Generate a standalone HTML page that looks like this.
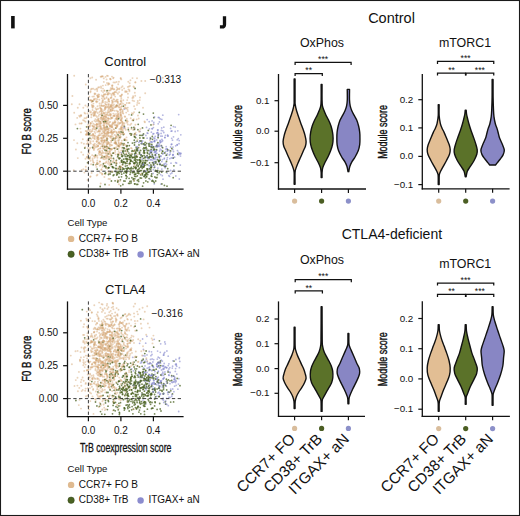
<!DOCTYPE html><html><head><meta charset="utf-8"><style>html,body{margin:0;padding:0;background:#fff;}svg{display:block;}text{font-family:"Liberation Sans",sans-serif;fill:#111;} .t{fill:#d6a776;fill-opacity:.5;r:.95px} .g{fill:#4a6220;fill-opacity:.75;r:.9px} .p{fill:#7a7ec8;fill-opacity:.55;r:.9px}</style></head><body>
<svg width="520" height="516" viewBox="0 0 520 516">
<rect x="0" y="0" width="520" height="516" fill="#fff"/>
<rect x="11.1" y="16" width="3.6" height="12.4" fill="#111"/>
<g>
<circle class="t" cx="95.2" cy="133.1"/>
<circle class="p" cx="172.8" cy="149.5"/>
<circle class="t" cx="89.0" cy="140.6"/>
<circle class="t" cx="112.2" cy="86.1"/>
<circle class="t" cx="102.5" cy="129.6"/>
<circle class="g" cx="162.6" cy="151.1"/>
<circle class="g" cx="173.9" cy="165.8"/>
<circle class="t" cx="135.2" cy="95.7"/>
<circle class="t" cx="112.4" cy="110.1"/>
<circle class="t" cx="74.2" cy="75.7"/>
<circle class="t" cx="122.6" cy="111.7"/>
<circle class="g" cx="156.8" cy="145.4"/>
<circle class="t" cx="110.5" cy="98.1"/>
<circle class="g" cx="134.1" cy="163.5"/>
<circle class="p" cx="177.8" cy="130.8"/>
<circle class="t" cx="128.2" cy="159.5"/>
<circle class="g" cx="135.9" cy="167.0"/>
<circle class="t" cx="88.2" cy="134.6"/>
<circle class="t" cx="103.0" cy="102.3"/>
<circle class="t" cx="106.2" cy="120.7"/>
<circle class="t" cx="107.2" cy="114.6"/>
<circle class="t" cx="108.5" cy="109.1"/>
<circle class="g" cx="134.9" cy="155.9"/>
<circle class="p" cx="152.7" cy="181.1"/>
<circle class="p" cx="162.7" cy="154.1"/>
<circle class="t" cx="99.5" cy="143.5"/>
<circle class="g" cx="149.6" cy="162.9"/>
<circle class="t" cx="128.3" cy="128.0"/>
<circle class="t" cx="97.2" cy="91.0"/>
<circle class="g" cx="140.7" cy="167.2"/>
<circle class="t" cx="96.1" cy="79.7"/>
<circle class="t" cx="104.6" cy="140.7"/>
<circle class="p" cx="173.5" cy="151.5"/>
<circle class="t" cx="114.2" cy="99.4"/>
<circle class="g" cx="134.5" cy="174.7"/>
<circle class="t" cx="90.7" cy="141.3"/>
<circle class="t" cx="131.4" cy="129.1"/>
<circle class="t" cx="95.4" cy="129.5"/>
<circle class="t" cx="92.4" cy="129.2"/>
<circle class="p" cx="148.2" cy="157.0"/>
<circle class="p" cx="173.2" cy="154.7"/>
<circle class="g" cx="128.0" cy="142.6"/>
<circle class="g" cx="84.8" cy="148.0"/>
<circle class="t" cx="90.9" cy="135.6"/>
<circle class="t" cx="124.1" cy="88.4"/>
<circle class="t" cx="116.5" cy="125.2"/>
<circle class="g" cx="140.6" cy="150.5"/>
<circle class="p" cx="153.8" cy="122.3"/>
<circle class="t" cx="104.6" cy="90.8"/>
<circle class="t" cx="99.2" cy="94.6"/>
<circle class="t" cx="118.9" cy="153.1"/>
<circle class="g" cx="141.4" cy="143.7"/>
<circle class="g" cx="122.9" cy="151.4"/>
<circle class="t" cx="117.9" cy="93.7"/>
<circle class="t" cx="99.6" cy="103.4"/>
<circle class="t" cx="98.4" cy="120.3"/>
<circle class="t" cx="101.8" cy="138.3"/>
<circle class="p" cx="164.4" cy="158.1"/>
<circle class="t" cx="120.8" cy="136.9"/>
<circle class="t" cx="108.3" cy="147.4"/>
<circle class="t" cx="74.0" cy="140.1"/>
<circle class="t" cx="92.4" cy="107.4"/>
<circle class="p" cx="167.1" cy="148.9"/>
<circle class="g" cx="115.8" cy="128.1"/>
<circle class="p" cx="159.8" cy="164.3"/>
<circle class="g" cx="139.0" cy="144.9"/>
<circle class="p" cx="158.6" cy="145.5"/>
<circle class="t" cx="79.9" cy="116.7"/>
<circle class="t" cx="105.0" cy="127.4"/>
<circle class="t" cx="89.1" cy="144.5"/>
<circle class="t" cx="121.8" cy="147.7"/>
<circle class="t" cx="102.9" cy="85.6"/>
<circle class="t" cx="107.2" cy="155.5"/>
<circle class="t" cx="89.3" cy="96.7"/>
<circle class="t" cx="89.7" cy="110.9"/>
<circle class="t" cx="109.8" cy="111.5"/>
<circle class="g" cx="146.6" cy="173.4"/>
<circle class="g" cx="135.6" cy="174.3"/>
<circle class="t" cx="99.6" cy="161.6"/>
<circle class="t" cx="112.5" cy="101.6"/>
<circle class="t" cx="121.0" cy="96.5"/>
<circle class="g" cx="161.4" cy="145.7"/>
<circle class="g" cx="142.3" cy="155.9"/>
<circle class="g" cx="107.1" cy="90.7"/>
<circle class="t" cx="109.7" cy="151.9"/>
<circle class="t" cx="103.9" cy="157.3"/>
<circle class="g" cx="126.6" cy="172.6"/>
<circle class="t" cx="84.4" cy="172.6"/>
<circle class="g" cx="126.9" cy="163.2"/>
<circle class="t" cx="100.5" cy="123.1"/>
<circle class="t" cx="104.6" cy="133.2"/>
<circle class="g" cx="133.2" cy="172.4"/>
<circle class="g" cx="125.4" cy="166.1"/>
<circle class="p" cx="160.2" cy="140.5"/>
<circle class="g" cx="142.4" cy="174.9"/>
<circle class="g" cx="129.9" cy="162.9"/>
<circle class="t" cx="110.7" cy="114.4"/>
<circle class="t" cx="105.5" cy="94.3"/>
<circle class="t" cx="108.1" cy="84.7"/>
<circle class="t" cx="95.0" cy="145.9"/>
<circle class="t" cx="115.2" cy="96.6"/>
<circle class="t" cx="81.7" cy="169.9"/>
<circle class="p" cx="165.4" cy="135.3"/>
<circle class="p" cx="136.1" cy="146.6"/>
<circle class="g" cx="161.7" cy="172.2"/>
<circle class="t" cx="119.4" cy="146.9"/>
<circle class="g" cx="141.5" cy="178.1"/>
<circle class="t" cx="101.9" cy="109.5"/>
<circle class="p" cx="161.8" cy="161.6"/>
<circle class="t" cx="93.6" cy="115.8"/>
<circle class="g" cx="134.4" cy="163.6"/>
<circle class="g" cx="124.1" cy="148.6"/>
<circle class="g" cx="123.4" cy="106.2"/>
<circle class="g" cx="124.4" cy="126.5"/>
<circle class="t" cx="105.2" cy="103.6"/>
<circle class="g" cx="157.0" cy="146.5"/>
<circle class="g" cx="102.6" cy="146.3"/>
<circle class="p" cx="180.3" cy="165.1"/>
<circle class="t" cx="105.4" cy="136.5"/>
<circle class="p" cx="163.4" cy="153.2"/>
<circle class="t" cx="112.8" cy="93.2"/>
<circle class="g" cx="140.2" cy="178.0"/>
<circle class="t" cx="110.2" cy="126.7"/>
<circle class="t" cx="106.2" cy="142.5"/>
<circle class="t" cx="127.8" cy="121.4"/>
<circle class="g" cx="135.9" cy="168.4"/>
<circle class="t" cx="119.3" cy="89.3"/>
<circle class="t" cx="77.2" cy="117.9"/>
<circle class="t" cx="108.7" cy="157.3"/>
<circle class="t" cx="111.7" cy="118.0"/>
<circle class="p" cx="154.3" cy="183.9"/>
<circle class="t" cx="79.2" cy="115.7"/>
<circle class="p" cx="172.8" cy="155.4"/>
<circle class="g" cx="137.1" cy="173.2"/>
<circle class="t" cx="127.8" cy="107.6"/>
<circle class="t" cx="111.6" cy="132.2"/>
<circle class="t" cx="108.6" cy="99.4"/>
<circle class="g" cx="134.7" cy="176.3"/>
<circle class="g" cx="125.3" cy="156.5"/>
<circle class="t" cx="90.0" cy="100.2"/>
<circle class="p" cx="167.1" cy="173.1"/>
<circle class="t" cx="112.5" cy="85.4"/>
<circle class="t" cx="106.2" cy="162.6"/>
<circle class="g" cx="127.8" cy="155.4"/>
<circle class="t" cx="111.9" cy="100.5"/>
<circle class="g" cx="158.7" cy="160.9"/>
<circle class="t" cx="129.2" cy="164.7"/>
<circle class="p" cx="167.0" cy="159.5"/>
<circle class="t" cx="96.5" cy="144.6"/>
<circle class="p" cx="150.2" cy="137.6"/>
<circle class="t" cx="102.9" cy="119.3"/>
<circle class="t" cx="95.6" cy="156.5"/>
<circle class="p" cx="135.8" cy="142.0"/>
<circle class="t" cx="103.8" cy="113.0"/>
<circle class="p" cx="160.0" cy="141.1"/>
<circle class="g" cx="127.1" cy="156.3"/>
<circle class="t" cx="98.2" cy="126.8"/>
<circle class="t" cx="100.4" cy="148.4"/>
<circle class="p" cx="158.0" cy="130.0"/>
<circle class="t" cx="103.2" cy="121.9"/>
<circle class="t" cx="99.2" cy="87.3"/>
<circle class="g" cx="115.5" cy="138.3"/>
<circle class="p" cx="146.5" cy="127.4"/>
<circle class="t" cx="117.7" cy="99.7"/>
<circle class="t" cx="125.7" cy="148.9"/>
<circle class="g" cx="112.2" cy="166.6"/>
<circle class="t" cx="112.6" cy="101.1"/>
<circle class="t" cx="108.3" cy="142.1"/>
<circle class="t" cx="131.3" cy="123.7"/>
<circle class="t" cx="102.9" cy="76.4"/>
<circle class="p" cx="153.4" cy="127.6"/>
<circle class="t" cx="88.6" cy="158.8"/>
<circle class="t" cx="105.7" cy="156.5"/>
<circle class="t" cx="118.5" cy="148.5"/>
<circle class="p" cx="177.2" cy="145.0"/>
<circle class="g" cx="132.2" cy="157.7"/>
<circle class="t" cx="124.6" cy="139.2"/>
<circle class="t" cx="94.7" cy="113.7"/>
<circle class="t" cx="110.3" cy="165.8"/>
<circle class="t" cx="98.8" cy="138.3"/>
<circle class="g" cx="134.5" cy="145.0"/>
<circle class="t" cx="93.0" cy="106.0"/>
<circle class="t" cx="111.6" cy="124.7"/>
<circle class="t" cx="113.0" cy="108.4"/>
<circle class="t" cx="83.9" cy="143.7"/>
<circle class="t" cx="94.7" cy="124.8"/>
<circle class="g" cx="129.1" cy="178.3"/>
<circle class="t" cx="102.4" cy="144.2"/>
<circle class="g" cx="144.1" cy="155.3"/>
<circle class="g" cx="150.0" cy="156.4"/>
<circle class="g" cx="143.8" cy="167.0"/>
<circle class="g" cx="139.4" cy="159.9"/>
<circle class="p" cx="165.3" cy="166.9"/>
<circle class="g" cx="131.6" cy="114.9"/>
<circle class="g" cx="123.9" cy="173.1"/>
<circle class="g" cx="112.7" cy="166.9"/>
<circle class="g" cx="129.4" cy="156.8"/>
<circle class="t" cx="95.3" cy="127.8"/>
<circle class="g" cx="149.1" cy="178.6"/>
<circle class="t" cx="126.3" cy="153.4"/>
<circle class="t" cx="115.7" cy="154.4"/>
<circle class="p" cx="157.6" cy="130.1"/>
<circle class="g" cx="153.8" cy="149.0"/>
<circle class="g" cx="140.1" cy="141.0"/>
<circle class="t" cx="103.2" cy="158.7"/>
<circle class="t" cx="112.4" cy="88.7"/>
<circle class="p" cx="160.8" cy="156.4"/>
<circle class="t" cx="80.9" cy="115.5"/>
<circle class="p" cx="157.3" cy="157.5"/>
<circle class="t" cx="77.3" cy="143.2"/>
<circle class="p" cx="147.9" cy="133.3"/>
<circle class="t" cx="107.4" cy="134.1"/>
<circle class="g" cx="135.9" cy="167.6"/>
<circle class="t" cx="92.4" cy="96.6"/>
<circle class="t" cx="118.3" cy="138.0"/>
<circle class="p" cx="151.2" cy="152.3"/>
<circle class="g" cx="173.2" cy="177.7"/>
<circle class="t" cx="110.3" cy="150.8"/>
<circle class="p" cx="152.4" cy="146.1"/>
<circle class="g" cx="131.5" cy="134.0"/>
<circle class="g" cx="153.4" cy="157.7"/>
<circle class="g" cx="173.3" cy="158.0"/>
<circle class="g" cx="133.7" cy="151.2"/>
<circle class="t" cx="125.4" cy="105.0"/>
<circle class="t" cx="105.1" cy="109.5"/>
<circle class="t" cx="109.0" cy="112.2"/>
<circle class="p" cx="152.0" cy="155.8"/>
<circle class="p" cx="150.8" cy="141.8"/>
<circle class="t" cx="108.3" cy="106.5"/>
<circle class="t" cx="122.0" cy="128.1"/>
<circle class="p" cx="140.0" cy="131.4"/>
<circle class="g" cx="136.2" cy="147.8"/>
<circle class="g" cx="151.2" cy="166.2"/>
<circle class="t" cx="107.5" cy="156.2"/>
<circle class="t" cx="120.8" cy="115.0"/>
<circle class="t" cx="121.0" cy="109.0"/>
<circle class="g" cx="123.9" cy="181.0"/>
<circle class="t" cx="105.5" cy="151.0"/>
<circle class="p" cx="151.5" cy="157.4"/>
<circle class="p" cx="121.3" cy="152.6"/>
<circle class="g" cx="147.8" cy="181.9"/>
<circle class="t" cx="116.5" cy="147.1"/>
<circle class="t" cx="93.2" cy="126.8"/>
<circle class="t" cx="101.4" cy="137.8"/>
<circle class="t" cx="94.4" cy="115.4"/>
<circle class="t" cx="138.7" cy="118.5"/>
<circle class="p" cx="168.1" cy="135.9"/>
<circle class="t" cx="111.1" cy="106.3"/>
<circle class="t" cx="117.4" cy="125.7"/>
<circle class="g" cx="129.3" cy="163.6"/>
<circle class="t" cx="121.1" cy="166.9"/>
<circle class="t" cx="107.8" cy="142.0"/>
<circle class="t" cx="111.8" cy="108.1"/>
<circle class="g" cx="138.5" cy="179.7"/>
<circle class="g" cx="134.6" cy="163.2"/>
<circle class="g" cx="145.9" cy="181.0"/>
<circle class="t" cx="118.2" cy="114.3"/>
<circle class="t" cx="109.9" cy="126.0"/>
<circle class="t" cx="116.3" cy="136.6"/>
<circle class="t" cx="101.7" cy="95.5"/>
<circle class="g" cx="143.1" cy="143.9"/>
<circle class="t" cx="103.8" cy="78.4"/>
<circle class="t" cx="103.5" cy="117.7"/>
<circle class="t" cx="121.9" cy="127.4"/>
<circle class="p" cx="159.8" cy="158.9"/>
<circle class="p" cx="161.7" cy="127.9"/>
<circle class="t" cx="91.7" cy="102.2"/>
<circle class="p" cx="180.4" cy="154.2"/>
<circle class="t" cx="108.1" cy="104.1"/>
<circle class="p" cx="137.3" cy="146.7"/>
<circle class="t" cx="97.1" cy="162.5"/>
<circle class="g" cx="111.1" cy="164.2"/>
<circle class="t" cx="98.5" cy="119.2"/>
<circle class="t" cx="97.6" cy="113.0"/>
<circle class="t" cx="130.7" cy="118.2"/>
<circle class="p" cx="175.8" cy="176.0"/>
<circle class="g" cx="137.7" cy="184.3"/>
<circle class="p" cx="173.4" cy="126.6"/>
<circle class="g" cx="147.3" cy="150.7"/>
<circle class="t" cx="97.0" cy="141.3"/>
<circle class="g" cx="105.6" cy="173.0"/>
<circle class="g" cx="133.3" cy="179.4"/>
<circle class="t" cx="91.9" cy="88.8"/>
<circle class="t" cx="114.0" cy="131.8"/>
<circle class="t" cx="93.0" cy="113.1"/>
<circle class="g" cx="128.0" cy="168.0"/>
<circle class="p" cx="165.5" cy="151.6"/>
<circle class="g" cx="117.7" cy="172.7"/>
<circle class="g" cx="144.2" cy="150.7"/>
<circle class="g" cx="124.1" cy="147.8"/>
<circle class="g" cx="115.7" cy="143.0"/>
<circle class="t" cx="105.0" cy="94.4"/>
<circle class="g" cx="135.4" cy="153.1"/>
<circle class="p" cx="175.2" cy="127.1"/>
<circle class="t" cx="98.4" cy="131.3"/>
<circle class="t" cx="111.8" cy="104.8"/>
<circle class="t" cx="94.2" cy="99.2"/>
<circle class="t" cx="94.1" cy="144.8"/>
<circle class="p" cx="167.7" cy="136.1"/>
<circle class="g" cx="129.9" cy="181.5"/>
<circle class="t" cx="108.1" cy="115.4"/>
<circle class="t" cx="103.1" cy="119.1"/>
<circle class="g" cx="97.0" cy="164.1"/>
<circle class="p" cx="171.9" cy="173.0"/>
<circle class="t" cx="107.0" cy="146.6"/>
<circle class="t" cx="122.8" cy="109.9"/>
<circle class="t" cx="117.2" cy="115.6"/>
<circle class="t" cx="126.5" cy="108.3"/>
<circle class="t" cx="81.2" cy="115.8"/>
<circle class="p" cx="167.3" cy="153.9"/>
<circle class="g" cx="108.2" cy="167.9"/>
<circle class="t" cx="109.5" cy="142.9"/>
<circle class="t" cx="114.4" cy="107.6"/>
<circle class="t" cx="111.9" cy="133.5"/>
<circle class="p" cx="151.4" cy="152.6"/>
<circle class="t" cx="95.0" cy="135.5"/>
<circle class="p" cx="159.4" cy="162.7"/>
<circle class="g" cx="156.4" cy="170.9"/>
<circle class="t" cx="137.4" cy="156.6"/>
<circle class="t" cx="83.3" cy="107.7"/>
<circle class="t" cx="89.2" cy="121.6"/>
<circle class="t" cx="107.4" cy="120.6"/>
<circle class="t" cx="121.6" cy="154.5"/>
<circle class="t" cx="97.5" cy="106.3"/>
<circle class="g" cx="108.2" cy="153.8"/>
<circle class="t" cx="87.1" cy="133.4"/>
<circle class="g" cx="119.8" cy="137.3"/>
<circle class="t" cx="108.7" cy="83.3"/>
<circle class="t" cx="117.8" cy="181.6"/>
<circle class="t" cx="108.1" cy="110.8"/>
<circle class="t" cx="93.7" cy="112.6"/>
<circle class="t" cx="93.0" cy="147.9"/>
<circle class="t" cx="90.8" cy="123.5"/>
<circle class="g" cx="147.4" cy="170.6"/>
<circle class="t" cx="108.4" cy="132.8"/>
<circle class="t" cx="120.7" cy="117.0"/>
<circle class="t" cx="108.7" cy="118.6"/>
<circle class="t" cx="106.1" cy="157.6"/>
<circle class="t" cx="107.9" cy="112.3"/>
<circle class="g" cx="153.4" cy="165.0"/>
<circle class="t" cx="89.5" cy="131.3"/>
<circle class="t" cx="110.5" cy="106.7"/>
<circle class="t" cx="100.0" cy="161.5"/>
<circle class="g" cx="137.1" cy="141.1"/>
<circle class="p" cx="170.2" cy="154.1"/>
<circle class="t" cx="101.6" cy="113.3"/>
<circle class="t" cx="116.7" cy="132.3"/>
<circle class="p" cx="163.0" cy="179.2"/>
<circle class="t" cx="110.7" cy="154.7"/>
<circle class="t" cx="121.0" cy="126.9"/>
<circle class="g" cx="117.4" cy="149.2"/>
<circle class="t" cx="111.3" cy="136.4"/>
<circle class="g" cx="140.4" cy="161.3"/>
<circle class="g" cx="160.1" cy="160.2"/>
<circle class="t" cx="103.5" cy="132.6"/>
<circle class="g" cx="134.0" cy="180.8"/>
<circle class="p" cx="158.2" cy="123.8"/>
<circle class="t" cx="105.1" cy="140.4"/>
<circle class="t" cx="118.8" cy="135.7"/>
<circle class="g" cx="92.6" cy="101.2"/>
<circle class="t" cx="92.5" cy="110.0"/>
<circle class="t" cx="111.5" cy="145.2"/>
<circle class="p" cx="164.1" cy="164.0"/>
<circle class="t" cx="93.7" cy="148.9"/>
<circle class="t" cx="113.6" cy="77.6"/>
<circle class="g" cx="149.8" cy="146.2"/>
<circle class="t" cx="106.8" cy="125.7"/>
<circle class="p" cx="157.1" cy="144.1"/>
<circle class="g" cx="155.7" cy="181.0"/>
<circle class="t" cx="110.4" cy="132.6"/>
<circle class="g" cx="146.7" cy="149.0"/>
<circle class="t" cx="96.7" cy="126.7"/>
<circle class="p" cx="146.4" cy="157.2"/>
<circle class="t" cx="116.7" cy="99.7"/>
<circle class="t" cx="103.6" cy="96.7"/>
<circle class="t" cx="104.2" cy="118.8"/>
<circle class="t" cx="101.3" cy="105.1"/>
<circle class="p" cx="142.0" cy="142.5"/>
<circle class="t" cx="102.7" cy="152.2"/>
<circle class="p" cx="153.8" cy="159.4"/>
<circle class="g" cx="118.1" cy="171.3"/>
<circle class="t" cx="118.2" cy="84.2"/>
<circle class="t" cx="99.3" cy="99.7"/>
<circle class="t" cx="87.7" cy="157.7"/>
<circle class="g" cx="148.3" cy="130.4"/>
<circle class="t" cx="111.7" cy="94.3"/>
<circle class="g" cx="141.2" cy="141.0"/>
<circle class="p" cx="155.4" cy="151.3"/>
<circle class="p" cx="159.2" cy="117.7"/>
<circle class="t" cx="96.2" cy="125.0"/>
<circle class="g" cx="133.4" cy="157.3"/>
<circle class="g" cx="118.0" cy="180.7"/>
<circle class="g" cx="135.3" cy="174.2"/>
<circle class="g" cx="122.8" cy="155.8"/>
<circle class="p" cx="155.4" cy="158.7"/>
<circle class="t" cx="117.6" cy="119.4"/>
<circle class="t" cx="98.8" cy="142.2"/>
<circle class="t" cx="73.8" cy="170.2"/>
<circle class="t" cx="107.7" cy="147.4"/>
<circle class="t" cx="111.7" cy="126.4"/>
<circle class="t" cx="103.7" cy="137.8"/>
<circle class="t" cx="133.5" cy="134.8"/>
<circle class="t" cx="114.9" cy="122.1"/>
<circle class="g" cx="106.9" cy="140.1"/>
<circle class="t" cx="110.4" cy="79.3"/>
<circle class="g" cx="146.5" cy="173.3"/>
<circle class="g" cx="122.4" cy="169.6"/>
<circle class="t" cx="81.5" cy="142.8"/>
<circle class="g" cx="118.9" cy="177.2"/>
<circle class="p" cx="154.8" cy="140.5"/>
<circle class="t" cx="145.2" cy="93.3"/>
<circle class="t" cx="96.6" cy="124.2"/>
<circle class="g" cx="154.9" cy="177.0"/>
<circle class="t" cx="93.8" cy="114.8"/>
<circle class="g" cx="93.2" cy="164.7"/>
<circle class="t" cx="119.3" cy="129.1"/>
<circle class="g" cx="123.0" cy="152.0"/>
<circle class="t" cx="116.7" cy="117.5"/>
<circle class="t" cx="115.1" cy="152.1"/>
<circle class="p" cx="179.0" cy="143.7"/>
<circle class="p" cx="137.5" cy="148.4"/>
<circle class="g" cx="115.7" cy="168.5"/>
<circle class="t" cx="100.1" cy="148.4"/>
<circle class="t" cx="95.4" cy="112.3"/>
<circle class="t" cx="114.8" cy="120.4"/>
<circle class="g" cx="145.2" cy="160.4"/>
<circle class="g" cx="120.4" cy="179.8"/>
<circle class="t" cx="104.8" cy="114.0"/>
<circle class="t" cx="94.1" cy="111.3"/>
<circle class="t" cx="118.1" cy="122.2"/>
<circle class="p" cx="157.7" cy="171.1"/>
<circle class="t" cx="125.7" cy="129.8"/>
<circle class="g" cx="147.2" cy="160.7"/>
<circle class="g" cx="116.4" cy="160.3"/>
<circle class="t" cx="112.8" cy="102.5"/>
<circle class="t" cx="115.8" cy="101.4"/>
<circle class="t" cx="116.1" cy="161.0"/>
<circle class="t" cx="85.9" cy="134.8"/>
<circle class="t" cx="99.0" cy="135.3"/>
<circle class="g" cx="116.1" cy="165.4"/>
<circle class="t" cx="102.9" cy="165.2"/>
<circle class="t" cx="106.6" cy="143.9"/>
<circle class="t" cx="115.7" cy="141.0"/>
<circle class="t" cx="111.9" cy="145.3"/>
<circle class="t" cx="117.5" cy="125.8"/>
<circle class="t" cx="106.5" cy="133.2"/>
<circle class="t" cx="124.1" cy="134.3"/>
<circle class="t" cx="121.0" cy="95.7"/>
<circle class="t" cx="115.5" cy="121.6"/>
<circle class="p" cx="149.3" cy="168.4"/>
<circle class="t" cx="112.7" cy="110.4"/>
<circle class="t" cx="91.0" cy="89.3"/>
<circle class="t" cx="120.6" cy="120.1"/>
<circle class="t" cx="117.0" cy="126.3"/>
<circle class="p" cx="158.1" cy="136.0"/>
<circle class="t" cx="134.1" cy="101.1"/>
<circle class="t" cx="105.4" cy="118.8"/>
<circle class="t" cx="99.4" cy="130.9"/>
<circle class="t" cx="92.4" cy="131.0"/>
<circle class="t" cx="123.3" cy="113.6"/>
<circle class="g" cx="115.5" cy="171.4"/>
<circle class="g" cx="134.8" cy="133.9"/>
<circle class="g" cx="134.6" cy="154.0"/>
<circle class="g" cx="131.6" cy="127.7"/>
<circle class="t" cx="109.5" cy="136.5"/>
<circle class="g" cx="137.6" cy="169.7"/>
<circle class="p" cx="177.2" cy="144.7"/>
<circle class="p" cx="159.1" cy="146.6"/>
<circle class="t" cx="149.9" cy="140.6"/>
<circle class="t" cx="102.3" cy="135.8"/>
<circle class="g" cx="152.5" cy="139.3"/>
<circle class="g" cx="154.3" cy="167.4"/>
<circle class="t" cx="114.1" cy="115.5"/>
<circle class="g" cx="146.5" cy="176.2"/>
<circle class="t" cx="114.4" cy="148.2"/>
<circle class="g" cx="162.6" cy="151.3"/>
<circle class="t" cx="91.0" cy="111.9"/>
<circle class="t" cx="119.3" cy="105.0"/>
<circle class="t" cx="106.3" cy="161.5"/>
<circle class="g" cx="157.8" cy="159.7"/>
<circle class="t" cx="111.3" cy="149.1"/>
<circle class="g" cx="140.5" cy="170.6"/>
<circle class="t" cx="98.1" cy="145.5"/>
<circle class="p" cx="177.2" cy="139.8"/>
<circle class="p" cx="170.6" cy="128.4"/>
<circle class="t" cx="101.6" cy="169.2"/>
<circle class="t" cx="100.9" cy="164.8"/>
<circle class="t" cx="115.4" cy="122.8"/>
<circle class="t" cx="101.9" cy="141.7"/>
<circle class="p" cx="169.6" cy="176.3"/>
<circle class="t" cx="126.9" cy="148.9"/>
<circle class="t" cx="111.3" cy="131.4"/>
<circle class="g" cx="118.6" cy="168.7"/>
<circle class="t" cx="87.3" cy="140.8"/>
<circle class="t" cx="113.7" cy="148.1"/>
<circle class="p" cx="161.1" cy="133.4"/>
<circle class="t" cx="98.6" cy="115.9"/>
<circle class="p" cx="165.2" cy="167.8"/>
<circle class="g" cx="135.6" cy="162.7"/>
<circle class="t" cx="107.3" cy="139.1"/>
<circle class="p" cx="156.3" cy="159.8"/>
<circle class="t" cx="90.3" cy="125.1"/>
<circle class="g" cx="117.7" cy="182.0"/>
<circle class="g" cx="147.8" cy="172.4"/>
<circle class="p" cx="142.0" cy="156.8"/>
<circle class="t" cx="99.3" cy="114.4"/>
<circle class="p" cx="167.0" cy="148.9"/>
<circle class="t" cx="112.5" cy="162.2"/>
<circle class="t" cx="100.1" cy="108.3"/>
<circle class="t" cx="80.9" cy="132.3"/>
<circle class="t" cx="93.1" cy="134.3"/>
<circle class="t" cx="87.2" cy="156.6"/>
<circle class="g" cx="144.1" cy="166.4"/>
<circle class="t" cx="135.1" cy="133.9"/>
<circle class="g" cx="127.7" cy="151.4"/>
<circle class="g" cx="131.0" cy="170.4"/>
<circle class="t" cx="101.0" cy="140.3"/>
<circle class="g" cx="126.7" cy="168.8"/>
<circle class="g" cx="125.1" cy="151.0"/>
<circle class="t" cx="108.5" cy="178.9"/>
<circle class="g" cx="86.6" cy="126.8"/>
<circle class="g" cx="126.4" cy="173.0"/>
<circle class="t" cx="104.5" cy="127.2"/>
<circle class="p" cx="169.4" cy="155.0"/>
<circle class="g" cx="136.5" cy="155.9"/>
<circle class="t" cx="90.3" cy="100.3"/>
<circle class="p" cx="165.7" cy="149.1"/>
<circle class="t" cx="111.2" cy="142.3"/>
<circle class="t" cx="95.1" cy="111.9"/>
<circle class="p" cx="154.1" cy="141.3"/>
<circle class="g" cx="127.0" cy="161.1"/>
<circle class="g" cx="138.9" cy="173.5"/>
<circle class="t" cx="87.2" cy="134.5"/>
<circle class="t" cx="88.8" cy="151.0"/>
<circle class="p" cx="150.3" cy="159.8"/>
<circle class="g" cx="126.1" cy="154.4"/>
<circle class="g" cx="127.5" cy="149.3"/>
<circle class="p" cx="169.4" cy="150.5"/>
<circle class="t" cx="85.7" cy="131.0"/>
<circle class="p" cx="158.0" cy="143.4"/>
<circle class="g" cx="121.6" cy="154.3"/>
<circle class="p" cx="163.8" cy="132.5"/>
<circle class="g" cx="126.7" cy="159.1"/>
<circle class="p" cx="155.8" cy="146.5"/>
<circle class="t" cx="109.3" cy="122.3"/>
<circle class="t" cx="112.0" cy="76.6"/>
<circle class="t" cx="106.8" cy="141.5"/>
<circle class="t" cx="100.1" cy="126.2"/>
<circle class="t" cx="87.8" cy="148.1"/>
<circle class="t" cx="104.5" cy="140.1"/>
<circle class="t" cx="109.2" cy="101.4"/>
<circle class="t" cx="112.5" cy="124.9"/>
<circle class="t" cx="97.2" cy="131.9"/>
<circle class="t" cx="107.5" cy="113.1"/>
<circle class="g" cx="123.4" cy="144.9"/>
<circle class="t" cx="144.9" cy="122.3"/>
<circle class="g" cx="118.6" cy="145.9"/>
<circle class="t" cx="113.2" cy="93.5"/>
<circle class="t" cx="102.7" cy="121.1"/>
<circle class="t" cx="106.0" cy="115.0"/>
<circle class="t" cx="104.3" cy="122.4"/>
<circle class="t" cx="125.8" cy="162.9"/>
<circle class="t" cx="117.8" cy="146.1"/>
<circle class="t" cx="86.8" cy="157.2"/>
<circle class="t" cx="103.8" cy="81.9"/>
<circle class="g" cx="145.8" cy="172.8"/>
<circle class="g" cx="134.4" cy="142.7"/>
<circle class="g" cx="100.2" cy="186.5"/>
<circle class="p" cx="149.4" cy="143.0"/>
<circle class="t" cx="96.6" cy="101.4"/>
<circle class="g" cx="145.4" cy="163.1"/>
<circle class="t" cx="120.8" cy="103.8"/>
<circle class="t" cx="107.6" cy="147.7"/>
<circle class="t" cx="93.9" cy="150.1"/>
<circle class="g" cx="118.1" cy="154.7"/>
<circle class="p" cx="147.1" cy="138.2"/>
<circle class="p" cx="174.6" cy="157.2"/>
<circle class="t" cx="117.6" cy="102.3"/>
<circle class="t" cx="115.5" cy="91.9"/>
<circle class="g" cx="149.0" cy="157.5"/>
<circle class="p" cx="148.5" cy="160.0"/>
<circle class="t" cx="103.9" cy="149.0"/>
<circle class="t" cx="128.9" cy="103.0"/>
<circle class="t" cx="133.9" cy="180.6"/>
<circle class="t" cx="117.4" cy="157.5"/>
<circle class="t" cx="139.0" cy="131.4"/>
<circle class="t" cx="95.4" cy="93.7"/>
<circle class="g" cx="120.5" cy="169.1"/>
<circle class="t" cx="97.1" cy="95.4"/>
<circle class="t" cx="100.7" cy="76.7"/>
<circle class="t" cx="89.3" cy="149.7"/>
<circle class="t" cx="120.9" cy="101.4"/>
<circle class="p" cx="166.6" cy="164.5"/>
<circle class="t" cx="108.7" cy="132.8"/>
<circle class="g" cx="143.2" cy="167.2"/>
<circle class="t" cx="120.6" cy="115.4"/>
<circle class="t" cx="101.0" cy="86.5"/>
<circle class="t" cx="135.4" cy="124.7"/>
<circle class="t" cx="100.3" cy="111.3"/>
<circle class="t" cx="134.6" cy="128.9"/>
<circle class="t" cx="93.2" cy="141.2"/>
<circle class="t" cx="94.2" cy="126.4"/>
<circle class="t" cx="113.8" cy="131.9"/>
<circle class="t" cx="107.2" cy="131.9"/>
<circle class="t" cx="125.2" cy="92.1"/>
<circle class="t" cx="98.7" cy="120.9"/>
<circle class="t" cx="99.9" cy="121.6"/>
<circle class="t" cx="110.1" cy="78.6"/>
<circle class="t" cx="112.1" cy="103.0"/>
<circle class="p" cx="165.7" cy="155.3"/>
<circle class="g" cx="147.1" cy="164.7"/>
<circle class="g" cx="126.3" cy="178.4"/>
<circle class="t" cx="118.2" cy="140.2"/>
<circle class="t" cx="126.7" cy="140.2"/>
<circle class="g" cx="131.1" cy="135.2"/>
<circle class="g" cx="139.3" cy="112.4"/>
<circle class="t" cx="120.2" cy="136.0"/>
<circle class="t" cx="103.1" cy="95.9"/>
<circle class="p" cx="178.3" cy="138.7"/>
<circle class="t" cx="104.0" cy="140.7"/>
<circle class="p" cx="160.4" cy="164.4"/>
<circle class="p" cx="139.7" cy="141.0"/>
<circle class="g" cx="171.8" cy="148.5"/>
<circle class="t" cx="125.0" cy="139.3"/>
<circle class="t" cx="98.9" cy="131.1"/>
<circle class="g" cx="130.5" cy="161.2"/>
<circle class="t" cx="101.1" cy="87.9"/>
<circle class="t" cx="87.9" cy="139.6"/>
<circle class="t" cx="103.4" cy="137.2"/>
<circle class="t" cx="92.7" cy="135.7"/>
<circle class="t" cx="108.1" cy="129.6"/>
<circle class="t" cx="94.8" cy="114.2"/>
<circle class="g" cx="138.2" cy="124.3"/>
<circle class="p" cx="175.7" cy="145.8"/>
<circle class="t" cx="126.5" cy="137.4"/>
<circle class="t" cx="122.6" cy="165.0"/>
<circle class="p" cx="160.9" cy="184.1"/>
<circle class="t" cx="93.6" cy="106.3"/>
<circle class="t" cx="104.8" cy="166.5"/>
<circle class="g" cx="139.9" cy="137.9"/>
<circle class="t" cx="124.7" cy="116.5"/>
<circle class="t" cx="105.8" cy="121.9"/>
<circle class="t" cx="94.4" cy="156.3"/>
<circle class="p" cx="142.2" cy="159.2"/>
<circle class="p" cx="156.8" cy="133.1"/>
<circle class="p" cx="158.1" cy="136.9"/>
<circle class="t" cx="96.4" cy="166.9"/>
<circle class="t" cx="86.6" cy="143.9"/>
<circle class="t" cx="109.3" cy="125.0"/>
<circle class="t" cx="144.5" cy="121.5"/>
<circle class="t" cx="110.7" cy="115.6"/>
<circle class="g" cx="140.1" cy="157.7"/>
<circle class="t" cx="122.2" cy="90.0"/>
<circle class="t" cx="101.7" cy="117.9"/>
<circle class="t" cx="108.4" cy="100.5"/>
<circle class="g" cx="143.5" cy="134.0"/>
<circle class="g" cx="137.2" cy="148.9"/>
<circle class="t" cx="95.9" cy="155.8"/>
<circle class="t" cx="120.9" cy="113.1"/>
<circle class="t" cx="120.2" cy="144.1"/>
<circle class="t" cx="111.6" cy="158.4"/>
<circle class="g" cx="144.7" cy="148.4"/>
<circle class="g" cx="132.9" cy="157.5"/>
<circle class="g" cx="143.9" cy="151.2"/>
<circle class="g" cx="144.2" cy="170.7"/>
<circle class="g" cx="155.1" cy="161.7"/>
<circle class="p" cx="154.4" cy="152.4"/>
<circle class="g" cx="154.3" cy="182.6"/>
<circle class="t" cx="127.4" cy="146.3"/>
<circle class="t" cx="111.9" cy="127.3"/>
<circle class="p" cx="162.1" cy="147.2"/>
<circle class="t" cx="105.2" cy="127.5"/>
<circle class="t" cx="115.2" cy="114.1"/>
<circle class="t" cx="130.1" cy="124.9"/>
<circle class="g" cx="139.6" cy="164.3"/>
<circle class="t" cx="83.2" cy="154.7"/>
<circle class="t" cx="101.1" cy="110.0"/>
<circle class="g" cx="145.1" cy="174.8"/>
<circle class="g" cx="132.0" cy="154.1"/>
<circle class="t" cx="139.1" cy="103.3"/>
<circle class="p" cx="171.9" cy="131.0"/>
<circle class="g" cx="151.2" cy="175.9"/>
<circle class="t" cx="102.8" cy="131.2"/>
<circle class="g" cx="134.5" cy="172.5"/>
<circle class="t" cx="91.7" cy="100.4"/>
<circle class="t" cx="119.3" cy="146.1"/>
<circle class="t" cx="123.0" cy="103.8"/>
<circle class="t" cx="101.9" cy="76.6"/>
<circle class="t" cx="87.0" cy="117.2"/>
<circle class="t" cx="106.2" cy="117.0"/>
<circle class="g" cx="111.5" cy="164.3"/>
<circle class="t" cx="121.3" cy="127.4"/>
<circle class="g" cx="141.4" cy="165.6"/>
<circle class="p" cx="136.5" cy="134.8"/>
<circle class="t" cx="99.5" cy="135.4"/>
<circle class="t" cx="104.3" cy="105.6"/>
<circle class="t" cx="93.7" cy="162.6"/>
<circle class="g" cx="115.1" cy="180.8"/>
<circle class="g" cx="145.5" cy="162.5"/>
<circle class="p" cx="175.2" cy="131.5"/>
<circle class="t" cx="96.2" cy="109.8"/>
<circle class="t" cx="132.9" cy="120.3"/>
<circle class="g" cx="166.5" cy="155.2"/>
<circle class="t" cx="101.4" cy="133.5"/>
<circle class="t" cx="120.1" cy="123.2"/>
<circle class="t" cx="124.9" cy="104.7"/>
<circle class="t" cx="120.7" cy="78.0"/>
<circle class="t" cx="102.2" cy="150.8"/>
<circle class="g" cx="142.6" cy="173.8"/>
<circle class="t" cx="101.0" cy="128.9"/>
<circle class="t" cx="88.0" cy="144.1"/>
<circle class="t" cx="112.9" cy="108.2"/>
<circle class="t" cx="119.5" cy="144.9"/>
<circle class="p" cx="153.8" cy="161.6"/>
<circle class="p" cx="152.2" cy="160.1"/>
<circle class="g" cx="140.3" cy="161.0"/>
<circle class="g" cx="147.6" cy="157.5"/>
<circle class="t" cx="108.7" cy="90.6"/>
<circle class="g" cx="116.4" cy="168.7"/>
<circle class="t" cx="122.5" cy="86.2"/>
<circle class="t" cx="100.8" cy="121.9"/>
<circle class="t" cx="83.4" cy="169.3"/>
<circle class="g" cx="120.2" cy="169.6"/>
<circle class="g" cx="143.8" cy="138.0"/>
<circle class="g" cx="140.7" cy="174.8"/>
<circle class="g" cx="92.6" cy="147.5"/>
<circle class="g" cx="139.7" cy="162.9"/>
<circle class="g" cx="133.3" cy="120.3"/>
<circle class="t" cx="99.5" cy="133.1"/>
<circle class="t" cx="98.3" cy="94.4"/>
<circle class="t" cx="109.9" cy="90.5"/>
<circle class="t" cx="84.5" cy="118.2"/>
<circle class="t" cx="105.5" cy="107.1"/>
<circle class="t" cx="91.3" cy="117.3"/>
<circle class="p" cx="171.1" cy="131.2"/>
<circle class="t" cx="127.5" cy="109.6"/>
<circle class="p" cx="167.6" cy="135.0"/>
<circle class="p" cx="172.5" cy="140.2"/>
<circle class="t" cx="87.5" cy="106.8"/>
<circle class="g" cx="120.0" cy="158.2"/>
<circle class="t" cx="104.0" cy="112.7"/>
<circle class="t" cx="90.0" cy="129.7"/>
<circle class="g" cx="143.8" cy="172.2"/>
<circle class="t" cx="101.8" cy="115.6"/>
<circle class="t" cx="116.5" cy="90.3"/>
<circle class="t" cx="119.0" cy="132.8"/>
<circle class="t" cx="116.9" cy="127.2"/>
<circle class="t" cx="131.9" cy="113.3"/>
<circle class="t" cx="132.6" cy="100.5"/>
<circle class="g" cx="130.6" cy="159.4"/>
<circle class="p" cx="154.5" cy="141.0"/>
<circle class="g" cx="142.5" cy="127.9"/>
<circle class="t" cx="122.4" cy="123.8"/>
<circle class="t" cx="94.6" cy="112.9"/>
<circle class="t" cx="96.9" cy="109.3"/>
<circle class="t" cx="100.0" cy="161.6"/>
<circle class="p" cx="155.8" cy="157.2"/>
<circle class="t" cx="104.1" cy="125.7"/>
<circle class="t" cx="116.0" cy="162.4"/>
<circle class="t" cx="109.1" cy="156.6"/>
<circle class="t" cx="124.2" cy="139.5"/>
<circle class="g" cx="105.9" cy="167.7"/>
<circle class="t" cx="86.0" cy="118.2"/>
<circle class="g" cx="161.9" cy="183.9"/>
<circle class="t" cx="125.4" cy="140.3"/>
<circle class="g" cx="107.1" cy="138.6"/>
<circle class="g" cx="146.0" cy="160.6"/>
<circle class="t" cx="91.2" cy="114.7"/>
<circle class="t" cx="93.3" cy="162.5"/>
<circle class="t" cx="107.5" cy="151.3"/>
<circle class="g" cx="167.7" cy="168.7"/>
<circle class="t" cx="105.7" cy="121.5"/>
<circle class="g" cx="157.9" cy="142.6"/>
<circle class="t" cx="117.9" cy="153.7"/>
<circle class="t" cx="108.8" cy="130.6"/>
<circle class="p" cx="180.5" cy="156.1"/>
<circle class="g" cx="146.0" cy="174.3"/>
<circle class="g" cx="149.9" cy="156.4"/>
<circle class="t" cx="106.5" cy="114.5"/>
<circle class="g" cx="147.6" cy="153.4"/>
<circle class="t" cx="99.6" cy="126.0"/>
<circle class="g" cx="125.7" cy="120.4"/>
<circle class="g" cx="152.3" cy="136.5"/>
<circle class="t" cx="96.3" cy="129.7"/>
<circle class="t" cx="101.1" cy="123.4"/>
<circle class="p" cx="162.2" cy="136.2"/>
<circle class="t" cx="101.3" cy="128.0"/>
<circle class="t" cx="95.7" cy="98.8"/>
<circle class="t" cx="93.2" cy="128.7"/>
<circle class="g" cx="141.4" cy="165.3"/>
<circle class="g" cx="136.5" cy="165.1"/>
<circle class="g" cx="126.0" cy="168.3"/>
<circle class="t" cx="109.9" cy="144.5"/>
<circle class="g" cx="138.8" cy="169.3"/>
<circle class="t" cx="111.3" cy="129.9"/>
<circle class="t" cx="109.1" cy="115.3"/>
<circle class="g" cx="110.9" cy="171.9"/>
<circle class="t" cx="120.5" cy="128.5"/>
<circle class="t" cx="111.2" cy="140.8"/>
<circle class="g" cx="107.0" cy="126.9"/>
<circle class="p" cx="160.6" cy="142.3"/>
<circle class="t" cx="71.8" cy="104.2"/>
<circle class="p" cx="150.2" cy="139.2"/>
<circle class="g" cx="140.5" cy="157.4"/>
<circle class="g" cx="129.9" cy="154.8"/>
<circle class="t" cx="111.0" cy="117.5"/>
<circle class="g" cx="130.2" cy="163.7"/>
<circle class="g" cx="171.1" cy="125.3"/>
<circle class="t" cx="117.0" cy="136.9"/>
<circle class="t" cx="94.7" cy="129.1"/>
<circle class="t" cx="121.5" cy="87.4"/>
<circle class="t" cx="91.8" cy="114.5"/>
<circle class="g" cx="129.2" cy="159.3"/>
<circle class="g" cx="150.6" cy="138.4"/>
<circle class="t" cx="125.2" cy="116.8"/>
<circle class="t" cx="105.9" cy="153.1"/>
<circle class="t" cx="85.2" cy="147.1"/>
<circle class="t" cx="95.7" cy="164.9"/>
<circle class="g" cx="87.6" cy="162.7"/>
<circle class="t" cx="117.6" cy="169.0"/>
<circle class="t" cx="98.1" cy="96.0"/>
<circle class="g" cx="167.0" cy="186.2"/>
<circle class="t" cx="116.6" cy="82.0"/>
<circle class="t" cx="104.2" cy="116.5"/>
<circle class="p" cx="162.9" cy="130.8"/>
<circle class="t" cx="103.8" cy="125.7"/>
<circle class="t" cx="120.2" cy="166.6"/>
<circle class="g" cx="152.3" cy="154.5"/>
<circle class="p" cx="157.8" cy="132.3"/>
<circle class="g" cx="123.8" cy="162.6"/>
<circle class="g" cx="153.9" cy="163.9"/>
<circle class="t" cx="110.3" cy="115.6"/>
<circle class="t" cx="103.0" cy="106.1"/>
<circle class="t" cx="114.1" cy="129.5"/>
<circle class="t" cx="99.9" cy="152.4"/>
<circle class="g" cx="148.5" cy="172.0"/>
<circle class="t" cx="97.4" cy="162.9"/>
<circle class="p" cx="154.5" cy="165.6"/>
<circle class="t" cx="85.8" cy="170.3"/>
<circle class="t" cx="126.4" cy="121.4"/>
<circle class="g" cx="158.7" cy="161.6"/>
<circle class="t" cx="112.1" cy="85.5"/>
<circle class="g" cx="143.2" cy="164.5"/>
<circle class="t" cx="116.2" cy="164.0"/>
<circle class="t" cx="97.3" cy="160.4"/>
<circle class="t" cx="103.9" cy="94.2"/>
<circle class="t" cx="133.9" cy="150.7"/>
<circle class="g" cx="130.2" cy="168.3"/>
<circle class="t" cx="128.5" cy="89.4"/>
<circle class="p" cx="160.8" cy="156.0"/>
<circle class="t" cx="97.0" cy="123.7"/>
<circle class="t" cx="107.6" cy="118.2"/>
<circle class="t" cx="92.0" cy="106.1"/>
<circle class="p" cx="163.7" cy="166.0"/>
<circle class="g" cx="113.2" cy="175.5"/>
<circle class="t" cx="99.8" cy="165.7"/>
<circle class="g" cx="128.9" cy="153.1"/>
<circle class="p" cx="155.4" cy="155.5"/>
<circle class="t" cx="92.8" cy="107.6"/>
<circle class="t" cx="110.8" cy="136.0"/>
<circle class="p" cx="170.6" cy="170.5"/>
<circle class="t" cx="115.5" cy="106.4"/>
<circle class="t" cx="104.3" cy="159.3"/>
<circle class="t" cx="89.9" cy="126.6"/>
<circle class="t" cx="98.2" cy="143.3"/>
<circle class="g" cx="142.3" cy="156.4"/>
<circle class="t" cx="105.2" cy="116.6"/>
<circle class="t" cx="138.0" cy="115.5"/>
<circle class="t" cx="118.6" cy="106.7"/>
<circle class="t" cx="97.9" cy="137.4"/>
<circle class="t" cx="103.6" cy="113.7"/>
<circle class="t" cx="116.6" cy="149.1"/>
<circle class="t" cx="111.0" cy="106.5"/>
<circle class="t" cx="114.2" cy="89.2"/>
<circle class="t" cx="105.9" cy="130.3"/>
<circle class="g" cx="136.8" cy="156.8"/>
<circle class="t" cx="119.3" cy="117.6"/>
<circle class="t" cx="106.3" cy="104.8"/>
<circle class="t" cx="103.5" cy="123.0"/>
<circle class="t" cx="92.6" cy="159.9"/>
<circle class="t" cx="137.8" cy="101.0"/>
<circle class="g" cx="166.5" cy="161.5"/>
<circle class="t" cx="126.4" cy="91.5"/>
<circle class="g" cx="121.9" cy="160.5"/>
<circle class="g" cx="123.0" cy="147.7"/>
<circle class="g" cx="125.4" cy="158.8"/>
<circle class="p" cx="167.5" cy="150.7"/>
<circle class="g" cx="177.7" cy="154.0"/>
<circle class="t" cx="118.5" cy="141.2"/>
<circle class="t" cx="135.3" cy="82.4"/>
<circle class="t" cx="101.8" cy="111.5"/>
<circle class="t" cx="77.8" cy="158.1"/>
<circle class="t" cx="102.1" cy="76.1"/>
<circle class="t" cx="131.0" cy="148.0"/>
<circle class="g" cx="144.5" cy="144.8"/>
<circle class="p" cx="155.5" cy="155.0"/>
<circle class="t" cx="96.9" cy="146.9"/>
<circle class="t" cx="127.0" cy="120.5"/>
<circle class="t" cx="86.2" cy="134.3"/>
<circle class="t" cx="93.7" cy="145.9"/>
<circle class="t" cx="102.4" cy="120.1"/>
<circle class="t" cx="103.7" cy="135.3"/>
<circle class="t" cx="139.7" cy="131.5"/>
<circle class="t" cx="100.7" cy="128.2"/>
<circle class="t" cx="101.9" cy="115.3"/>
<circle class="g" cx="151.4" cy="167.2"/>
<circle class="t" cx="117.6" cy="180.1"/>
<circle class="p" cx="157.9" cy="168.1"/>
<circle class="g" cx="138.3" cy="147.7"/>
<circle class="t" cx="97.2" cy="99.3"/>
<circle class="g" cx="126.7" cy="158.5"/>
<circle class="g" cx="127.2" cy="161.1"/>
<circle class="t" cx="98.4" cy="118.4"/>
<circle class="g" cx="136.7" cy="184.4"/>
<circle class="t" cx="119.4" cy="88.4"/>
<circle class="g" cx="128.8" cy="149.0"/>
<circle class="t" cx="121.7" cy="127.8"/>
<circle class="t" cx="100.4" cy="122.0"/>
<circle class="t" cx="121.8" cy="106.2"/>
<circle class="t" cx="110.8" cy="158.5"/>
<circle class="t" cx="116.6" cy="132.4"/>
<circle class="t" cx="110.5" cy="110.6"/>
<circle class="t" cx="111.7" cy="125.9"/>
<circle class="g" cx="151.9" cy="176.3"/>
<circle class="g" cx="121.1" cy="172.1"/>
<circle class="g" cx="130.9" cy="161.0"/>
<circle class="g" cx="156.0" cy="161.8"/>
<circle class="g" cx="145.4" cy="147.8"/>
<circle class="t" cx="98.8" cy="153.5"/>
<circle class="t" cx="108.5" cy="129.2"/>
<circle class="t" cx="99.5" cy="143.9"/>
<circle class="t" cx="97.4" cy="157.7"/>
<circle class="t" cx="109.0" cy="101.6"/>
<circle class="g" cx="113.2" cy="153.2"/>
<circle class="t" cx="118.5" cy="116.4"/>
<circle class="g" cx="123.6" cy="168.9"/>
<circle class="t" cx="103.0" cy="100.0"/>
<circle class="t" cx="104.7" cy="115.9"/>
<circle class="t" cx="107.1" cy="144.4"/>
<circle class="t" cx="105.5" cy="76.9"/>
<circle class="t" cx="105.3" cy="107.5"/>
<circle class="t" cx="105.4" cy="174.3"/>
<circle class="g" cx="141.0" cy="154.8"/>
<circle class="t" cx="105.9" cy="104.6"/>
<circle class="t" cx="101.1" cy="129.5"/>
<circle class="t" cx="102.1" cy="155.5"/>
<circle class="t" cx="104.4" cy="142.2"/>
<circle class="p" cx="160.6" cy="174.6"/>
<circle class="p" cx="171.3" cy="157.8"/>
<circle class="g" cx="146.2" cy="147.2"/>
<circle class="t" cx="91.6" cy="135.1"/>
<circle class="g" cx="157.4" cy="164.3"/>
<circle class="g" cx="143.8" cy="147.6"/>
<circle class="t" cx="121.7" cy="143.8"/>
<circle class="t" cx="132.4" cy="98.0"/>
<circle class="p" cx="148.6" cy="165.1"/>
<circle class="t" cx="122.5" cy="132.5"/>
<circle class="t" cx="123.2" cy="126.2"/>
<circle class="p" cx="146.1" cy="170.9"/>
<circle class="g" cx="138.1" cy="166.4"/>
<circle class="g" cx="144.7" cy="165.2"/>
<circle class="t" cx="120.7" cy="78.6"/>
<circle class="t" cx="102.0" cy="118.5"/>
<circle class="t" cx="135.6" cy="132.8"/>
<circle class="g" cx="159.0" cy="161.0"/>
<circle class="t" cx="122.6" cy="124.8"/>
<circle class="p" cx="179.9" cy="152.9"/>
<circle class="g" cx="144.1" cy="144.0"/>
<circle class="t" cx="108.4" cy="161.9"/>
<circle class="t" cx="115.4" cy="138.5"/>
<circle class="g" cx="140.1" cy="162.3"/>
<circle class="g" cx="109.1" cy="159.2"/>
<circle class="t" cx="81.3" cy="152.2"/>
<circle class="p" cx="154.6" cy="141.7"/>
<circle class="t" cx="109.9" cy="163.3"/>
<circle class="t" cx="105.9" cy="153.2"/>
<circle class="g" cx="141.5" cy="166.2"/>
<circle class="t" cx="104.9" cy="120.5"/>
<circle class="g" cx="153.3" cy="162.8"/>
<circle class="g" cx="130.6" cy="172.6"/>
<circle class="t" cx="124.5" cy="123.3"/>
<circle class="g" cx="139.5" cy="159.8"/>
<circle class="p" cx="153.8" cy="137.9"/>
<circle class="g" cx="106.5" cy="146.4"/>
<circle class="t" cx="120.2" cy="109.9"/>
<circle class="g" cx="89.5" cy="158.1"/>
<circle class="t" cx="106.7" cy="92.1"/>
<circle class="t" cx="121.4" cy="106.7"/>
<circle class="t" cx="109.3" cy="108.3"/>
<circle class="g" cx="121.4" cy="160.4"/>
<circle class="t" cx="93.3" cy="123.8"/>
<circle class="t" cx="98.0" cy="146.0"/>
<circle class="t" cx="100.7" cy="183.5"/>
<circle class="p" cx="181.1" cy="153.3"/>
<circle class="t" cx="103.4" cy="142.5"/>
<circle class="t" cx="95.5" cy="147.2"/>
<circle class="t" cx="135.4" cy="82.3"/>
<circle class="g" cx="122.2" cy="156.5"/>
<circle class="t" cx="110.7" cy="136.9"/>
<circle class="t" cx="131.0" cy="153.8"/>
<circle class="p" cx="152.0" cy="128.6"/>
<circle class="t" cx="134.6" cy="151.1"/>
<circle class="t" cx="96.6" cy="141.2"/>
<circle class="g" cx="108.9" cy="148.3"/>
<circle class="t" cx="109.0" cy="173.6"/>
<circle class="p" cx="153.8" cy="133.6"/>
<circle class="t" cx="93.3" cy="88.8"/>
<circle class="t" cx="123.9" cy="128.6"/>
<circle class="g" cx="145.1" cy="156.8"/>
<circle class="t" cx="102.3" cy="156.0"/>
<circle class="t" cx="95.0" cy="89.6"/>
<circle class="t" cx="111.6" cy="155.2"/>
<circle class="t" cx="105.6" cy="116.5"/>
<circle class="t" cx="116.5" cy="119.1"/>
<circle class="p" cx="150.1" cy="152.0"/>
<circle class="t" cx="89.5" cy="135.2"/>
<circle class="p" cx="146.2" cy="156.1"/>
<circle class="p" cx="134.6" cy="128.2"/>
<circle class="t" cx="108.3" cy="128.4"/>
<circle class="p" cx="171.3" cy="144.5"/>
<circle class="g" cx="140.5" cy="160.2"/>
<circle class="p" cx="159.6" cy="151.0"/>
<circle class="t" cx="130.4" cy="133.9"/>
<circle class="g" cx="122.9" cy="184.5"/>
<circle class="t" cx="95.7" cy="164.6"/>
<circle class="t" cx="109.2" cy="152.6"/>
<circle class="t" cx="114.7" cy="122.2"/>
<circle class="g" cx="133.9" cy="127.4"/>
<circle class="g" cx="147.8" cy="169.4"/>
<circle class="t" cx="88.1" cy="130.0"/>
<circle class="t" cx="108.4" cy="143.2"/>
<circle class="g" cx="114.0" cy="174.8"/>
<circle class="g" cx="141.0" cy="155.1"/>
<circle class="t" cx="119.4" cy="158.6"/>
<circle class="t" cx="100.8" cy="114.4"/>
<circle class="t" cx="121.3" cy="79.4"/>
<circle class="g" cx="119.3" cy="173.4"/>
<circle class="t" cx="119.9" cy="95.9"/>
<circle class="t" cx="118.4" cy="167.2"/>
<circle class="t" cx="121.6" cy="120.0"/>
<circle class="g" cx="159.3" cy="156.3"/>
<circle class="t" cx="97.8" cy="137.4"/>
<circle class="p" cx="145.9" cy="135.4"/>
<circle class="t" cx="125.2" cy="91.1"/>
<circle class="t" cx="100.5" cy="152.6"/>
<circle class="t" cx="108.5" cy="83.8"/>
<circle class="g" cx="131.7" cy="168.7"/>
<circle class="t" cx="127.2" cy="100.1"/>
<circle class="g" cx="119.2" cy="158.8"/>
<circle class="t" cx="110.4" cy="109.7"/>
<circle class="t" cx="103.5" cy="135.7"/>
<circle class="t" cx="111.9" cy="138.8"/>
<circle class="t" cx="100.7" cy="138.1"/>
<circle class="t" cx="79.6" cy="123.5"/>
<circle class="t" cx="107.9" cy="93.3"/>
<circle class="g" cx="123.6" cy="159.2"/>
<circle class="t" cx="104.7" cy="146.9"/>
<circle class="g" cx="138.0" cy="171.5"/>
<circle class="g" cx="139.7" cy="135.3"/>
<circle class="g" cx="158.4" cy="134.8"/>
<circle class="p" cx="142.6" cy="141.0"/>
<circle class="p" cx="153.1" cy="173.4"/>
<circle class="t" cx="108.5" cy="160.5"/>
<circle class="g" cx="144.2" cy="162.5"/>
<circle class="t" cx="103.0" cy="88.6"/>
<circle class="t" cx="112.8" cy="123.5"/>
<circle class="g" cx="97.2" cy="169.2"/>
<circle class="t" cx="100.9" cy="117.6"/>
<circle class="g" cx="111.4" cy="181.0"/>
<circle class="t" cx="94.2" cy="136.0"/>
<circle class="g" cx="128.6" cy="183.3"/>
<circle class="t" cx="122.6" cy="129.7"/>
<circle class="t" cx="113.4" cy="105.9"/>
<circle class="g" cx="142.6" cy="163.0"/>
<circle class="t" cx="127.9" cy="93.8"/>
<circle class="t" cx="109.5" cy="158.4"/>
<circle class="t" cx="91.6" cy="172.9"/>
<circle class="t" cx="109.6" cy="154.0"/>
<circle class="t" cx="137.4" cy="102.9"/>
<circle class="t" cx="105.2" cy="120.6"/>
<circle class="g" cx="135.7" cy="168.5"/>
<circle class="g" cx="125.1" cy="181.1"/>
<circle class="t" cx="137.0" cy="78.3"/>
<circle class="p" cx="147.6" cy="158.0"/>
<circle class="t" cx="86.8" cy="134.8"/>
<circle class="t" cx="90.2" cy="157.0"/>
<circle class="g" cx="95.5" cy="155.1"/>
<circle class="t" cx="102.0" cy="138.6"/>
<circle class="g" cx="155.6" cy="170.5"/>
<circle class="t" cx="113.2" cy="78.2"/>
<circle class="g" cx="109.9" cy="148.7"/>
<circle class="p" cx="151.7" cy="151.7"/>
<circle class="g" cx="158.7" cy="160.8"/>
<circle class="p" cx="180.8" cy="134.8"/>
<circle class="g" cx="144.0" cy="176.4"/>
<circle class="t" cx="127.8" cy="86.9"/>
<circle class="t" cx="127.9" cy="111.1"/>
<circle class="t" cx="106.9" cy="123.2"/>
<circle class="t" cx="94.1" cy="138.4"/>
<circle class="p" cx="151.9" cy="166.5"/>
<circle class="t" cx="101.2" cy="76.6"/>
<circle class="g" cx="134.3" cy="140.2"/>
<circle class="g" cx="129.3" cy="145.6"/>
<circle class="t" cx="101.7" cy="153.6"/>
<circle class="t" cx="120.8" cy="128.9"/>
<circle class="p" cx="143.1" cy="134.9"/>
<circle class="t" cx="118.8" cy="142.9"/>
<circle class="g" cx="124.5" cy="140.2"/>
<circle class="t" cx="79.5" cy="104.3"/>
<circle class="t" cx="88.2" cy="124.6"/>
<circle class="p" cx="160.8" cy="136.1"/>
<circle class="p" cx="156.1" cy="153.4"/>
<circle class="t" cx="105.2" cy="136.1"/>
<circle class="t" cx="98.8" cy="131.4"/>
<circle class="p" cx="152.3" cy="128.8"/>
<circle class="t" cx="103.2" cy="148.3"/>
<circle class="p" cx="164.9" cy="137.3"/>
<circle class="t" cx="117.2" cy="133.6"/>
<circle class="t" cx="75.9" cy="149.5"/>
<circle class="g" cx="157.4" cy="174.7"/>
<circle class="g" cx="137.1" cy="170.9"/>
<circle class="t" cx="100.6" cy="125.7"/>
<circle class="t" cx="116.3" cy="143.5"/>
<circle class="t" cx="98.2" cy="108.7"/>
<circle class="t" cx="122.3" cy="132.5"/>
<circle class="t" cx="115.4" cy="106.9"/>
<circle class="t" cx="91.8" cy="100.9"/>
<circle class="g" cx="132.0" cy="151.3"/>
<circle class="g" cx="96.7" cy="128.2"/>
<circle class="g" cx="116.6" cy="105.6"/>
<circle class="t" cx="115.9" cy="107.0"/>
<circle class="t" cx="97.4" cy="163.6"/>
<circle class="t" cx="95.9" cy="115.8"/>
<circle class="t" cx="104.1" cy="128.3"/>
<circle class="t" cx="121.8" cy="140.6"/>
<circle class="t" cx="91.1" cy="100.4"/>
<circle class="t" cx="102.2" cy="174.5"/>
<circle class="t" cx="118.7" cy="136.1"/>
<circle class="t" cx="92.7" cy="137.7"/>
<circle class="g" cx="166.4" cy="171.9"/>
<circle class="t" cx="120.0" cy="152.4"/>
<circle class="t" cx="119.2" cy="132.8"/>
<circle class="t" cx="125.9" cy="145.2"/>
<circle class="g" cx="147.3" cy="152.6"/>
<circle class="t" cx="114.4" cy="92.5"/>
<circle class="g" cx="134.0" cy="171.4"/>
<circle class="g" cx="135.3" cy="160.6"/>
<circle class="g" cx="152.5" cy="180.5"/>
<circle class="t" cx="113.0" cy="132.4"/>
<circle class="t" cx="128.9" cy="131.2"/>
<circle class="t" cx="101.2" cy="110.9"/>
<circle class="t" cx="100.1" cy="121.8"/>
<circle class="t" cx="117.4" cy="120.1"/>
<circle class="p" cx="160.2" cy="149.1"/>
<circle class="t" cx="106.7" cy="97.1"/>
<circle class="g" cx="122.9" cy="132.4"/>
<circle class="t" cx="98.6" cy="163.8"/>
<circle class="g" cx="124.0" cy="143.6"/>
<circle class="t" cx="106.2" cy="155.2"/>
<circle class="t" cx="102.6" cy="100.8"/>
<circle class="g" cx="145.6" cy="144.9"/>
<circle class="t" cx="120.8" cy="166.4"/>
<circle class="p" cx="159.5" cy="144.1"/>
<circle class="g" cx="113.4" cy="138.5"/>
<circle class="g" cx="157.7" cy="170.5"/>
<circle class="t" cx="105.8" cy="106.6"/>
<circle class="t" cx="113.8" cy="159.7"/>
<circle class="t" cx="107.7" cy="153.8"/>
<circle class="t" cx="115.9" cy="125.1"/>
<circle class="t" cx="85.5" cy="121.8"/>
<circle class="t" cx="108.1" cy="143.1"/>
<circle class="g" cx="104.3" cy="156.7"/>
<circle class="t" cx="114.5" cy="134.9"/>
<circle class="t" cx="129.7" cy="83.3"/>
<circle class="t" cx="81.1" cy="123.6"/>
<circle class="p" cx="157.7" cy="146.6"/>
<circle class="t" cx="122.4" cy="111.1"/>
<circle class="t" cx="116.5" cy="118.9"/>
<circle class="t" cx="115.7" cy="127.6"/>
<circle class="t" cx="75.5" cy="124.4"/>
<circle class="t" cx="108.3" cy="98.8"/>
<circle class="g" cx="143.1" cy="160.8"/>
<circle class="t" cx="116.7" cy="110.7"/>
<circle class="t" cx="103.9" cy="153.0"/>
<circle class="t" cx="86.5" cy="131.1"/>
<circle class="p" cx="157.5" cy="146.2"/>
<circle class="t" cx="90.2" cy="176.7"/>
<circle class="t" cx="98.8" cy="123.0"/>
<circle class="t" cx="116.5" cy="118.3"/>
<circle class="t" cx="133.4" cy="97.5"/>
<circle class="g" cx="167.8" cy="149.8"/>
<circle class="g" cx="135.3" cy="158.7"/>
<circle class="t" cx="112.4" cy="127.1"/>
<circle class="t" cx="113.9" cy="123.5"/>
<circle class="t" cx="115.6" cy="118.6"/>
<circle class="p" cx="150.0" cy="179.4"/>
<circle class="t" cx="101.9" cy="98.4"/>
<circle class="t" cx="121.7" cy="102.1"/>
<circle class="g" cx="161.6" cy="165.3"/>
<circle class="t" cx="103.7" cy="117.1"/>
<circle class="t" cx="116.2" cy="127.5"/>
<circle class="t" cx="92.2" cy="77.5"/>
<circle class="t" cx="107.2" cy="149.0"/>
<circle class="t" cx="107.2" cy="129.3"/>
<circle class="p" cx="153.4" cy="169.7"/>
<circle class="t" cx="132.5" cy="78.1"/>
<circle class="p" cx="160.0" cy="163.9"/>
<circle class="t" cx="92.2" cy="155.3"/>
<circle class="g" cx="122.7" cy="167.9"/>
<circle class="g" cx="139.3" cy="152.1"/>
<circle class="g" cx="165.9" cy="166.1"/>
<circle class="t" cx="85.8" cy="84.5"/>
<circle class="t" cx="117.7" cy="124.0"/>
<circle class="t" cx="111.9" cy="88.7"/>
<circle class="g" cx="77.4" cy="128.6"/>
<circle class="t" cx="77.8" cy="107.7"/>
<circle class="g" cx="131.9" cy="177.7"/>
<circle class="t" cx="117.1" cy="145.0"/>
<circle class="t" cx="104.2" cy="98.2"/>
<circle class="g" cx="108.6" cy="167.6"/>
<circle class="t" cx="93.9" cy="127.0"/>
<circle class="g" cx="112.4" cy="171.8"/>
<circle class="t" cx="119.7" cy="154.7"/>
<circle class="t" cx="137.0" cy="154.4"/>
<circle class="p" cx="138.9" cy="142.5"/>
<circle class="t" cx="90.8" cy="143.5"/>
<circle class="g" cx="134.8" cy="178.8"/>
<circle class="t" cx="111.4" cy="97.4"/>
<circle class="t" cx="123.8" cy="144.9"/>
<circle class="p" cx="152.2" cy="150.3"/>
<circle class="g" cx="89.0" cy="134.3"/>
<circle class="t" cx="116.6" cy="125.8"/>
<circle class="t" cx="120.0" cy="107.4"/>
<circle class="p" cx="179.2" cy="140.6"/>
<circle class="t" cx="106.2" cy="98.1"/>
<circle class="g" cx="131.4" cy="156.4"/>
<circle class="g" cx="160.0" cy="164.4"/>
<circle class="g" cx="145.1" cy="142.4"/>
<circle class="t" cx="104.1" cy="145.1"/>
<circle class="g" cx="164.4" cy="185.4"/>
<circle class="t" cx="99.4" cy="151.7"/>
<circle class="t" cx="113.2" cy="161.3"/>
<circle class="g" cx="142.4" cy="162.7"/>
<circle class="t" cx="104.3" cy="124.2"/>
<circle class="t" cx="116.6" cy="92.4"/>
<circle class="t" cx="110.3" cy="106.4"/>
<circle class="g" cx="147.1" cy="155.6"/>
<circle class="g" cx="129.7" cy="183.4"/>
<circle class="g" cx="159.3" cy="157.3"/>
<circle class="t" cx="109.8" cy="128.4"/>
<circle class="p" cx="161.8" cy="169.1"/>
<circle class="p" cx="179.6" cy="153.6"/>
<circle class="t" cx="134.1" cy="87.3"/>
<circle class="t" cx="124.4" cy="144.2"/>
<circle class="t" cx="81.0" cy="115.2"/>
<circle class="t" cx="140.4" cy="129.0"/>
<circle class="t" cx="101.1" cy="119.7"/>
<circle class="g" cx="146.6" cy="143.3"/>
<circle class="t" cx="125.3" cy="128.1"/>
<circle class="g" cx="121.5" cy="162.2"/>
<circle class="g" cx="133.5" cy="178.6"/>
<circle class="t" cx="107.6" cy="121.9"/>
<circle class="t" cx="94.9" cy="139.0"/>
<circle class="t" cx="97.0" cy="117.0"/>
<circle class="t" cx="104.4" cy="177.0"/>
<circle class="g" cx="153.5" cy="158.2"/>
<circle class="t" cx="97.7" cy="97.1"/>
<circle class="t" cx="98.7" cy="148.9"/>
<circle class="g" cx="89.9" cy="138.2"/>
<circle class="t" cx="115.2" cy="150.6"/>
<circle class="t" cx="91.1" cy="164.3"/>
<circle class="t" cx="120.6" cy="111.7"/>
<circle class="t" cx="162.8" cy="77.7"/>
<circle class="t" cx="97.5" cy="101.6"/>
<circle class="p" cx="155.2" cy="136.4"/>
<circle class="g" cx="133.1" cy="168.6"/>
<circle class="g" cx="151.7" cy="174.0"/>
<circle class="t" cx="101.3" cy="170.0"/>
<circle class="t" cx="120.9" cy="120.0"/>
<circle class="p" cx="161.8" cy="141.6"/>
<circle class="t" cx="94.0" cy="115.6"/>
<circle class="t" cx="93.3" cy="144.7"/>
<circle class="g" cx="142.5" cy="135.4"/>
<circle class="t" cx="145.2" cy="81.0"/>
<circle class="t" cx="115.4" cy="141.7"/>
<circle class="t" cx="133.1" cy="96.3"/>
<circle class="t" cx="107.0" cy="135.9"/>
<circle class="t" cx="121.0" cy="118.6"/>
<circle class="t" cx="129.4" cy="91.3"/>
<circle class="t" cx="94.6" cy="137.3"/>
<circle class="p" cx="153.8" cy="124.2"/>
<circle class="t" cx="109.0" cy="118.7"/>
<circle class="t" cx="113.7" cy="89.3"/>
<circle class="g" cx="134.6" cy="136.5"/>
<circle class="t" cx="120.4" cy="112.8"/>
<circle class="t" cx="93.5" cy="147.3"/>
<circle class="t" cx="133.2" cy="129.9"/>
<circle class="p" cx="155.6" cy="162.4"/>
<circle class="g" cx="161.8" cy="153.1"/>
<circle class="t" cx="119.2" cy="107.5"/>
<circle class="t" cx="90.5" cy="160.8"/>
<circle class="g" cx="134.6" cy="167.6"/>
<circle class="t" cx="126.8" cy="103.0"/>
<circle class="t" cx="104.7" cy="120.3"/>
<circle class="g" cx="170.6" cy="150.9"/>
<circle class="t" cx="95.8" cy="121.6"/>
<circle class="t" cx="106.3" cy="133.5"/>
<circle class="g" cx="135.0" cy="150.1"/>
<circle class="t" cx="111.4" cy="140.6"/>
<circle class="t" cx="107.0" cy="75.8"/>
<circle class="t" cx="97.5" cy="95.7"/>
<circle class="t" cx="110.7" cy="126.2"/>
<circle class="g" cx="149.0" cy="172.1"/>
<circle class="t" cx="94.8" cy="143.6"/>
<circle class="t" cx="107.9" cy="94.6"/>
<circle class="g" cx="121.5" cy="176.8"/>
<circle class="t" cx="93.9" cy="96.5"/>
<circle class="g" cx="126.0" cy="175.5"/>
<circle class="t" cx="96.8" cy="125.0"/>
<circle class="p" cx="178.4" cy="152.3"/>
<circle class="t" cx="110.9" cy="157.2"/>
<circle class="g" cx="105.0" cy="150.1"/>
<circle class="t" cx="116.1" cy="135.3"/>
<circle class="p" cx="147.2" cy="133.0"/>
<circle class="t" cx="111.1" cy="131.5"/>
<circle class="t" cx="104.1" cy="110.1"/>
<circle class="t" cx="87.7" cy="143.0"/>
<circle class="t" cx="105.7" cy="85.1"/>
<circle class="t" cx="85.2" cy="113.6"/>
<circle class="g" cx="151.0" cy="157.0"/>
<circle class="t" cx="92.7" cy="105.8"/>
<circle class="t" cx="111.7" cy="132.4"/>
<circle class="t" cx="107.9" cy="143.8"/>
<circle class="t" cx="102.6" cy="167.0"/>
<circle class="t" cx="109.2" cy="184.9"/>
<circle class="g" cx="105.6" cy="121.6"/>
<circle class="t" cx="115.7" cy="143.6"/>
<circle class="g" cx="138.2" cy="165.6"/>
<circle class="g" cx="128.3" cy="129.7"/>
<circle class="t" cx="106.3" cy="129.3"/>
<circle class="t" cx="107.0" cy="83.0"/>
<circle class="g" cx="104.7" cy="165.8"/>
<circle class="g" cx="127.3" cy="159.2"/>
<circle class="p" cx="151.1" cy="159.7"/>
<circle class="t" cx="129.5" cy="90.1"/>
<circle class="g" cx="118.2" cy="172.7"/>
<circle class="g" cx="135.1" cy="157.0"/>
<circle class="p" cx="142.9" cy="164.4"/>
<circle class="g" cx="125.5" cy="163.5"/>
<circle class="t" cx="90.1" cy="148.0"/>
<circle class="p" cx="154.8" cy="138.5"/>
<circle class="t" cx="110.4" cy="153.4"/>
<circle class="g" cx="135.9" cy="176.6"/>
<circle class="t" cx="107.9" cy="75.9"/>
<circle class="t" cx="119.1" cy="131.7"/>
<circle class="t" cx="94.2" cy="99.3"/>
<circle class="t" cx="106.5" cy="126.5"/>
<circle class="t" cx="120.4" cy="133.8"/>
<circle class="g" cx="126.1" cy="175.6"/>
<circle class="t" cx="136.7" cy="119.4"/>
<circle class="g" cx="122.0" cy="143.6"/>
<circle class="t" cx="107.8" cy="133.6"/>
<circle class="p" cx="179.3" cy="179.0"/>
<circle class="t" cx="112.0" cy="107.1"/>
<circle class="t" cx="104.7" cy="141.1"/>
<circle class="p" cx="152.8" cy="155.8"/>
<circle class="p" cx="173.9" cy="170.0"/>
<circle class="g" cx="155.8" cy="163.1"/>
<circle class="t" cx="105.9" cy="167.5"/>
<circle class="g" cx="141.0" cy="135.3"/>
<circle class="g" cx="119.7" cy="166.3"/>
<circle class="t" cx="104.6" cy="123.0"/>
<circle class="t" cx="109.3" cy="164.7"/>
<circle class="t" cx="120.4" cy="114.7"/>
<circle class="t" cx="103.8" cy="105.8"/>
<circle class="g" cx="148.9" cy="145.9"/>
<circle class="t" cx="87.2" cy="126.8"/>
<circle class="t" cx="88.0" cy="163.1"/>
<circle class="t" cx="106.5" cy="123.1"/>
<circle class="t" cx="111.7" cy="149.5"/>
<circle class="t" cx="105.4" cy="108.5"/>
<circle class="t" cx="99.2" cy="96.5"/>
<circle class="t" cx="123.3" cy="123.2"/>
<circle class="t" cx="120.5" cy="131.1"/>
<circle class="t" cx="91.2" cy="138.9"/>
<circle class="g" cx="145.0" cy="157.7"/>
<circle class="t" cx="109.9" cy="146.3"/>
<circle class="g" cx="138.6" cy="181.4"/>
<circle class="g" cx="132.3" cy="150.6"/>
<circle class="g" cx="144.9" cy="175.5"/>
<circle class="p" cx="172.6" cy="158.2"/>
<circle class="p" cx="156.7" cy="139.9"/>
<circle class="t" cx="100.3" cy="134.9"/>
<circle class="p" cx="166.2" cy="146.7"/>
<circle class="t" cx="100.5" cy="123.6"/>
<circle class="g" cx="149.5" cy="168.8"/>
<circle class="t" cx="104.9" cy="129.3"/>
<circle class="t" cx="104.0" cy="130.2"/>
<circle class="t" cx="102.0" cy="105.7"/>
<circle class="t" cx="109.9" cy="125.9"/>
<circle class="t" cx="99.2" cy="142.6"/>
<circle class="t" cx="108.3" cy="120.2"/>
<circle class="t" cx="109.8" cy="107.3"/>
<circle class="t" cx="97.1" cy="138.7"/>
<circle class="p" cx="171.0" cy="163.2"/>
<circle class="g" cx="105.0" cy="184.5"/>
<circle class="t" cx="117.2" cy="101.6"/>
<circle class="g" cx="113.7" cy="167.7"/>
<circle class="t" cx="102.7" cy="111.3"/>
<circle class="t" cx="96.7" cy="175.5"/>
<circle class="g" cx="130.0" cy="174.3"/>
<circle class="t" cx="119.8" cy="104.2"/>
<circle class="t" cx="97.9" cy="124.7"/>
<circle class="g" cx="101.8" cy="157.4"/>
<circle class="p" cx="153.5" cy="149.1"/>
<circle class="t" cx="85.4" cy="105.5"/>
<circle class="t" cx="121.8" cy="130.0"/>
<circle class="t" cx="123.0" cy="131.3"/>
<circle class="t" cx="117.7" cy="112.1"/>
<circle class="t" cx="110.6" cy="79.3"/>
<circle class="g" cx="116.5" cy="163.4"/>
<circle class="g" cx="162.9" cy="165.2"/>
<circle class="g" cx="151.1" cy="152.6"/>
<circle class="g" cx="132.6" cy="172.5"/>
<circle class="g" cx="151.1" cy="149.4"/>
<circle class="t" cx="84.5" cy="112.8"/>
<circle class="t" cx="108.5" cy="136.1"/>
<circle class="p" cx="150.7" cy="146.7"/>
<circle class="g" cx="151.3" cy="146.9"/>
<circle class="p" cx="147.2" cy="119.6"/>
<circle class="p" cx="158.2" cy="134.4"/>
<circle class="g" cx="108.9" cy="167.7"/>
<circle class="t" cx="116.9" cy="105.5"/>
<circle class="p" cx="151.4" cy="132.2"/>
<circle class="g" cx="149.3" cy="154.1"/>
<circle class="p" cx="178.7" cy="114.6"/>
<circle class="p" cx="176.6" cy="163.1"/>
<circle class="t" cx="104.9" cy="129.7"/>
<circle class="t" cx="87.4" cy="113.5"/>
<circle class="t" cx="106.1" cy="117.5"/>
<circle class="t" cx="117.4" cy="89.4"/>
<circle class="g" cx="144.4" cy="153.0"/>
<circle class="t" cx="114.1" cy="122.4"/>
<circle class="t" cx="93.6" cy="135.4"/>
<circle class="g" cx="132.6" cy="161.6"/>
<circle class="g" cx="137.4" cy="180.4"/>
<circle class="p" cx="161.9" cy="139.5"/>
<circle class="t" cx="114.5" cy="101.4"/>
<circle class="t" cx="126.7" cy="91.7"/>
<circle class="t" cx="109.3" cy="151.3"/>
<circle class="t" cx="87.9" cy="154.4"/>
<circle class="t" cx="110.7" cy="88.2"/>
<circle class="g" cx="159.7" cy="171.3"/>
<circle class="g" cx="137.0" cy="162.4"/>
<circle class="t" cx="104.7" cy="99.0"/>
<circle class="t" cx="107.9" cy="132.5"/>
<circle class="t" cx="98.6" cy="139.4"/>
<circle class="t" cx="120.0" cy="181.1"/>
<circle class="g" cx="104.9" cy="173.6"/>
<circle class="t" cx="102.4" cy="101.8"/>
<circle class="t" cx="117.4" cy="115.8"/>
<circle class="t" cx="114.8" cy="125.0"/>
<circle class="t" cx="101.5" cy="117.0"/>
<circle class="t" cx="114.4" cy="143.0"/>
<circle class="g" cx="135.8" cy="153.2"/>
<circle class="g" cx="158.1" cy="137.7"/>
<circle class="t" cx="103.5" cy="148.4"/>
<circle class="t" cx="103.6" cy="118.5"/>
<circle class="g" cx="147.7" cy="174.6"/>
<circle class="t" cx="113.3" cy="113.6"/>
<circle class="t" cx="88.4" cy="133.5"/>
<circle class="t" cx="103.7" cy="163.1"/>
<circle class="g" cx="151.2" cy="167.7"/>
<circle class="g" cx="127.1" cy="165.7"/>
<circle class="t" cx="100.3" cy="107.2"/>
<circle class="p" cx="156.8" cy="150.2"/>
<circle class="t" cx="118.8" cy="131.6"/>
<circle class="t" cx="115.7" cy="143.3"/>
<circle class="t" cx="110.0" cy="144.7"/>
<circle class="g" cx="112.7" cy="167.5"/>
<circle class="t" cx="99.1" cy="129.3"/>
<circle class="t" cx="96.8" cy="124.3"/>
<circle class="g" cx="121.6" cy="161.5"/>
<circle class="t" cx="104.9" cy="134.2"/>
<circle class="g" cx="125.4" cy="171.4"/>
<circle class="p" cx="160.2" cy="118.9"/>
<circle class="t" cx="114.4" cy="116.0"/>
<circle class="g" cx="133.9" cy="162.8"/>
<circle class="t" cx="114.3" cy="139.9"/>
<circle class="g" cx="137.7" cy="160.0"/>
<circle class="g" cx="142.2" cy="173.3"/>
<circle class="t" cx="117.3" cy="118.5"/>
<circle class="p" cx="158.3" cy="117.4"/>
<circle class="t" cx="118.0" cy="111.4"/>
<circle class="t" cx="118.0" cy="103.3"/>
<circle class="t" cx="97.6" cy="139.2"/>
<circle class="g" cx="130.8" cy="160.9"/>
<circle class="g" cx="150.9" cy="164.9"/>
<circle class="t" cx="98.2" cy="146.3"/>
<circle class="p" cx="141.3" cy="143.3"/>
<circle class="p" cx="156.9" cy="153.2"/>
<circle class="p" cx="161.4" cy="150.2"/>
<circle class="t" cx="97.0" cy="126.9"/>
<circle class="t" cx="87.4" cy="131.6"/>
<circle class="t" cx="101.2" cy="146.4"/>
<circle class="g" cx="127.0" cy="176.8"/>
<circle class="t" cx="111.8" cy="132.1"/>
<circle class="g" cx="128.4" cy="168.2"/>
<circle class="p" cx="162.8" cy="115.2"/>
<circle class="t" cx="133.0" cy="113.8"/>
<circle class="t" cx="115.0" cy="82.5"/>
<circle class="t" cx="101.3" cy="141.5"/>
<circle class="t" cx="111.7" cy="118.0"/>
<circle class="g" cx="148.7" cy="144.0"/>
<circle class="t" cx="97.2" cy="89.2"/>
<circle class="g" cx="111.6" cy="155.7"/>
<circle class="t" cx="107.4" cy="144.3"/>
<circle class="t" cx="118.9" cy="81.7"/>
<circle class="t" cx="80.4" cy="128.6"/>
<circle class="t" cx="82.8" cy="139.3"/>
<circle class="g" cx="164.9" cy="166.4"/>
<circle class="t" cx="83.1" cy="120.1"/>
<circle class="t" cx="101.4" cy="157.9"/>
<circle class="g" cx="118.0" cy="134.8"/>
<circle class="t" cx="143.0" cy="107.8"/>
<circle class="t" cx="100.8" cy="143.7"/>
<circle class="t" cx="112.6" cy="123.6"/>
<circle class="t" cx="116.1" cy="136.7"/>
<circle class="g" cx="144.9" cy="163.4"/>
<circle class="t" cx="109.9" cy="179.0"/>
<circle class="g" cx="123.6" cy="153.3"/>
<circle class="p" cx="151.8" cy="145.3"/>
<circle class="t" cx="116.4" cy="105.2"/>
<circle class="g" cx="130.6" cy="160.7"/>
<circle class="g" cx="130.1" cy="157.3"/>
<circle class="g" cx="118.2" cy="154.8"/>
<circle class="t" cx="81.7" cy="123.3"/>
<circle class="t" cx="116.2" cy="100.6"/>
<circle class="p" cx="155.2" cy="152.4"/>
<circle class="g" cx="135.1" cy="88.4"/>
<circle class="p" cx="143.5" cy="163.8"/>
<circle class="t" cx="116.8" cy="87.4"/>
<circle class="t" cx="105.2" cy="102.0"/>
<circle class="g" cx="123.3" cy="134.6"/>
<circle class="t" cx="94.1" cy="156.0"/>
<circle class="g" cx="129.7" cy="157.6"/>
<circle class="t" cx="118.4" cy="115.3"/>
<circle class="t" cx="99.4" cy="112.1"/>
<circle class="t" cx="119.0" cy="124.0"/>
<circle class="t" cx="109.3" cy="172.4"/>
<circle class="t" cx="100.3" cy="131.2"/>
<circle class="g" cx="136.1" cy="159.6"/>
<circle class="t" cx="137.0" cy="104.9"/>
<circle class="g" cx="129.9" cy="168.9"/>
<circle class="p" cx="153.3" cy="146.8"/>
<circle class="t" cx="89.1" cy="126.7"/>
<circle class="t" cx="111.3" cy="111.3"/>
<circle class="t" cx="113.9" cy="104.4"/>
<circle class="g" cx="152.6" cy="156.4"/>
<circle class="g" cx="136.9" cy="150.7"/>
<circle class="t" cx="89.5" cy="126.0"/>
<circle class="t" cx="93.4" cy="103.6"/>
<circle class="t" cx="125.3" cy="107.5"/>
<circle class="g" cx="139.4" cy="153.9"/>
<circle class="p" cx="173.5" cy="136.8"/>
<circle class="t" cx="88.8" cy="139.5"/>
<circle class="t" cx="107.0" cy="138.3"/>
<circle class="t" cx="115.4" cy="138.5"/>
<circle class="p" cx="162.4" cy="159.6"/>
<circle class="g" cx="152.5" cy="162.7"/>
<circle class="g" cx="153.5" cy="181.4"/>
<circle class="t" cx="100.9" cy="126.6"/>
<circle class="g" cx="153.3" cy="113.1"/>
<circle class="t" cx="107.5" cy="131.5"/>
<circle class="t" cx="90.4" cy="92.2"/>
<circle class="t" cx="120.8" cy="104.1"/>
<circle class="g" cx="147.1" cy="168.8"/>
<circle class="g" cx="112.6" cy="140.1"/>
<circle class="t" cx="134.5" cy="127.7"/>
<circle class="t" cx="132.4" cy="120.2"/>
<circle class="t" cx="107.5" cy="156.9"/>
<circle class="t" cx="107.2" cy="94.4"/>
<circle class="t" cx="105.7" cy="158.7"/>
<circle class="t" cx="129.0" cy="114.6"/>
<circle class="t" cx="118.7" cy="113.6"/>
<circle class="t" cx="114.5" cy="138.3"/>
<circle class="t" cx="96.1" cy="101.3"/>
<circle class="t" cx="101.5" cy="105.7"/>
<circle class="p" cx="169.9" cy="158.6"/>
<circle class="t" cx="121.4" cy="116.1"/>
<circle class="t" cx="134.1" cy="106.2"/>
<circle class="t" cx="117.6" cy="105.5"/>
<circle class="t" cx="108.6" cy="107.6"/>
<circle class="t" cx="110.8" cy="114.2"/>
<circle class="p" cx="156.2" cy="151.2"/>
<circle class="t" cx="99.9" cy="151.0"/>
<circle class="t" cx="107.0" cy="158.6"/>
<circle class="t" cx="140.0" cy="97.5"/>
<circle class="t" cx="118.6" cy="116.9"/>
<circle class="g" cx="157.0" cy="177.5"/>
<circle class="t" cx="133.5" cy="86.5"/>
<circle class="t" cx="106.6" cy="79.5"/>
<circle class="g" cx="117.8" cy="156.5"/>
<circle class="g" cx="113.4" cy="153.2"/>
<circle class="t" cx="102.7" cy="96.5"/>
<circle class="p" cx="177.5" cy="150.6"/>
<circle class="p" cx="144.6" cy="176.2"/>
<circle class="t" cx="114.4" cy="94.7"/>
<circle class="g" cx="89.7" cy="133.7"/>
<circle class="t" cx="97.0" cy="146.1"/>
<circle class="p" cx="162.6" cy="140.7"/>
<circle class="t" cx="113.2" cy="116.0"/>
<circle class="t" cx="96.3" cy="136.7"/>
<circle class="t" cx="111.3" cy="149.6"/>
<circle class="t" cx="96.4" cy="111.6"/>
<circle class="t" cx="90.6" cy="91.2"/>
<circle class="t" cx="113.5" cy="82.4"/>
<circle class="g" cx="114.3" cy="162.7"/>
<circle class="t" cx="87.0" cy="132.6"/>
<circle class="t" cx="112.9" cy="122.4"/>
<circle class="g" cx="122.9" cy="162.7"/>
<circle class="g" cx="128.2" cy="155.6"/>
<circle class="t" cx="121.1" cy="100.1"/>
<circle class="g" cx="135.6" cy="137.7"/>
<circle class="t" cx="141.0" cy="174.0"/>
<circle class="p" cx="173.0" cy="147.1"/>
<circle class="t" cx="115.0" cy="142.5"/>
<circle class="g" cx="132.4" cy="143.1"/>
<circle class="g" cx="103.4" cy="163.8"/>
<circle class="t" cx="128.9" cy="86.5"/>
<circle class="t" cx="100.2" cy="127.8"/>
<circle class="g" cx="153.8" cy="117.7"/>
<circle class="g" cx="142.6" cy="186.2"/>
<circle class="g" cx="134.7" cy="157.7"/>
<circle class="t" cx="103.5" cy="143.0"/>
<circle class="t" cx="103.5" cy="137.3"/>
<circle class="t" cx="139.6" cy="147.6"/>
<circle class="t" cx="121.1" cy="129.3"/>
<circle class="t" cx="91.8" cy="100.7"/>
<circle class="t" cx="90.6" cy="123.0"/>
<circle class="g" cx="135.9" cy="161.4"/>
<circle class="t" cx="102.0" cy="140.6"/>
<circle class="p" cx="152.3" cy="142.1"/>
<circle class="t" cx="104.8" cy="108.2"/>
<circle class="t" cx="106.2" cy="148.1"/>
<circle class="t" cx="94.6" cy="93.5"/>
<circle class="t" cx="120.5" cy="109.8"/>
<circle class="g" cx="164.8" cy="153.0"/>
<circle class="g" cx="141.2" cy="166.6"/>
<circle class="t" cx="92.6" cy="158.4"/>
<circle class="t" cx="120.7" cy="101.2"/>
<circle class="g" cx="144.3" cy="165.4"/>
<circle class="t" cx="109.8" cy="114.0"/>
<circle class="t" cx="103.3" cy="125.2"/>
<circle class="t" cx="120.8" cy="142.9"/>
<circle class="t" cx="107.5" cy="106.9"/>
<circle class="g" cx="127.3" cy="150.0"/>
<circle class="t" cx="105.1" cy="130.9"/>
<circle class="t" cx="92.6" cy="125.9"/>
<circle class="p" cx="152.1" cy="120.9"/>
<circle class="t" cx="101.6" cy="103.1"/>
<circle class="p" cx="135.3" cy="154.7"/>
<circle class="g" cx="105.9" cy="166.4"/>
<circle class="t" cx="108.2" cy="118.3"/>
<circle class="t" cx="128.3" cy="81.7"/>
<circle class="t" cx="122.8" cy="112.9"/>
<circle class="t" cx="105.8" cy="112.4"/>
<circle class="t" cx="110.3" cy="105.1"/>
<circle class="t" cx="105.6" cy="157.0"/>
<circle class="g" cx="155.3" cy="154.9"/>
<circle class="t" cx="121.5" cy="142.8"/>
<circle class="g" cx="151.9" cy="181.1"/>
<circle class="g" cx="153.7" cy="147.0"/>
<circle class="t" cx="102.2" cy="133.4"/>
<circle class="t" cx="101.8" cy="113.3"/>
<circle class="t" cx="112.1" cy="171.2"/>
<circle class="g" cx="156.5" cy="149.6"/>
<circle class="t" cx="100.0" cy="172.5"/>
<circle class="t" cx="89.2" cy="153.3"/>
<circle class="t" cx="141.4" cy="81.0"/>
<circle class="t" cx="104.3" cy="146.1"/>
<circle class="t" cx="121.9" cy="94.4"/>
<circle class="t" cx="134.0" cy="112.3"/>
<circle class="t" cx="97.9" cy="149.8"/>
<circle class="t" cx="133.7" cy="119.2"/>
<circle class="t" cx="100.2" cy="124.0"/>
<circle class="p" cx="138.8" cy="150.2"/>
<circle class="t" cx="101.6" cy="173.2"/>
<circle class="t" cx="87.6" cy="180.0"/>
<circle class="g" cx="131.3" cy="155.4"/>
<circle class="t" cx="96.5" cy="88.7"/>
<circle class="p" cx="154.9" cy="167.1"/>
<circle class="t" cx="112.1" cy="134.8"/>
<circle class="t" cx="95.5" cy="108.1"/>
<circle class="g" cx="120.2" cy="167.6"/>
<circle class="g" cx="153.9" cy="150.2"/>
<circle class="t" cx="122.8" cy="133.3"/>
<circle class="g" cx="140.8" cy="161.2"/>
<circle class="t" cx="102.0" cy="153.1"/>
<circle class="t" cx="121.9" cy="121.7"/>
<circle class="t" cx="127.1" cy="122.7"/>
<circle class="t" cx="122.2" cy="122.0"/>
<circle class="g" cx="143.0" cy="137.9"/>
<circle class="g" cx="104.5" cy="166.3"/>
<circle class="p" cx="164.9" cy="137.7"/>
<circle class="g" cx="141.4" cy="170.6"/>
<circle class="t" cx="112.0" cy="130.6"/>
<circle class="g" cx="114.5" cy="148.3"/>
<circle class="t" cx="108.7" cy="99.6"/>
<circle class="p" cx="162.3" cy="175.7"/>
<circle class="g" cx="134.5" cy="136.8"/>
<circle class="t" cx="93.2" cy="134.6"/>
<circle class="p" cx="159.4" cy="121.9"/>
<circle class="p" cx="154.5" cy="151.0"/>
<circle class="g" cx="103.8" cy="121.6"/>
<circle class="p" cx="145.7" cy="150.1"/>
<circle class="t" cx="96.6" cy="120.2"/>
<circle class="t" cx="102.9" cy="128.5"/>
<circle class="t" cx="110.6" cy="137.7"/>
<circle class="g" cx="138.2" cy="172.9"/>
<circle class="t" cx="108.0" cy="124.1"/>
<circle class="p" cx="165.5" cy="163.2"/>
<circle class="g" cx="110.7" cy="160.8"/>
<circle class="t" cx="102.0" cy="140.1"/>
<circle class="t" cx="93.7" cy="100.1"/>
<circle class="t" cx="107.0" cy="102.3"/>
<circle class="p" cx="172.9" cy="154.7"/>
<circle class="g" cx="143.5" cy="114.1"/>
<circle class="t" cx="101.1" cy="108.8"/>
<circle class="t" cx="106.5" cy="119.8"/>
<circle class="t" cx="99.6" cy="154.8"/>
<circle class="g" cx="142.1" cy="163.9"/>
<circle class="t" cx="110.3" cy="121.9"/>
<circle class="t" cx="115.2" cy="147.8"/>
<circle class="t" cx="110.9" cy="89.8"/>
<circle class="t" cx="90.2" cy="142.5"/>
<circle class="t" cx="94.6" cy="131.7"/>
<circle class="t" cx="134.8" cy="92.8"/>
<circle class="t" cx="113.1" cy="133.1"/>
<circle class="t" cx="105.9" cy="149.9"/>
<circle class="p" cx="175.7" cy="162.7"/>
<circle class="t" cx="107.5" cy="138.7"/>
<circle class="p" cx="170.2" cy="152.3"/>
<circle class="t" cx="114.7" cy="92.1"/>
<circle class="t" cx="118.6" cy="143.2"/>
<circle class="p" cx="161.8" cy="119.4"/>
<circle class="t" cx="91.8" cy="104.9"/>
<circle class="p" cx="141.6" cy="166.5"/>
<circle class="g" cx="136.7" cy="149.7"/>
<circle class="t" cx="117.3" cy="106.4"/>
<circle class="g" cx="113.5" cy="158.3"/>
<circle class="g" cx="137.3" cy="150.5"/>
<circle class="t" cx="96.7" cy="141.8"/>
<circle class="t" cx="93.0" cy="101.0"/>
<circle class="g" cx="135.6" cy="151.9"/>
<circle class="g" cx="158.8" cy="154.7"/>
<circle class="t" cx="116.4" cy="162.8"/>
<circle class="t" cx="116.2" cy="115.9"/>
<circle class="g" cx="139.3" cy="171.3"/>
<circle class="g" cx="120.7" cy="185.8"/>
<circle class="t" cx="121.8" cy="118.6"/>
<circle class="p" cx="159.0" cy="145.7"/>
<circle class="g" cx="137.3" cy="175.9"/>
<circle class="t" cx="99.5" cy="151.5"/>
<circle class="p" cx="163.8" cy="127.2"/>
<circle class="g" cx="127.2" cy="145.6"/>
<circle class="t" cx="120.8" cy="144.9"/>
<circle class="g" cx="116.7" cy="175.0"/>
<circle class="g" cx="125.1" cy="162.5"/>
<circle class="t" cx="97.7" cy="119.4"/>
<circle class="t" cx="117.0" cy="114.0"/>
<circle class="p" cx="153.0" cy="134.0"/>
<circle class="t" cx="110.0" cy="93.8"/>
<circle class="t" cx="130.0" cy="85.9"/>
<circle class="p" cx="171.7" cy="138.3"/>
<circle class="p" cx="151.4" cy="142.0"/>
<circle class="p" cx="158.7" cy="133.7"/>
<circle class="t" cx="105.1" cy="163.1"/>
<circle class="g" cx="150.7" cy="167.7"/>
<circle class="t" cx="91.4" cy="131.2"/>
<circle class="t" cx="104.1" cy="132.0"/>
<circle class="t" cx="108.7" cy="123.8"/>
<circle class="t" cx="104.7" cy="127.8"/>
<circle class="t" cx="90.6" cy="123.5"/>
<circle class="p" cx="164.2" cy="158.9"/>
<circle class="t" cx="119.2" cy="139.9"/>
<circle class="g" cx="150.7" cy="169.7"/>
<circle class="t" cx="97.5" cy="138.0"/>
<circle class="g" cx="130.1" cy="133.6"/>
<circle class="t" cx="106.5" cy="135.0"/>
<circle class="t" cx="106.5" cy="128.7"/>
<circle class="g" cx="106.4" cy="150.6"/>
<circle class="t" cx="103.7" cy="156.6"/>
<circle class="t" cx="121.1" cy="120.7"/>
<circle class="t" cx="118.9" cy="146.1"/>
<circle class="t" cx="94.6" cy="157.7"/>
<circle class="p" cx="167.4" cy="157.6"/>
<circle class="p" cx="178.5" cy="154.7"/>
<circle class="t" cx="104.5" cy="140.6"/>
<circle class="t" cx="124.1" cy="134.0"/>
<circle class="g" cx="143.5" cy="152.8"/>
<circle class="g" cx="117.3" cy="174.3"/>
<circle class="t" cx="97.4" cy="121.3"/>
<circle class="t" cx="120.8" cy="114.8"/>
<circle class="t" cx="107.3" cy="168.7"/>
<circle class="p" cx="140.8" cy="154.6"/>
<circle class="t" cx="100.7" cy="158.1"/>
<circle class="t" cx="110.8" cy="109.4"/>
<circle class="g" cx="124.5" cy="171.4"/>
<circle class="t" cx="98.2" cy="135.7"/>
<circle class="g" cx="139.5" cy="162.7"/>
<circle class="t" cx="90.4" cy="78.2"/>
<circle class="t" cx="99.6" cy="105.5"/>
<circle class="t" cx="110.5" cy="162.4"/>
<circle class="p" cx="124.4" cy="109.1"/>
<circle class="t" cx="113.4" cy="99.2"/>
<circle class="t" cx="110.9" cy="105.2"/>
<circle class="g" cx="131.1" cy="182.9"/>
<circle class="t" cx="111.6" cy="95.7"/>
<circle class="t" cx="84.3" cy="120.8"/>
<circle class="p" cx="143.2" cy="165.0"/>
<circle class="t" cx="94.7" cy="94.3"/>
<circle class="t" cx="113.5" cy="152.9"/>
<circle class="t" cx="108.0" cy="163.5"/>
<circle class="g" cx="148.8" cy="150.5"/>
<circle class="g" cx="124.0" cy="161.7"/>
<circle class="g" cx="154.6" cy="149.3"/>
<circle class="p" cx="124.1" cy="127.5"/>
<circle class="g" cx="130.0" cy="171.3"/>
<circle class="g" cx="142.1" cy="166.8"/>
<circle class="g" cx="159.1" cy="172.9"/>
<circle class="t" cx="106.2" cy="146.0"/>
<circle class="t" cx="135.1" cy="109.0"/>
<circle class="p" cx="154.2" cy="158.8"/>
<circle class="p" cx="156.1" cy="146.4"/>
<circle class="t" cx="125.8" cy="108.6"/>
<circle class="g" cx="102.2" cy="115.3"/>
<circle class="t" cx="153.2" cy="124.8"/>
<circle class="t" cx="72.4" cy="96.0"/>
<circle class="g" cx="134.4" cy="160.0"/>
<circle class="t" cx="120.1" cy="109.6"/>
<circle class="t" cx="103.2" cy="116.0"/>
<circle class="t" cx="122.0" cy="117.7"/>
<circle class="t" cx="121.3" cy="98.3"/>
<circle class="t" cx="100.5" cy="118.2"/>
<circle class="g" cx="131.1" cy="181.2"/>
<circle class="g" cx="136.9" cy="156.9"/>
<circle class="t" cx="109.0" cy="104.1"/>
<circle class="t" cx="126.2" cy="112.6"/>
<circle class="g" cx="125.9" cy="172.1"/>
<circle class="g" cx="134.4" cy="129.4"/>
<circle class="t" cx="118.5" cy="151.1"/>
<circle class="t" cx="102.9" cy="140.1"/>
<circle class="t" cx="106.4" cy="139.5"/>
<circle class="t" cx="103.8" cy="127.5"/>
<circle class="t" cx="103.1" cy="92.1"/>
<circle class="t" cx="117.8" cy="101.6"/>
<circle class="p" cx="150.5" cy="150.7"/>
<circle class="t" cx="104.0" cy="95.0"/>
<circle class="g" cx="118.6" cy="118.7"/>
<circle class="t" cx="110.8" cy="109.7"/>
<circle class="t" cx="97.7" cy="137.0"/>
<circle class="g" cx="134.6" cy="183.8"/>
<circle class="t" cx="121.3" cy="150.4"/>
<circle class="p" cx="170.5" cy="173.8"/>
<circle class="t" cx="90.9" cy="132.1"/>
<circle class="t" cx="85.8" cy="169.7"/>
<circle class="t" cx="121.2" cy="109.4"/>
<circle class="g" cx="149.9" cy="144.1"/>
<circle class="t" cx="100.9" cy="154.7"/>
<circle class="t" cx="139.8" cy="100.1"/>
<circle class="p" cx="149.2" cy="121.7"/>
<circle class="t" cx="110.7" cy="118.9"/>
<circle class="t" cx="129.6" cy="102.9"/>
<circle class="p" cx="171.8" cy="144.2"/>
<circle class="t" cx="120.7" cy="122.8"/>
<circle class="t" cx="111.1" cy="97.7"/>
<circle class="p" cx="161.4" cy="130.4"/>
<circle class="t" cx="98.1" cy="96.7"/>
<circle class="t" cx="94.3" cy="148.5"/>
<circle class="t" cx="102.5" cy="173.9"/>
<circle class="t" cx="92.2" cy="121.8"/>
<circle class="p" cx="170.6" cy="147.0"/>
<circle class="t" cx="97.4" cy="155.8"/>
<circle class="t" cx="121.1" cy="167.8"/>
<circle class="g" cx="144.0" cy="150.6"/>
<circle class="g" cx="126.6" cy="146.5"/>
<circle class="t" cx="92.5" cy="125.8"/>
<circle class="t" cx="107.4" cy="152.0"/>
<circle class="g" cx="145.5" cy="177.8"/>
<circle class="t" cx="90.6" cy="176.5"/>
<circle class="g" cx="152.2" cy="147.5"/>
<circle class="t" cx="114.4" cy="115.8"/>
<circle class="g" cx="123.1" cy="150.5"/>
<circle class="p" cx="144.4" cy="145.1"/>
<circle class="g" cx="133.8" cy="166.6"/>
<circle class="t" cx="85.5" cy="158.8"/>
<circle class="g" cx="143.6" cy="182.8"/>
<circle class="g" cx="143.6" cy="158.4"/>
<circle class="t" cx="121.8" cy="125.6"/>
<circle class="g" cx="135.0" cy="183.9"/>
<circle class="t" cx="101.0" cy="108.7"/>
<circle class="g" cx="162.6" cy="147.7"/>
<circle class="p" cx="149.4" cy="165.9"/>
<circle class="t" cx="126.4" cy="151.4"/>
<circle class="t" cx="102.8" cy="145.1"/>
<circle class="t" cx="107.6" cy="127.6"/>
<circle class="t" cx="124.1" cy="108.1"/>
<circle class="t" cx="108.4" cy="105.2"/>
<circle class="p" cx="168.8" cy="175.7"/>
<circle class="g" cx="144.3" cy="176.3"/>
<circle class="t" cx="131.7" cy="148.4"/>
<circle class="t" cx="108.4" cy="132.3"/>
<circle class="p" cx="161.3" cy="145.9"/>
<circle class="t" cx="85.8" cy="166.8"/>
<circle class="g" cx="116.6" cy="172.9"/>
<circle class="g" cx="104.8" cy="146.9"/>
<circle class="t" cx="104.2" cy="90.4"/>
<circle class="t" cx="96.5" cy="102.3"/>
<circle class="t" cx="101.6" cy="90.7"/>
<circle class="g" cx="156.0" cy="177.8"/>
<circle class="t" cx="112.6" cy="136.6"/>
<circle class="t" cx="104.3" cy="131.9"/>
<circle class="g" cx="146.6" cy="176.9"/>
<circle class="g" cx="145.3" cy="174.8"/>
<circle class="t" cx="112.4" cy="87.7"/>
<circle class="t" cx="126.8" cy="118.7"/>
<circle class="t" cx="118.3" cy="145.0"/>
<circle class="t" cx="90.3" cy="112.6"/>
<circle class="t" cx="114.8" cy="143.2"/>
<circle class="t" cx="113.8" cy="93.4"/>
<circle class="t" cx="117.8" cy="88.7"/>
<circle class="p" cx="149.4" cy="128.8"/>
<circle class="g" cx="151.0" cy="124.9"/>
<circle class="g" cx="122.6" cy="164.4"/>
<circle class="t" cx="98.0" cy="97.2"/>
<circle class="t" cx="113.7" cy="94.7"/>
<circle class="t" cx="119.6" cy="123.0"/>
<circle class="t" cx="106.7" cy="137.7"/>
<circle class="t" cx="106.7" cy="107.4"/>
<circle class="g" cx="121.1" cy="132.0"/>
<circle class="t" cx="128.0" cy="97.5"/>
<circle class="g" cx="121.7" cy="156.1"/>
<circle class="t" cx="118.9" cy="184.3"/>
<circle class="g" cx="130.3" cy="155.6"/>
<circle class="t" cx="106.3" cy="123.8"/>
<circle class="g" cx="126.7" cy="170.5"/>
<circle class="g" cx="147.1" cy="169.0"/>
<circle class="t" cx="119.9" cy="138.3"/>
<circle class="t" cx="127.9" cy="124.5"/>
<circle class="g" cx="123.3" cy="161.6"/>
<circle class="t" cx="98.3" cy="139.7"/>
<circle class="g" cx="127.5" cy="169.0"/>
<circle class="t" cx="108.8" cy="93.0"/>
<circle class="t" cx="109.4" cy="84.1"/>
<circle class="t" cx="95.4" cy="119.1"/>
<circle class="g" cx="139.3" cy="168.2"/>
<circle class="t" cx="94.5" cy="120.8"/>
<circle class="g" cx="157.4" cy="172.2"/>
<circle class="t" cx="123.3" cy="100.2"/>
<circle class="t" cx="119.8" cy="162.8"/>
<circle class="t" cx="113.0" cy="139.0"/>
<circle class="t" cx="112.1" cy="105.5"/>
<circle class="g" cx="124.0" cy="168.9"/>
<circle class="p" cx="164.7" cy="165.2"/>
<circle class="g" cx="149.0" cy="157.9"/>
<circle class="t" cx="134.4" cy="165.5"/>
<circle class="g" cx="118.9" cy="157.9"/>
<circle class="p" cx="154.5" cy="117.0"/>
<circle class="g" cx="151.8" cy="144.4"/>
<circle class="g" cx="142.3" cy="168.4"/>
<circle class="g" cx="119.5" cy="171.4"/>
<circle class="t" cx="117.2" cy="116.9"/>
<circle class="t" cx="112.1" cy="148.8"/>
<circle class="p" cx="157.3" cy="132.8"/>
<circle class="t" cx="119.1" cy="92.1"/>
<circle class="t" cx="99.4" cy="151.9"/>
<circle class="t" cx="112.5" cy="117.8"/>
<circle class="t" cx="93.0" cy="161.1"/>
<circle class="t" cx="99.2" cy="124.3"/>
<circle class="p" cx="153.7" cy="162.9"/>
<circle class="t" cx="108.2" cy="171.4"/>
<circle class="t" cx="107.8" cy="129.1"/>
<circle class="t" cx="115.1" cy="131.4"/>
<circle class="t" cx="104.4" cy="135.7"/>
<circle class="p" cx="150.0" cy="153.4"/>
<circle class="t" cx="97.4" cy="174.8"/>
<circle class="p" cx="160.2" cy="142.4"/>
<circle class="t" cx="113.4" cy="129.1"/>
<circle class="t" cx="137.5" cy="139.5"/>
<circle class="p" cx="150.9" cy="151.1"/>
<circle class="t" cx="112.7" cy="110.1"/>
<circle class="t" cx="110.4" cy="149.0"/>
<circle class="t" cx="89.7" cy="159.0"/>
<circle class="t" cx="110.1" cy="132.6"/>
<circle class="g" cx="131.4" cy="167.3"/>
<circle class="t" cx="104.9" cy="146.9"/>
<circle class="t" cx="104.9" cy="133.4"/>
<circle class="t" cx="102.3" cy="146.2"/>
<circle class="t" cx="99.0" cy="121.1"/>
<circle class="t" cx="108.0" cy="94.2"/>
<circle class="g" cx="121.7" cy="174.2"/>
<circle class="t" cx="135.3" cy="134.6"/>
<circle class="t" cx="124.1" cy="125.2"/>
<circle class="g" cx="143.2" cy="148.8"/>
<circle class="t" cx="121.8" cy="95.0"/>
<circle class="t" cx="121.1" cy="134.3"/>
<circle class="t" cx="108.4" cy="135.4"/>
<circle class="t" cx="110.3" cy="125.4"/>
<circle class="t" cx="122.6" cy="122.5"/>
<circle class="t" cx="93.0" cy="133.9"/>
<circle class="p" cx="167.3" cy="151.1"/>
<circle class="g" cx="137.5" cy="163.9"/>
<circle class="t" cx="114.7" cy="110.7"/>
<circle class="g" cx="144.6" cy="152.8"/>
<circle class="t" cx="98.2" cy="87.5"/>
<circle class="g" cx="124.5" cy="154.8"/>
<circle class="g" cx="126.5" cy="171.8"/>
<circle class="t" cx="74.2" cy="112.8"/>
<circle class="t" cx="116.2" cy="144.1"/>
<circle class="g" cx="110.1" cy="174.0"/>
<circle class="t" cx="111.8" cy="127.2"/>
<circle class="g" cx="137.9" cy="129.7"/>
<circle class="t" cx="120.2" cy="144.3"/>
<circle class="g" cx="108.5" cy="174.5"/>
<circle class="g" cx="139.7" cy="152.8"/>
<circle class="t" cx="130.4" cy="80.3"/>
</g>
<line x1="88.40" y1="74.00" x2="88.40" y2="189.20" stroke="#333" stroke-width="0.95" stroke-dasharray="3.3,2.5"/>
<line x1="67.50" y1="171.20" x2="182.60" y2="171.20" stroke="#333" stroke-width="0.95" stroke-dasharray="3.3,2.5"/>
<line x1="67.50" y1="74.00" x2="67.50" y2="189.80" stroke="#111" stroke-width="1.30" />
<line x1="66.90" y1="189.20" x2="183.60" y2="189.20" stroke="#111" stroke-width="1.30" />
<line x1="63.10" y1="105.40" x2="67.50" y2="105.40" stroke="#111" stroke-width="1.20" />
<text x="58.20" y="109.00" font-size="10.00" text-anchor="end" font-weight="normal" fill="#222">0.50</text>
<line x1="63.10" y1="138.30" x2="67.50" y2="138.30" stroke="#111" stroke-width="1.20" />
<text x="58.20" y="141.90" font-size="10.00" text-anchor="end" font-weight="normal" fill="#222">0.25</text>
<line x1="63.10" y1="171.20" x2="67.50" y2="171.20" stroke="#111" stroke-width="1.20" />
<text x="58.20" y="174.80" font-size="10.00" text-anchor="end" font-weight="normal" fill="#222">0.00</text>
<line x1="88.40" y1="189.20" x2="88.40" y2="193.80" stroke="#111" stroke-width="1.20" />
<text x="88.40" y="206.50" font-size="10.00" text-anchor="middle" font-weight="normal" fill="#222">0.0</text>
<line x1="120.90" y1="189.20" x2="120.90" y2="193.80" stroke="#111" stroke-width="1.20" />
<text x="120.90" y="206.50" font-size="10.00" text-anchor="middle" font-weight="normal" fill="#222">0.2</text>
<line x1="153.40" y1="189.20" x2="153.40" y2="193.80" stroke="#111" stroke-width="1.20" />
<text x="153.40" y="206.50" font-size="10.00" text-anchor="middle" font-weight="normal" fill="#222">0.4</text>
<text x="125.30" y="66.00" font-size="13.00" text-anchor="middle" font-weight="normal" >Control</text>
<text x="149.80" y="82.80" font-size="10.20" text-anchor="start" font-weight="normal" >−0.313</text>
<text transform="translate(31.2,131.30) rotate(-90) scale(0.765,1)" font-size="12.5" text-anchor="middle" stroke="#111" stroke-width="0.4">F0 B score</text>
<text x="67.50" y="226.30" font-size="9.60" text-anchor="start" font-weight="normal" >Cell Type</text>
<circle cx="71.1" cy="238.90" r="3.2" fill="#dfba90"/>
<text x="78.80" y="241.80" font-size="10.00" text-anchor="start" font-weight="normal" >CCR7+ FO B</text>
<circle cx="71.1" cy="254.20" r="3.2" fill="#4a6222" stroke="#33461a" stroke-width="0.5"/>
<text x="78.80" y="257.10" font-size="10.00" text-anchor="start" font-weight="normal" >CD38+ TrB</text>
<circle cx="140.6" cy="254.50" r="3.2" fill="#8b8cce"/>
<text x="148.40" y="257.10" font-size="10.00" text-anchor="start" font-weight="normal" >ITGAX+ aN</text>
<g>
<circle class="t" cx="110.8" cy="349.5"/>
<circle class="t" cx="118.5" cy="333.4"/>
<circle class="g" cx="144.4" cy="391.2"/>
<circle class="p" cx="143.9" cy="387.9"/>
<circle class="t" cx="84.8" cy="343.6"/>
<circle class="t" cx="106.8" cy="349.0"/>
<circle class="t" cx="102.8" cy="376.7"/>
<circle class="g" cx="120.3" cy="390.7"/>
<circle class="t" cx="105.8" cy="385.4"/>
<circle class="t" cx="142.6" cy="307.8"/>
<circle class="g" cx="145.6" cy="371.0"/>
<circle class="g" cx="149.1" cy="377.2"/>
<circle class="g" cx="148.4" cy="375.8"/>
<circle class="p" cx="174.7" cy="379.4"/>
<circle class="g" cx="124.8" cy="337.9"/>
<circle class="p" cx="162.3" cy="387.0"/>
<circle class="g" cx="139.5" cy="366.9"/>
<circle class="t" cx="88.3" cy="361.5"/>
<circle class="t" cx="95.7" cy="399.9"/>
<circle class="t" cx="119.2" cy="356.4"/>
<circle class="p" cx="166.4" cy="381.5"/>
<circle class="t" cx="110.7" cy="355.9"/>
<circle class="t" cx="84.7" cy="367.1"/>
<circle class="g" cx="133.1" cy="385.4"/>
<circle class="t" cx="88.9" cy="406.5"/>
<circle class="t" cx="93.8" cy="346.7"/>
<circle class="p" cx="160.3" cy="352.3"/>
<circle class="t" cx="87.5" cy="333.2"/>
<circle class="g" cx="142.8" cy="398.2"/>
<circle class="p" cx="138.8" cy="371.7"/>
<circle class="p" cx="178.8" cy="378.7"/>
<circle class="t" cx="113.1" cy="306.7"/>
<circle class="t" cx="105.8" cy="333.3"/>
<circle class="t" cx="98.4" cy="362.1"/>
<circle class="t" cx="87.1" cy="358.4"/>
<circle class="t" cx="113.0" cy="410.4"/>
<circle class="t" cx="103.5" cy="334.0"/>
<circle class="t" cx="100.9" cy="350.3"/>
<circle class="t" cx="135.3" cy="323.6"/>
<circle class="t" cx="111.9" cy="339.7"/>
<circle class="t" cx="118.5" cy="381.5"/>
<circle class="g" cx="99.5" cy="406.3"/>
<circle class="g" cx="144.9" cy="378.6"/>
<circle class="g" cx="93.7" cy="339.8"/>
<circle class="t" cx="118.2" cy="349.4"/>
<circle class="g" cx="150.3" cy="394.8"/>
<circle class="t" cx="109.9" cy="338.3"/>
<circle class="t" cx="102.5" cy="304.5"/>
<circle class="t" cx="113.5" cy="340.1"/>
<circle class="t" cx="119.0" cy="351.3"/>
<circle class="g" cx="135.4" cy="388.7"/>
<circle class="t" cx="105.5" cy="328.2"/>
<circle class="t" cx="107.6" cy="337.3"/>
<circle class="t" cx="102.4" cy="324.1"/>
<circle class="t" cx="119.6" cy="364.8"/>
<circle class="p" cx="152.0" cy="354.5"/>
<circle class="t" cx="104.3" cy="376.8"/>
<circle class="t" cx="127.7" cy="341.4"/>
<circle class="g" cx="131.7" cy="409.8"/>
<circle class="t" cx="85.6" cy="383.9"/>
<circle class="t" cx="124.4" cy="326.3"/>
<circle class="t" cx="115.9" cy="331.9"/>
<circle class="t" cx="113.5" cy="359.5"/>
<circle class="t" cx="97.3" cy="378.1"/>
<circle class="g" cx="145.9" cy="374.1"/>
<circle class="t" cx="103.6" cy="340.9"/>
<circle class="g" cx="127.3" cy="379.9"/>
<circle class="p" cx="170.0" cy="383.7"/>
<circle class="t" cx="135.1" cy="303.7"/>
<circle class="t" cx="110.2" cy="371.6"/>
<circle class="g" cx="118.9" cy="403.3"/>
<circle class="t" cx="107.4" cy="332.6"/>
<circle class="t" cx="118.5" cy="343.2"/>
<circle class="g" cx="163.3" cy="393.9"/>
<circle class="t" cx="84.4" cy="351.9"/>
<circle class="g" cx="132.1" cy="406.6"/>
<circle class="t" cx="115.9" cy="320.4"/>
<circle class="t" cx="90.3" cy="401.1"/>
<circle class="t" cx="88.2" cy="406.3"/>
<circle class="t" cx="113.1" cy="339.8"/>
<circle class="t" cx="104.8" cy="374.2"/>
<circle class="g" cx="130.6" cy="379.3"/>
<circle class="t" cx="105.6" cy="369.9"/>
<circle class="g" cx="133.4" cy="409.2"/>
<circle class="t" cx="134.9" cy="321.0"/>
<circle class="g" cx="123.8" cy="347.8"/>
<circle class="t" cx="107.9" cy="342.1"/>
<circle class="t" cx="93.9" cy="348.4"/>
<circle class="t" cx="127.8" cy="345.6"/>
<circle class="p" cx="158.8" cy="388.4"/>
<circle class="g" cx="142.0" cy="375.2"/>
<circle class="t" cx="97.5" cy="329.3"/>
<circle class="g" cx="133.7" cy="384.1"/>
<circle class="p" cx="138.6" cy="375.9"/>
<circle class="t" cx="94.2" cy="344.9"/>
<circle class="t" cx="101.1" cy="363.5"/>
<circle class="t" cx="95.9" cy="358.0"/>
<circle class="t" cx="112.3" cy="372.5"/>
<circle class="t" cx="112.1" cy="335.3"/>
<circle class="t" cx="99.1" cy="365.3"/>
<circle class="p" cx="168.1" cy="392.0"/>
<circle class="p" cx="145.5" cy="372.4"/>
<circle class="g" cx="107.4" cy="409.6"/>
<circle class="t" cx="116.3" cy="360.1"/>
<circle class="g" cx="166.7" cy="389.9"/>
<circle class="t" cx="96.7" cy="338.6"/>
<circle class="g" cx="144.4" cy="369.1"/>
<circle class="p" cx="176.2" cy="385.3"/>
<circle class="g" cx="113.2" cy="401.8"/>
<circle class="t" cx="112.5" cy="336.4"/>
<circle class="t" cx="99.1" cy="347.2"/>
<circle class="g" cx="171.7" cy="380.3"/>
<circle class="g" cx="140.2" cy="372.7"/>
<circle class="t" cx="112.0" cy="369.7"/>
<circle class="t" cx="127.5" cy="355.0"/>
<circle class="t" cx="118.4" cy="353.8"/>
<circle class="p" cx="151.7" cy="384.4"/>
<circle class="g" cx="154.6" cy="389.2"/>
<circle class="t" cx="97.3" cy="379.1"/>
<circle class="t" cx="117.5" cy="333.0"/>
<circle class="g" cx="138.8" cy="399.5"/>
<circle class="t" cx="109.0" cy="324.8"/>
<circle class="g" cx="135.2" cy="372.7"/>
<circle class="t" cx="81.5" cy="379.7"/>
<circle class="t" cx="152.6" cy="340.0"/>
<circle class="g" cx="120.5" cy="402.7"/>
<circle class="g" cx="148.9" cy="377.9"/>
<circle class="g" cx="166.4" cy="379.2"/>
<circle class="t" cx="93.9" cy="383.1"/>
<circle class="t" cx="111.1" cy="335.2"/>
<circle class="t" cx="123.0" cy="324.2"/>
<circle class="g" cx="160.2" cy="409.0"/>
<circle class="g" cx="128.6" cy="406.0"/>
<circle class="t" cx="117.9" cy="355.2"/>
<circle class="t" cx="120.9" cy="347.3"/>
<circle class="t" cx="115.3" cy="360.9"/>
<circle class="t" cx="107.2" cy="365.3"/>
<circle class="g" cx="155.4" cy="383.9"/>
<circle class="t" cx="99.1" cy="369.6"/>
<circle class="t" cx="117.4" cy="372.4"/>
<circle class="t" cx="96.9" cy="350.6"/>
<circle class="t" cx="106.0" cy="333.9"/>
<circle class="p" cx="141.4" cy="361.3"/>
<circle class="t" cx="117.6" cy="357.2"/>
<circle class="t" cx="111.9" cy="345.8"/>
<circle class="t" cx="107.1" cy="359.5"/>
<circle class="t" cx="105.7" cy="366.0"/>
<circle class="t" cx="107.5" cy="343.4"/>
<circle class="g" cx="113.6" cy="395.8"/>
<circle class="t" cx="98.1" cy="364.7"/>
<circle class="p" cx="168.3" cy="405.7"/>
<circle class="g" cx="145.6" cy="402.2"/>
<circle class="p" cx="163.7" cy="366.0"/>
<circle class="p" cx="154.0" cy="380.5"/>
<circle class="t" cx="88.5" cy="342.1"/>
<circle class="t" cx="122.4" cy="366.5"/>
<circle class="g" cx="160.5" cy="360.9"/>
<circle class="g" cx="131.3" cy="383.6"/>
<circle class="t" cx="106.4" cy="337.4"/>
<circle class="p" cx="161.9" cy="375.4"/>
<circle class="t" cx="122.9" cy="334.7"/>
<circle class="g" cx="131.3" cy="393.9"/>
<circle class="t" cx="106.8" cy="316.1"/>
<circle class="p" cx="168.9" cy="363.8"/>
<circle class="t" cx="147.2" cy="306.2"/>
<circle class="t" cx="110.3" cy="367.5"/>
<circle class="t" cx="121.3" cy="332.6"/>
<circle class="t" cx="102.8" cy="346.5"/>
<circle class="g" cx="146.1" cy="351.0"/>
<circle class="t" cx="99.8" cy="370.9"/>
<circle class="p" cx="146.3" cy="388.5"/>
<circle class="t" cx="136.8" cy="356.6"/>
<circle class="p" cx="163.2" cy="379.1"/>
<circle class="t" cx="119.4" cy="337.0"/>
<circle class="p" cx="175.5" cy="382.6"/>
<circle class="g" cx="137.4" cy="366.0"/>
<circle class="g" cx="110.1" cy="357.1"/>
<circle class="g" cx="134.1" cy="362.1"/>
<circle class="t" cx="117.5" cy="346.5"/>
<circle class="p" cx="171.8" cy="396.4"/>
<circle class="g" cx="139.9" cy="387.9"/>
<circle class="t" cx="123.7" cy="365.4"/>
<circle class="t" cx="96.5" cy="352.9"/>
<circle class="p" cx="161.7" cy="384.6"/>
<circle class="p" cx="150.0" cy="387.2"/>
<circle class="t" cx="99.3" cy="380.1"/>
<circle class="t" cx="133.4" cy="336.5"/>
<circle class="t" cx="113.3" cy="371.6"/>
<circle class="t" cx="135.3" cy="356.4"/>
<circle class="g" cx="132.9" cy="396.6"/>
<circle class="t" cx="120.5" cy="369.8"/>
<circle class="t" cx="106.6" cy="333.9"/>
<circle class="t" cx="149.5" cy="327.6"/>
<circle class="t" cx="94.2" cy="362.4"/>
<circle class="p" cx="160.2" cy="367.4"/>
<circle class="t" cx="99.3" cy="374.4"/>
<circle class="g" cx="165.5" cy="385.5"/>
<circle class="t" cx="127.2" cy="340.9"/>
<circle class="t" cx="99.4" cy="373.9"/>
<circle class="t" cx="95.5" cy="370.3"/>
<circle class="g" cx="143.3" cy="371.7"/>
<circle class="t" cx="92.5" cy="379.5"/>
<circle class="g" cx="153.1" cy="392.0"/>
<circle class="t" cx="99.3" cy="364.9"/>
<circle class="p" cx="160.5" cy="393.7"/>
<circle class="g" cx="132.7" cy="402.8"/>
<circle class="t" cx="88.3" cy="328.8"/>
<circle class="g" cx="96.4" cy="354.2"/>
<circle class="t" cx="99.2" cy="333.0"/>
<circle class="g" cx="144.7" cy="362.2"/>
<circle class="t" cx="100.2" cy="337.9"/>
<circle class="g" cx="128.3" cy="386.6"/>
<circle class="g" cx="137.9" cy="382.9"/>
<circle class="t" cx="95.0" cy="344.2"/>
<circle class="p" cx="158.0" cy="393.0"/>
<circle class="t" cx="113.7" cy="376.6"/>
<circle class="g" cx="134.9" cy="376.5"/>
<circle class="g" cx="138.2" cy="377.1"/>
<circle class="t" cx="144.8" cy="311.8"/>
<circle class="g" cx="135.5" cy="407.6"/>
<circle class="g" cx="136.1" cy="357.2"/>
<circle class="t" cx="110.0" cy="389.1"/>
<circle class="t" cx="126.9" cy="401.7"/>
<circle class="t" cx="127.4" cy="343.7"/>
<circle class="t" cx="102.1" cy="395.6"/>
<circle class="t" cx="124.3" cy="349.6"/>
<circle class="p" cx="169.8" cy="372.1"/>
<circle class="p" cx="156.7" cy="379.4"/>
<circle class="t" cx="91.9" cy="340.9"/>
<circle class="t" cx="110.4" cy="360.1"/>
<circle class="g" cx="111.4" cy="386.6"/>
<circle class="t" cx="110.3" cy="339.8"/>
<circle class="t" cx="103.2" cy="363.1"/>
<circle class="t" cx="110.7" cy="378.9"/>
<circle class="g" cx="119.4" cy="414.5"/>
<circle class="g" cx="148.2" cy="376.1"/>
<circle class="t" cx="107.2" cy="368.9"/>
<circle class="t" cx="107.8" cy="376.7"/>
<circle class="t" cx="118.7" cy="343.7"/>
<circle class="g" cx="158.2" cy="362.5"/>
<circle class="t" cx="104.6" cy="365.5"/>
<circle class="t" cx="95.1" cy="362.4"/>
<circle class="t" cx="91.7" cy="384.2"/>
<circle class="g" cx="138.0" cy="394.4"/>
<circle class="g" cx="159.2" cy="396.3"/>
<circle class="p" cx="158.1" cy="382.9"/>
<circle class="t" cx="109.7" cy="319.1"/>
<circle class="g" cx="128.6" cy="387.5"/>
<circle class="t" cx="109.7" cy="362.0"/>
<circle class="t" cx="110.2" cy="331.4"/>
<circle class="t" cx="130.9" cy="349.5"/>
<circle class="p" cx="137.6" cy="382.1"/>
<circle class="t" cx="104.9" cy="334.8"/>
<circle class="t" cx="100.4" cy="351.2"/>
<circle class="t" cx="104.0" cy="338.0"/>
<circle class="t" cx="112.9" cy="344.1"/>
<circle class="t" cx="131.3" cy="350.4"/>
<circle class="p" cx="148.9" cy="374.5"/>
<circle class="g" cx="160.1" cy="362.4"/>
<circle class="g" cx="161.0" cy="411.0"/>
<circle class="t" cx="101.2" cy="370.4"/>
<circle class="t" cx="119.7" cy="349.0"/>
<circle class="t" cx="92.4" cy="349.0"/>
<circle class="t" cx="123.2" cy="357.8"/>
<circle class="t" cx="109.1" cy="348.1"/>
<circle class="t" cx="79.5" cy="399.7"/>
<circle class="g" cx="144.3" cy="378.5"/>
<circle class="t" cx="115.3" cy="316.0"/>
<circle class="t" cx="110.4" cy="319.8"/>
<circle class="t" cx="113.9" cy="351.6"/>
<circle class="g" cx="140.8" cy="413.8"/>
<circle class="g" cx="163.3" cy="385.5"/>
<circle class="g" cx="135.2" cy="391.6"/>
<circle class="t" cx="98.5" cy="340.9"/>
<circle class="g" cx="153.7" cy="347.2"/>
<circle class="t" cx="147.9" cy="323.5"/>
<circle class="t" cx="109.4" cy="379.5"/>
<circle class="p" cx="153.6" cy="367.7"/>
<circle class="t" cx="135.8" cy="351.5"/>
<circle class="g" cx="135.9" cy="360.5"/>
<circle class="t" cx="109.1" cy="387.3"/>
<circle class="t" cx="115.7" cy="347.4"/>
<circle class="t" cx="131.0" cy="337.6"/>
<circle class="t" cx="101.0" cy="365.2"/>
<circle class="t" cx="111.0" cy="324.4"/>
<circle class="t" cx="94.9" cy="321.3"/>
<circle class="t" cx="121.4" cy="323.1"/>
<circle class="g" cx="115.2" cy="376.0"/>
<circle class="p" cx="168.1" cy="394.3"/>
<circle class="t" cx="110.4" cy="353.4"/>
<circle class="p" cx="151.8" cy="370.7"/>
<circle class="g" cx="161.9" cy="390.4"/>
<circle class="p" cx="175.3" cy="371.4"/>
<circle class="p" cx="176.8" cy="374.1"/>
<circle class="t" cx="91.6" cy="375.8"/>
<circle class="t" cx="81.5" cy="347.5"/>
<circle class="t" cx="105.1" cy="380.5"/>
<circle class="g" cx="126.2" cy="390.2"/>
<circle class="t" cx="102.3" cy="370.6"/>
<circle class="g" cx="167.4" cy="383.0"/>
<circle class="p" cx="156.9" cy="396.3"/>
<circle class="t" cx="108.6" cy="326.5"/>
<circle class="t" cx="94.9" cy="343.3"/>
<circle class="g" cx="128.6" cy="396.2"/>
<circle class="p" cx="150.8" cy="375.8"/>
<circle class="g" cx="125.0" cy="373.9"/>
<circle class="g" cx="149.8" cy="402.5"/>
<circle class="p" cx="166.9" cy="383.1"/>
<circle class="g" cx="120.8" cy="369.0"/>
<circle class="g" cx="147.6" cy="383.6"/>
<circle class="t" cx="98.6" cy="354.6"/>
<circle class="t" cx="116.4" cy="350.2"/>
<circle class="g" cx="146.7" cy="393.1"/>
<circle class="t" cx="92.5" cy="378.6"/>
<circle class="t" cx="119.8" cy="330.5"/>
<circle class="p" cx="153.6" cy="380.6"/>
<circle class="g" cx="112.5" cy="374.8"/>
<circle class="p" cx="156.8" cy="366.4"/>
<circle class="g" cx="119.3" cy="412.3"/>
<circle class="t" cx="119.1" cy="328.3"/>
<circle class="g" cx="122.5" cy="394.5"/>
<circle class="g" cx="138.6" cy="382.6"/>
<circle class="p" cx="157.3" cy="359.1"/>
<circle class="p" cx="149.6" cy="366.9"/>
<circle class="t" cx="114.4" cy="324.5"/>
<circle class="g" cx="160.1" cy="390.2"/>
<circle class="g" cx="138.9" cy="412.1"/>
<circle class="g" cx="127.5" cy="400.1"/>
<circle class="p" cx="170.1" cy="372.7"/>
<circle class="t" cx="102.7" cy="324.8"/>
<circle class="t" cx="115.6" cy="335.6"/>
<circle class="g" cx="135.4" cy="396.3"/>
<circle class="t" cx="88.6" cy="366.5"/>
<circle class="t" cx="141.6" cy="328.3"/>
<circle class="t" cx="118.7" cy="408.7"/>
<circle class="p" cx="140.1" cy="377.8"/>
<circle class="t" cx="99.9" cy="376.2"/>
<circle class="g" cx="140.5" cy="380.5"/>
<circle class="t" cx="121.0" cy="349.8"/>
<circle class="t" cx="89.4" cy="355.9"/>
<circle class="t" cx="105.8" cy="344.1"/>
<circle class="p" cx="164.8" cy="352.3"/>
<circle class="t" cx="107.1" cy="343.3"/>
<circle class="p" cx="147.2" cy="368.2"/>
<circle class="t" cx="89.1" cy="308.8"/>
<circle class="t" cx="115.8" cy="351.2"/>
<circle class="t" cx="117.9" cy="373.3"/>
<circle class="g" cx="150.1" cy="377.4"/>
<circle class="p" cx="145.7" cy="404.1"/>
<circle class="g" cx="106.7" cy="392.5"/>
<circle class="t" cx="127.4" cy="375.0"/>
<circle class="g" cx="141.9" cy="376.5"/>
<circle class="t" cx="101.9" cy="391.8"/>
<circle class="t" cx="97.5" cy="353.6"/>
<circle class="t" cx="92.6" cy="358.3"/>
<circle class="p" cx="170.7" cy="389.2"/>
<circle class="p" cx="162.5" cy="399.5"/>
<circle class="t" cx="152.5" cy="343.4"/>
<circle class="p" cx="166.8" cy="367.6"/>
<circle class="t" cx="109.8" cy="395.2"/>
<circle class="t" cx="119.3" cy="377.6"/>
<circle class="t" cx="109.2" cy="358.6"/>
<circle class="t" cx="99.7" cy="336.2"/>
<circle class="t" cx="112.4" cy="360.9"/>
<circle class="g" cx="131.7" cy="374.3"/>
<circle class="p" cx="158.4" cy="383.5"/>
<circle class="g" cx="130.8" cy="340.5"/>
<circle class="t" cx="106.4" cy="338.4"/>
<circle class="t" cx="130.2" cy="349.4"/>
<circle class="t" cx="124.8" cy="377.5"/>
<circle class="t" cx="118.4" cy="349.5"/>
<circle class="t" cx="101.0" cy="325.7"/>
<circle class="t" cx="116.5" cy="365.7"/>
<circle class="t" cx="102.3" cy="375.5"/>
<circle class="t" cx="113.9" cy="378.0"/>
<circle class="g" cx="140.8" cy="376.0"/>
<circle class="t" cx="127.3" cy="318.9"/>
<circle class="g" cx="152.0" cy="374.1"/>
<circle class="t" cx="110.0" cy="331.8"/>
<circle class="g" cx="126.2" cy="381.5"/>
<circle class="t" cx="106.2" cy="374.2"/>
<circle class="t" cx="101.0" cy="366.9"/>
<circle class="p" cx="168.2" cy="365.6"/>
<circle class="t" cx="109.5" cy="387.9"/>
<circle class="t" cx="111.9" cy="385.7"/>
<circle class="g" cx="132.9" cy="401.1"/>
<circle class="t" cx="112.6" cy="328.3"/>
<circle class="g" cx="124.5" cy="407.9"/>
<circle class="t" cx="113.9" cy="402.0"/>
<circle class="g" cx="151.0" cy="394.8"/>
<circle class="p" cx="154.8" cy="384.1"/>
<circle class="t" cx="99.4" cy="359.5"/>
<circle class="t" cx="102.3" cy="389.2"/>
<circle class="g" cx="158.8" cy="382.7"/>
<circle class="t" cx="112.3" cy="318.2"/>
<circle class="t" cx="122.2" cy="370.0"/>
<circle class="g" cx="154.4" cy="370.1"/>
<circle class="t" cx="120.1" cy="321.6"/>
<circle class="g" cx="87.9" cy="343.2"/>
<circle class="g" cx="113.2" cy="377.4"/>
<circle class="g" cx="100.5" cy="411.6"/>
<circle class="t" cx="109.4" cy="337.4"/>
<circle class="t" cx="101.9" cy="363.1"/>
<circle class="t" cx="92.5" cy="355.5"/>
<circle class="t" cx="93.9" cy="332.4"/>
<circle class="t" cx="123.8" cy="359.3"/>
<circle class="t" cx="101.4" cy="337.6"/>
<circle class="p" cx="163.8" cy="402.4"/>
<circle class="p" cx="166.5" cy="367.8"/>
<circle class="t" cx="81.0" cy="408.6"/>
<circle class="p" cx="163.9" cy="355.0"/>
<circle class="t" cx="108.7" cy="347.7"/>
<circle class="t" cx="110.6" cy="343.8"/>
<circle class="g" cx="151.2" cy="386.6"/>
<circle class="t" cx="118.7" cy="336.5"/>
<circle class="t" cx="113.7" cy="331.4"/>
<circle class="t" cx="102.5" cy="341.3"/>
<circle class="t" cx="116.9" cy="337.3"/>
<circle class="t" cx="110.8" cy="375.3"/>
<circle class="t" cx="98.2" cy="393.3"/>
<circle class="g" cx="143.2" cy="369.4"/>
<circle class="g" cx="115.6" cy="372.9"/>
<circle class="p" cx="143.1" cy="355.7"/>
<circle class="t" cx="113.6" cy="372.4"/>
<circle class="g" cx="134.7" cy="403.0"/>
<circle class="t" cx="99.6" cy="329.5"/>
<circle class="t" cx="108.9" cy="386.0"/>
<circle class="p" cx="178.4" cy="384.1"/>
<circle class="t" cx="103.1" cy="330.9"/>
<circle class="t" cx="102.3" cy="352.2"/>
<circle class="t" cx="88.2" cy="370.0"/>
<circle class="t" cx="106.7" cy="374.1"/>
<circle class="t" cx="126.9" cy="330.8"/>
<circle class="t" cx="97.6" cy="372.6"/>
<circle class="g" cx="137.1" cy="392.1"/>
<circle class="p" cx="147.9" cy="363.7"/>
<circle class="t" cx="102.6" cy="380.5"/>
<circle class="t" cx="96.9" cy="366.3"/>
<circle class="g" cx="148.0" cy="390.9"/>
<circle class="g" cx="163.5" cy="386.0"/>
<circle class="t" cx="130.8" cy="389.5"/>
<circle class="p" cx="142.6" cy="339.0"/>
<circle class="p" cx="151.5" cy="351.8"/>
<circle class="g" cx="141.5" cy="401.6"/>
<circle class="t" cx="131.7" cy="335.7"/>
<circle class="t" cx="101.7" cy="356.2"/>
<circle class="t" cx="94.5" cy="338.5"/>
<circle class="g" cx="130.6" cy="363.2"/>
<circle class="g" cx="124.3" cy="410.1"/>
<circle class="t" cx="147.2" cy="361.0"/>
<circle class="g" cx="125.6" cy="355.2"/>
<circle class="g" cx="137.1" cy="402.5"/>
<circle class="t" cx="117.1" cy="315.0"/>
<circle class="t" cx="117.4" cy="343.9"/>
<circle class="t" cx="104.7" cy="348.6"/>
<circle class="g" cx="144.9" cy="376.0"/>
<circle class="t" cx="133.7" cy="306.5"/>
<circle class="t" cx="98.3" cy="353.1"/>
<circle class="t" cx="101.3" cy="345.5"/>
<circle class="t" cx="88.8" cy="320.8"/>
<circle class="g" cx="149.3" cy="381.2"/>
<circle class="g" cx="114.1" cy="390.3"/>
<circle class="p" cx="158.5" cy="362.5"/>
<circle class="t" cx="112.0" cy="338.6"/>
<circle class="g" cx="124.8" cy="408.7"/>
<circle class="t" cx="137.9" cy="314.3"/>
<circle class="g" cx="96.9" cy="358.6"/>
<circle class="t" cx="96.6" cy="358.6"/>
<circle class="g" cx="132.4" cy="392.3"/>
<circle class="g" cx="145.3" cy="395.0"/>
<circle class="t" cx="97.5" cy="366.7"/>
<circle class="t" cx="98.3" cy="347.0"/>
<circle class="t" cx="110.5" cy="351.3"/>
<circle class="t" cx="131.0" cy="325.8"/>
<circle class="p" cx="148.9" cy="370.6"/>
<circle class="t" cx="95.7" cy="351.5"/>
<circle class="g" cx="127.3" cy="379.6"/>
<circle class="p" cx="161.0" cy="381.9"/>
<circle class="g" cx="108.5" cy="401.5"/>
<circle class="t" cx="108.4" cy="366.2"/>
<circle class="p" cx="168.8" cy="374.9"/>
<circle class="t" cx="118.0" cy="360.7"/>
<circle class="g" cx="143.2" cy="373.7"/>
<circle class="t" cx="97.4" cy="349.8"/>
<circle class="t" cx="102.7" cy="368.5"/>
<circle class="t" cx="108.1" cy="380.9"/>
<circle class="t" cx="119.5" cy="330.6"/>
<circle class="p" cx="131.6" cy="369.0"/>
<circle class="t" cx="100.0" cy="398.7"/>
<circle class="g" cx="134.3" cy="385.2"/>
<circle class="p" cx="169.8" cy="367.6"/>
<circle class="g" cx="122.5" cy="389.1"/>
<circle class="t" cx="107.5" cy="329.1"/>
<circle class="t" cx="96.6" cy="385.9"/>
<circle class="p" cx="164.2" cy="363.5"/>
<circle class="t" cx="87.7" cy="388.3"/>
<circle class="t" cx="126.3" cy="372.6"/>
<circle class="t" cx="91.9" cy="386.7"/>
<circle class="p" cx="163.8" cy="378.3"/>
<circle class="t" cx="130.8" cy="349.8"/>
<circle class="t" cx="118.4" cy="398.3"/>
<circle class="t" cx="82.6" cy="377.5"/>
<circle class="t" cx="92.5" cy="396.5"/>
<circle class="g" cx="121.6" cy="392.3"/>
<circle class="p" cx="159.6" cy="362.2"/>
<circle class="t" cx="134.0" cy="342.9"/>
<circle class="p" cx="145.0" cy="365.9"/>
<circle class="t" cx="110.4" cy="351.5"/>
<circle class="p" cx="166.5" cy="398.3"/>
<circle class="t" cx="96.8" cy="314.4"/>
<circle class="p" cx="179.5" cy="357.6"/>
<circle class="t" cx="100.4" cy="342.3"/>
<circle class="t" cx="118.8" cy="344.5"/>
<circle class="t" cx="112.7" cy="338.5"/>
<circle class="g" cx="124.7" cy="369.3"/>
<circle class="g" cx="152.1" cy="408.2"/>
<circle class="g" cx="108.3" cy="382.1"/>
<circle class="t" cx="109.0" cy="348.2"/>
<circle class="p" cx="163.1" cy="378.7"/>
<circle class="p" cx="155.0" cy="374.4"/>
<circle class="t" cx="123.7" cy="344.2"/>
<circle class="g" cx="135.5" cy="383.6"/>
<circle class="t" cx="120.7" cy="358.5"/>
<circle class="g" cx="120.9" cy="353.9"/>
<circle class="t" cx="91.2" cy="342.2"/>
<circle class="t" cx="126.0" cy="334.1"/>
<circle class="g" cx="131.6" cy="399.2"/>
<circle class="t" cx="120.2" cy="352.7"/>
<circle class="p" cx="159.0" cy="380.2"/>
<circle class="p" cx="152.1" cy="359.0"/>
<circle class="t" cx="104.3" cy="321.3"/>
<circle class="g" cx="123.8" cy="369.3"/>
<circle class="t" cx="126.8" cy="353.6"/>
<circle class="p" cx="164.5" cy="384.1"/>
<circle class="g" cx="159.1" cy="388.2"/>
<circle class="p" cx="143.4" cy="349.4"/>
<circle class="p" cx="156.9" cy="363.8"/>
<circle class="t" cx="97.9" cy="355.6"/>
<circle class="p" cx="139.0" cy="383.1"/>
<circle class="t" cx="102.7" cy="325.2"/>
<circle class="t" cx="80.0" cy="360.2"/>
<circle class="t" cx="104.5" cy="386.5"/>
<circle class="p" cx="160.7" cy="382.6"/>
<circle class="g" cx="151.5" cy="393.3"/>
<circle class="p" cx="144.0" cy="373.2"/>
<circle class="p" cx="133.4" cy="370.8"/>
<circle class="g" cx="126.1" cy="405.2"/>
<circle class="t" cx="115.5" cy="362.5"/>
<circle class="t" cx="112.3" cy="358.1"/>
<circle class="t" cx="100.1" cy="324.8"/>
<circle class="t" cx="113.8" cy="400.7"/>
<circle class="t" cx="87.5" cy="395.6"/>
<circle class="t" cx="112.7" cy="341.9"/>
<circle class="t" cx="139.5" cy="309.2"/>
<circle class="p" cx="152.6" cy="366.3"/>
<circle class="g" cx="144.9" cy="406.2"/>
<circle class="t" cx="104.1" cy="386.4"/>
<circle class="p" cx="148.2" cy="386.3"/>
<circle class="t" cx="98.6" cy="343.1"/>
<circle class="t" cx="100.3" cy="370.1"/>
<circle class="t" cx="120.9" cy="384.0"/>
<circle class="p" cx="158.2" cy="357.2"/>
<circle class="p" cx="166.3" cy="386.2"/>
<circle class="t" cx="104.4" cy="381.7"/>
<circle class="t" cx="120.3" cy="405.7"/>
<circle class="g" cx="100.8" cy="382.7"/>
<circle class="t" cx="102.9" cy="390.4"/>
<circle class="t" cx="113.8" cy="386.9"/>
<circle class="t" cx="110.2" cy="340.1"/>
<circle class="t" cx="112.1" cy="362.7"/>
<circle class="t" cx="108.0" cy="346.0"/>
<circle class="t" cx="77.6" cy="350.9"/>
<circle class="p" cx="162.4" cy="361.1"/>
<circle class="t" cx="84.5" cy="347.2"/>
<circle class="g" cx="148.1" cy="399.5"/>
<circle class="t" cx="91.1" cy="393.4"/>
<circle class="g" cx="136.5" cy="409.0"/>
<circle class="t" cx="113.5" cy="325.6"/>
<circle class="p" cx="179.2" cy="358.7"/>
<circle class="t" cx="100.3" cy="385.6"/>
<circle class="g" cx="127.9" cy="408.5"/>
<circle class="g" cx="113.4" cy="369.6"/>
<circle class="g" cx="148.3" cy="380.6"/>
<circle class="t" cx="103.7" cy="367.8"/>
<circle class="t" cx="111.7" cy="317.5"/>
<circle class="g" cx="143.6" cy="402.3"/>
<circle class="t" cx="120.2" cy="322.8"/>
<circle class="g" cx="125.4" cy="381.2"/>
<circle class="t" cx="118.9" cy="389.1"/>
<circle class="t" cx="120.7" cy="354.2"/>
<circle class="g" cx="140.3" cy="381.6"/>
<circle class="t" cx="104.2" cy="407.8"/>
<circle class="g" cx="130.4" cy="340.7"/>
<circle class="t" cx="119.4" cy="346.9"/>
<circle class="t" cx="99.8" cy="354.2"/>
<circle class="t" cx="101.1" cy="344.3"/>
<circle class="t" cx="95.9" cy="391.5"/>
<circle class="t" cx="151.7" cy="338.4"/>
<circle class="t" cx="99.3" cy="350.6"/>
<circle class="g" cx="163.6" cy="387.9"/>
<circle class="t" cx="90.5" cy="367.4"/>
<circle class="t" cx="97.2" cy="323.4"/>
<circle class="t" cx="109.8" cy="330.9"/>
<circle class="p" cx="145.0" cy="384.9"/>
<circle class="t" cx="116.1" cy="363.5"/>
<circle class="t" cx="90.3" cy="384.8"/>
<circle class="t" cx="108.6" cy="360.6"/>
<circle class="g" cx="165.3" cy="401.8"/>
<circle class="t" cx="115.7" cy="318.2"/>
<circle class="g" cx="126.8" cy="389.7"/>
<circle class="t" cx="106.7" cy="355.6"/>
<circle class="g" cx="141.0" cy="388.2"/>
<circle class="t" cx="117.5" cy="354.8"/>
<circle class="t" cx="106.8" cy="323.8"/>
<circle class="t" cx="115.8" cy="372.4"/>
<circle class="g" cx="127.3" cy="385.5"/>
<circle class="t" cx="123.3" cy="336.6"/>
<circle class="t" cx="89.6" cy="356.0"/>
<circle class="t" cx="118.0" cy="349.7"/>
<circle class="p" cx="157.4" cy="366.3"/>
<circle class="t" cx="109.8" cy="338.9"/>
<circle class="t" cx="110.2" cy="383.1"/>
<circle class="t" cx="126.1" cy="348.6"/>
<circle class="t" cx="134.1" cy="327.0"/>
<circle class="t" cx="103.6" cy="341.1"/>
<circle class="t" cx="143.6" cy="319.4"/>
<circle class="t" cx="75.8" cy="380.1"/>
<circle class="t" cx="109.3" cy="312.3"/>
<circle class="p" cx="152.8" cy="386.7"/>
<circle class="g" cx="150.6" cy="404.3"/>
<circle class="g" cx="142.1" cy="366.3"/>
<circle class="g" cx="100.4" cy="404.0"/>
<circle class="g" cx="139.4" cy="400.3"/>
<circle class="t" cx="94.9" cy="381.8"/>
<circle class="t" cx="100.8" cy="355.1"/>
<circle class="p" cx="139.5" cy="372.2"/>
<circle class="g" cx="158.9" cy="396.7"/>
<circle class="t" cx="101.7" cy="338.3"/>
<circle class="t" cx="120.3" cy="355.1"/>
<circle class="t" cx="120.7" cy="344.8"/>
<circle class="g" cx="147.2" cy="392.6"/>
<circle class="t" cx="119.2" cy="347.9"/>
<circle class="g" cx="115.0" cy="393.6"/>
<circle class="t" cx="143.8" cy="350.5"/>
<circle class="g" cx="170.0" cy="380.8"/>
<circle class="t" cx="130.6" cy="387.2"/>
<circle class="t" cx="106.5" cy="359.6"/>
<circle class="t" cx="95.9" cy="324.5"/>
<circle class="g" cx="134.7" cy="383.8"/>
<circle class="t" cx="89.8" cy="377.2"/>
<circle class="t" cx="114.0" cy="316.1"/>
<circle class="t" cx="101.6" cy="304.1"/>
<circle class="t" cx="113.8" cy="357.5"/>
<circle class="t" cx="108.0" cy="383.0"/>
<circle class="t" cx="126.3" cy="355.2"/>
<circle class="g" cx="116.6" cy="382.9"/>
<circle class="t" cx="104.1" cy="365.6"/>
<circle class="g" cx="140.0" cy="390.1"/>
<circle class="t" cx="105.3" cy="349.9"/>
<circle class="t" cx="114.4" cy="379.2"/>
<circle class="g" cx="154.6" cy="394.5"/>
<circle class="t" cx="125.1" cy="333.2"/>
<circle class="t" cx="93.9" cy="341.7"/>
<circle class="t" cx="129.1" cy="323.5"/>
<circle class="g" cx="127.7" cy="407.1"/>
<circle class="t" cx="100.8" cy="353.8"/>
<circle class="t" cx="107.9" cy="355.4"/>
<circle class="t" cx="100.4" cy="367.6"/>
<circle class="g" cx="122.4" cy="383.7"/>
<circle class="g" cx="146.2" cy="384.6"/>
<circle class="t" cx="105.3" cy="366.9"/>
<circle class="t" cx="110.9" cy="341.8"/>
<circle class="t" cx="102.4" cy="401.3"/>
<circle class="g" cx="151.5" cy="408.7"/>
<circle class="t" cx="103.3" cy="332.5"/>
<circle class="t" cx="109.8" cy="339.3"/>
<circle class="p" cx="140.5" cy="363.1"/>
<circle class="t" cx="87.5" cy="336.0"/>
<circle class="t" cx="111.8" cy="335.9"/>
<circle class="g" cx="145.2" cy="388.2"/>
<circle class="g" cx="126.1" cy="379.3"/>
<circle class="g" cx="135.5" cy="381.3"/>
<circle class="t" cx="117.8" cy="341.6"/>
<circle class="p" cx="132.7" cy="357.3"/>
<circle class="p" cx="176.2" cy="363.9"/>
<circle class="t" cx="95.5" cy="329.1"/>
<circle class="t" cx="125.9" cy="339.8"/>
<circle class="g" cx="121.7" cy="330.6"/>
<circle class="g" cx="148.4" cy="391.3"/>
<circle class="g" cx="137.7" cy="390.5"/>
<circle class="g" cx="160.9" cy="375.0"/>
<circle class="g" cx="167.2" cy="380.9"/>
<circle class="t" cx="127.5" cy="347.4"/>
<circle class="t" cx="99.1" cy="351.6"/>
<circle class="t" cx="97.0" cy="394.5"/>
<circle class="g" cx="134.5" cy="387.1"/>
<circle class="t" cx="124.4" cy="366.1"/>
<circle class="t" cx="91.4" cy="351.5"/>
<circle class="p" cx="143.2" cy="360.1"/>
<circle class="t" cx="112.2" cy="357.9"/>
<circle class="g" cx="128.8" cy="387.7"/>
<circle class="t" cx="85.4" cy="347.5"/>
<circle class="t" cx="110.2" cy="373.3"/>
<circle class="t" cx="119.1" cy="395.1"/>
<circle class="t" cx="110.6" cy="326.4"/>
<circle class="t" cx="138.0" cy="362.0"/>
<circle class="t" cx="102.1" cy="330.0"/>
<circle class="g" cx="133.6" cy="388.2"/>
<circle class="t" cx="116.1" cy="382.2"/>
<circle class="t" cx="94.4" cy="331.7"/>
<circle class="p" cx="138.9" cy="385.5"/>
<circle class="g" cx="101.1" cy="386.9"/>
<circle class="t" cx="83.4" cy="326.9"/>
<circle class="t" cx="98.5" cy="375.5"/>
<circle class="g" cx="109.6" cy="374.7"/>
<circle class="g" cx="124.2" cy="389.9"/>
<circle class="g" cx="136.3" cy="385.7"/>
<circle class="t" cx="102.6" cy="345.0"/>
<circle class="g" cx="145.7" cy="374.5"/>
<circle class="g" cx="95.5" cy="402.0"/>
<circle class="t" cx="103.2" cy="355.3"/>
<circle class="p" cx="160.7" cy="343.8"/>
<circle class="t" cx="82.7" cy="389.9"/>
<circle class="t" cx="98.0" cy="372.4"/>
<circle class="t" cx="85.8" cy="355.6"/>
<circle class="g" cx="136.2" cy="387.1"/>
<circle class="t" cx="102.0" cy="374.2"/>
<circle class="t" cx="125.6" cy="372.8"/>
<circle class="t" cx="109.7" cy="326.0"/>
<circle class="t" cx="126.5" cy="330.0"/>
<circle class="g" cx="144.7" cy="394.3"/>
<circle class="t" cx="128.0" cy="346.7"/>
<circle class="t" cx="84.0" cy="363.6"/>
<circle class="t" cx="94.9" cy="353.2"/>
<circle class="t" cx="89.9" cy="392.5"/>
<circle class="g" cx="135.3" cy="382.7"/>
<circle class="t" cx="105.5" cy="379.3"/>
<circle class="t" cx="96.9" cy="329.6"/>
<circle class="t" cx="86.8" cy="311.6"/>
<circle class="t" cx="107.6" cy="358.9"/>
<circle class="t" cx="101.5" cy="368.7"/>
<circle class="g" cx="118.3" cy="389.9"/>
<circle class="t" cx="100.7" cy="395.8"/>
<circle class="g" cx="103.6" cy="357.6"/>
<circle class="g" cx="158.6" cy="365.9"/>
<circle class="g" cx="125.1" cy="398.7"/>
<circle class="t" cx="105.5" cy="324.3"/>
<circle class="g" cx="127.7" cy="395.7"/>
<circle class="t" cx="98.9" cy="347.0"/>
<circle class="t" cx="127.3" cy="388.1"/>
<circle class="g" cx="137.4" cy="391.6"/>
<circle class="t" cx="85.6" cy="364.6"/>
<circle class="t" cx="118.9" cy="389.0"/>
<circle class="t" cx="98.1" cy="329.4"/>
<circle class="t" cx="117.1" cy="335.3"/>
<circle class="t" cx="98.8" cy="390.3"/>
<circle class="t" cx="138.2" cy="339.3"/>
<circle class="g" cx="82.3" cy="309.7"/>
<circle class="t" cx="112.5" cy="385.7"/>
<circle class="t" cx="127.4" cy="352.4"/>
<circle class="p" cx="149.8" cy="363.6"/>
<circle class="t" cx="94.6" cy="327.8"/>
<circle class="t" cx="99.8" cy="339.6"/>
<circle class="t" cx="102.1" cy="362.2"/>
<circle class="t" cx="113.5" cy="395.8"/>
<circle class="t" cx="108.6" cy="331.9"/>
<circle class="t" cx="110.1" cy="356.2"/>
<circle class="t" cx="107.4" cy="370.5"/>
<circle class="t" cx="94.9" cy="350.6"/>
<circle class="t" cx="91.2" cy="342.3"/>
<circle class="t" cx="120.6" cy="371.2"/>
<circle class="t" cx="83.1" cy="334.9"/>
<circle class="t" cx="100.5" cy="370.5"/>
<circle class="t" cx="95.4" cy="363.6"/>
<circle class="t" cx="103.6" cy="340.7"/>
<circle class="g" cx="129.2" cy="411.0"/>
<circle class="t" cx="129.4" cy="381.6"/>
<circle class="t" cx="104.4" cy="349.0"/>
<circle class="g" cx="147.0" cy="387.8"/>
<circle class="t" cx="90.2" cy="318.1"/>
<circle class="t" cx="102.7" cy="322.7"/>
<circle class="t" cx="113.2" cy="356.1"/>
<circle class="t" cx="96.1" cy="384.4"/>
<circle class="t" cx="86.0" cy="396.3"/>
<circle class="g" cx="141.8" cy="396.0"/>
<circle class="t" cx="89.1" cy="362.8"/>
<circle class="t" cx="121.1" cy="380.3"/>
<circle class="g" cx="159.7" cy="403.5"/>
<circle class="t" cx="96.6" cy="384.8"/>
<circle class="t" cx="96.7" cy="347.9"/>
<circle class="p" cx="159.0" cy="392.2"/>
<circle class="p" cx="153.5" cy="374.8"/>
<circle class="g" cx="127.8" cy="364.0"/>
<circle class="t" cx="107.2" cy="377.0"/>
<circle class="g" cx="162.1" cy="391.3"/>
<circle class="g" cx="135.2" cy="404.4"/>
<circle class="t" cx="118.7" cy="355.7"/>
<circle class="g" cx="142.6" cy="372.2"/>
<circle class="g" cx="118.6" cy="381.6"/>
<circle class="t" cx="108.1" cy="364.1"/>
<circle class="t" cx="113.4" cy="402.9"/>
<circle class="t" cx="103.3" cy="340.2"/>
<circle class="g" cx="118.7" cy="381.1"/>
<circle class="t" cx="95.5" cy="368.9"/>
<circle class="g" cx="137.9" cy="390.6"/>
<circle class="t" cx="116.7" cy="319.9"/>
<circle class="p" cx="158.2" cy="371.8"/>
<circle class="t" cx="124.9" cy="357.2"/>
<circle class="t" cx="111.1" cy="319.3"/>
<circle class="t" cx="103.1" cy="357.8"/>
<circle class="g" cx="123.2" cy="375.7"/>
<circle class="t" cx="102.5" cy="349.6"/>
<circle class="t" cx="108.4" cy="315.2"/>
<circle class="t" cx="116.7" cy="343.9"/>
<circle class="g" cx="127.1" cy="395.3"/>
<circle class="t" cx="115.9" cy="321.8"/>
<circle class="t" cx="107.3" cy="338.7"/>
<circle class="g" cx="124.8" cy="361.3"/>
<circle class="t" cx="129.7" cy="355.7"/>
<circle class="t" cx="129.4" cy="357.7"/>
<circle class="t" cx="111.6" cy="347.1"/>
<circle class="g" cx="119.6" cy="413.1"/>
<circle class="t" cx="99.1" cy="302.6"/>
<circle class="t" cx="107.9" cy="324.4"/>
<circle class="t" cx="109.8" cy="331.7"/>
<circle class="t" cx="84.5" cy="350.7"/>
<circle class="g" cx="144.2" cy="385.9"/>
<circle class="t" cx="100.5" cy="372.5"/>
<circle class="g" cx="129.2" cy="367.1"/>
<circle class="t" cx="95.6" cy="359.3"/>
<circle class="t" cx="105.3" cy="372.9"/>
<circle class="t" cx="109.2" cy="346.7"/>
<circle class="t" cx="97.7" cy="369.7"/>
<circle class="g" cx="123.4" cy="399.7"/>
<circle class="p" cx="170.0" cy="397.4"/>
<circle class="p" cx="176.7" cy="366.3"/>
<circle class="t" cx="107.1" cy="332.3"/>
<circle class="t" cx="86.4" cy="341.6"/>
<circle class="g" cx="121.5" cy="370.2"/>
<circle class="t" cx="98.4" cy="317.4"/>
<circle class="g" cx="148.7" cy="386.1"/>
<circle class="t" cx="124.0" cy="350.9"/>
<circle class="p" cx="173.9" cy="391.7"/>
<circle class="t" cx="93.4" cy="366.4"/>
<circle class="t" cx="87.3" cy="361.1"/>
<circle class="g" cx="143.0" cy="389.5"/>
<circle class="t" cx="85.2" cy="390.7"/>
<circle class="g" cx="152.9" cy="408.2"/>
<circle class="t" cx="107.3" cy="331.4"/>
<circle class="g" cx="134.1" cy="367.0"/>
<circle class="g" cx="122.2" cy="398.6"/>
<circle class="g" cx="135.7" cy="373.7"/>
<circle class="t" cx="106.8" cy="378.6"/>
<circle class="t" cx="107.7" cy="318.8"/>
<circle class="t" cx="114.6" cy="342.8"/>
<circle class="t" cx="120.9" cy="346.2"/>
<circle class="g" cx="148.7" cy="400.8"/>
<circle class="t" cx="98.7" cy="407.0"/>
<circle class="g" cx="143.6" cy="394.7"/>
<circle class="t" cx="109.4" cy="329.7"/>
<circle class="t" cx="74.5" cy="386.0"/>
<circle class="t" cx="97.5" cy="387.6"/>
<circle class="t" cx="98.4" cy="359.4"/>
<circle class="t" cx="141.3" cy="351.3"/>
<circle class="t" cx="126.0" cy="359.3"/>
<circle class="t" cx="102.4" cy="309.3"/>
<circle class="t" cx="83.4" cy="362.3"/>
<circle class="g" cx="109.8" cy="346.2"/>
<circle class="t" cx="106.9" cy="399.6"/>
<circle class="t" cx="109.6" cy="380.0"/>
<circle class="t" cx="105.4" cy="365.3"/>
<circle class="t" cx="98.4" cy="318.9"/>
<circle class="t" cx="105.6" cy="333.2"/>
<circle class="g" cx="135.1" cy="326.2"/>
<circle class="g" cx="137.8" cy="407.7"/>
<circle class="t" cx="115.8" cy="354.8"/>
<circle class="t" cx="94.0" cy="358.6"/>
<circle class="t" cx="81.7" cy="391.1"/>
<circle class="t" cx="105.7" cy="355.8"/>
<circle class="t" cx="104.5" cy="341.8"/>
<circle class="g" cx="131.7" cy="389.9"/>
<circle class="t" cx="125.3" cy="326.4"/>
<circle class="t" cx="117.1" cy="333.0"/>
<circle class="t" cx="86.3" cy="318.7"/>
<circle class="g" cx="144.1" cy="403.0"/>
<circle class="t" cx="131.2" cy="319.7"/>
<circle class="t" cx="121.8" cy="323.0"/>
<circle class="t" cx="127.5" cy="329.2"/>
<circle class="t" cx="130.0" cy="350.5"/>
<circle class="t" cx="101.8" cy="330.6"/>
<circle class="t" cx="100.5" cy="343.8"/>
<circle class="t" cx="101.0" cy="385.8"/>
<circle class="t" cx="98.7" cy="386.7"/>
<circle class="g" cx="130.2" cy="381.9"/>
<circle class="p" cx="147.1" cy="381.2"/>
<circle class="g" cx="107.7" cy="396.2"/>
<circle class="t" cx="123.8" cy="364.2"/>
<circle class="p" cx="168.2" cy="356.2"/>
<circle class="t" cx="102.2" cy="365.1"/>
<circle class="p" cx="166.9" cy="351.0"/>
<circle class="t" cx="106.2" cy="380.1"/>
<circle class="t" cx="95.4" cy="328.1"/>
<circle class="t" cx="135.3" cy="330.7"/>
<circle class="t" cx="93.9" cy="344.9"/>
<circle class="t" cx="98.4" cy="378.7"/>
<circle class="t" cx="122.1" cy="367.5"/>
<circle class="t" cx="121.5" cy="341.4"/>
<circle class="t" cx="95.3" cy="342.0"/>
<circle class="g" cx="124.2" cy="408.0"/>
<circle class="g" cx="113.1" cy="405.4"/>
<circle class="g" cx="110.4" cy="381.1"/>
<circle class="t" cx="109.9" cy="335.1"/>
<circle class="t" cx="107.2" cy="375.7"/>
<circle class="t" cx="109.3" cy="355.5"/>
<circle class="g" cx="135.6" cy="380.1"/>
<circle class="g" cx="122.6" cy="394.0"/>
<circle class="t" cx="110.9" cy="351.9"/>
<circle class="t" cx="117.1" cy="373.1"/>
<circle class="t" cx="90.0" cy="373.8"/>
<circle class="t" cx="100.7" cy="360.8"/>
<circle class="p" cx="175.6" cy="368.6"/>
<circle class="t" cx="102.8" cy="362.2"/>
<circle class="g" cx="127.2" cy="376.4"/>
<circle class="g" cx="103.1" cy="365.1"/>
<circle class="t" cx="115.1" cy="349.5"/>
<circle class="g" cx="97.9" cy="391.9"/>
<circle class="t" cx="105.9" cy="383.3"/>
<circle class="p" cx="162.8" cy="372.1"/>
<circle class="t" cx="105.2" cy="316.9"/>
<circle class="t" cx="99.0" cy="361.0"/>
<circle class="t" cx="108.4" cy="347.1"/>
<circle class="g" cx="144.0" cy="387.2"/>
<circle class="t" cx="103.0" cy="334.7"/>
<circle class="g" cx="116.0" cy="406.7"/>
<circle class="t" cx="122.5" cy="339.3"/>
<circle class="g" cx="134.1" cy="405.1"/>
<circle class="t" cx="93.7" cy="329.0"/>
<circle class="t" cx="106.2" cy="363.8"/>
<circle class="p" cx="150.5" cy="359.4"/>
<circle class="p" cx="163.0" cy="365.7"/>
<circle class="t" cx="83.3" cy="342.2"/>
<circle class="g" cx="115.7" cy="397.3"/>
<circle class="p" cx="173.5" cy="382.0"/>
<circle class="t" cx="109.5" cy="349.6"/>
<circle class="t" cx="106.0" cy="344.3"/>
<circle class="p" cx="152.4" cy="382.9"/>
<circle class="t" cx="105.2" cy="336.2"/>
<circle class="g" cx="155.6" cy="396.8"/>
<circle class="g" cx="111.3" cy="373.7"/>
<circle class="t" cx="107.6" cy="331.8"/>
<circle class="t" cx="124.4" cy="386.7"/>
<circle class="g" cx="131.3" cy="372.0"/>
<circle class="g" cx="129.5" cy="386.1"/>
<circle class="t" cx="122.9" cy="316.1"/>
<circle class="t" cx="90.0" cy="380.4"/>
<circle class="t" cx="122.5" cy="387.2"/>
<circle class="t" cx="120.4" cy="350.0"/>
<circle class="g" cx="112.7" cy="378.1"/>
<circle class="t" cx="112.2" cy="362.0"/>
<circle class="t" cx="101.4" cy="348.1"/>
<circle class="t" cx="121.4" cy="333.7"/>
<circle class="g" cx="149.1" cy="385.1"/>
<circle class="g" cx="102.9" cy="342.3"/>
<circle class="t" cx="133.2" cy="340.0"/>
<circle class="g" cx="165.7" cy="404.2"/>
<circle class="g" cx="140.6" cy="387.8"/>
<circle class="t" cx="96.1" cy="360.2"/>
<circle class="g" cx="151.7" cy="385.5"/>
<circle class="t" cx="103.2" cy="345.0"/>
<circle class="g" cx="157.5" cy="373.0"/>
<circle class="p" cx="152.4" cy="383.6"/>
<circle class="t" cx="97.8" cy="312.2"/>
<circle class="t" cx="81.3" cy="385.7"/>
<circle class="t" cx="99.7" cy="358.6"/>
<circle class="g" cx="143.5" cy="380.4"/>
<circle class="t" cx="107.4" cy="308.9"/>
<circle class="g" cx="145.5" cy="403.5"/>
<circle class="g" cx="123.0" cy="315.4"/>
<circle class="t" cx="102.0" cy="361.8"/>
<circle class="t" cx="98.2" cy="353.2"/>
<circle class="p" cx="151.6" cy="384.5"/>
<circle class="t" cx="110.7" cy="360.6"/>
<circle class="t" cx="117.4" cy="392.7"/>
<circle class="t" cx="90.4" cy="361.6"/>
<circle class="t" cx="118.2" cy="347.0"/>
<circle class="t" cx="108.1" cy="354.3"/>
<circle class="t" cx="121.4" cy="366.5"/>
<circle class="g" cx="121.5" cy="350.6"/>
<circle class="t" cx="114.8" cy="375.2"/>
<circle class="t" cx="120.7" cy="400.3"/>
<circle class="p" cx="165.7" cy="400.9"/>
<circle class="g" cx="163.5" cy="393.5"/>
<circle class="t" cx="124.9" cy="331.9"/>
<circle class="t" cx="99.8" cy="396.6"/>
<circle class="t" cx="116.0" cy="367.6"/>
<circle class="t" cx="83.7" cy="380.7"/>
<circle class="t" cx="122.7" cy="346.2"/>
<circle class="t" cx="116.6" cy="345.0"/>
<circle class="t" cx="100.4" cy="348.5"/>
<circle class="t" cx="91.0" cy="340.8"/>
<circle class="t" cx="116.3" cy="388.2"/>
<circle class="t" cx="112.2" cy="355.8"/>
<circle class="t" cx="108.6" cy="345.4"/>
<circle class="g" cx="143.0" cy="394.1"/>
<circle class="t" cx="94.3" cy="383.7"/>
<circle class="t" cx="91.1" cy="335.9"/>
<circle class="t" cx="107.2" cy="354.3"/>
<circle class="t" cx="118.0" cy="341.4"/>
<circle class="t" cx="91.9" cy="348.3"/>
<circle class="t" cx="137.2" cy="311.6"/>
<circle class="t" cx="112.6" cy="347.4"/>
<circle class="g" cx="123.3" cy="387.4"/>
<circle class="t" cx="84.2" cy="370.9"/>
<circle class="p" cx="149.6" cy="374.8"/>
<circle class="t" cx="93.5" cy="413.9"/>
<circle class="g" cx="155.9" cy="376.6"/>
<circle class="t" cx="103.3" cy="347.6"/>
<circle class="t" cx="116.8" cy="328.6"/>
<circle class="g" cx="127.3" cy="404.8"/>
<circle class="t" cx="112.6" cy="321.7"/>
<circle class="g" cx="157.1" cy="409.4"/>
<circle class="p" cx="164.8" cy="342.0"/>
<circle class="g" cx="134.1" cy="402.2"/>
<circle class="t" cx="140.3" cy="340.7"/>
<circle class="t" cx="106.6" cy="374.0"/>
<circle class="t" cx="127.7" cy="353.1"/>
<circle class="p" cx="141.1" cy="381.1"/>
<circle class="p" cx="142.0" cy="394.1"/>
<circle class="t" cx="93.5" cy="377.0"/>
<circle class="t" cx="94.8" cy="336.4"/>
<circle class="g" cx="133.6" cy="393.6"/>
<circle class="p" cx="159.4" cy="365.6"/>
<circle class="t" cx="112.3" cy="369.8"/>
<circle class="g" cx="143.7" cy="387.2"/>
<circle class="t" cx="102.2" cy="370.1"/>
<circle class="t" cx="105.2" cy="347.9"/>
<circle class="t" cx="83.7" cy="348.1"/>
<circle class="t" cx="110.2" cy="371.6"/>
<circle class="t" cx="95.7" cy="338.7"/>
<circle class="t" cx="102.5" cy="371.4"/>
<circle class="g" cx="150.6" cy="397.4"/>
<circle class="t" cx="118.7" cy="324.5"/>
<circle class="t" cx="109.2" cy="341.3"/>
<circle class="g" cx="129.9" cy="399.1"/>
<circle class="t" cx="134.2" cy="386.8"/>
<circle class="t" cx="100.3" cy="347.1"/>
<circle class="t" cx="125.7" cy="382.8"/>
<circle class="t" cx="101.9" cy="323.4"/>
<circle class="p" cx="139.6" cy="343.3"/>
<circle class="t" cx="115.2" cy="355.0"/>
<circle class="g" cx="115.2" cy="410.8"/>
<circle class="t" cx="86.8" cy="370.4"/>
<circle class="g" cx="120.1" cy="392.8"/>
<circle class="g" cx="140.2" cy="407.6"/>
<circle class="t" cx="120.2" cy="348.3"/>
<circle class="t" cx="125.5" cy="375.0"/>
<circle class="g" cx="146.8" cy="380.6"/>
<circle class="p" cx="149.4" cy="369.2"/>
<circle class="t" cx="93.1" cy="389.9"/>
<circle class="p" cx="146.4" cy="359.3"/>
<circle class="t" cx="91.6" cy="334.0"/>
<circle class="t" cx="114.8" cy="388.3"/>
<circle class="g" cx="115.5" cy="396.9"/>
<circle class="t" cx="90.0" cy="388.1"/>
<circle class="p" cx="165.6" cy="403.6"/>
<circle class="p" cx="149.3" cy="374.7"/>
<circle class="t" cx="116.2" cy="357.1"/>
<circle class="p" cx="157.1" cy="378.0"/>
<circle class="g" cx="144.6" cy="401.8"/>
<circle class="t" cx="94.5" cy="343.0"/>
<circle class="t" cx="105.7" cy="365.4"/>
<circle class="p" cx="174.7" cy="377.2"/>
<circle class="t" cx="98.4" cy="372.2"/>
<circle class="g" cx="139.9" cy="382.5"/>
<circle class="t" cx="104.0" cy="332.2"/>
<circle class="p" cx="154.0" cy="384.2"/>
<circle class="g" cx="130.9" cy="369.7"/>
<circle class="p" cx="176.3" cy="365.0"/>
<circle class="t" cx="116.1" cy="394.1"/>
<circle class="t" cx="87.8" cy="319.7"/>
<circle class="g" cx="139.7" cy="384.8"/>
<circle class="p" cx="162.4" cy="366.2"/>
<circle class="g" cx="122.0" cy="389.4"/>
<circle class="t" cx="107.9" cy="353.9"/>
<circle class="t" cx="129.1" cy="370.4"/>
<circle class="p" cx="165.6" cy="367.0"/>
<circle class="g" cx="146.8" cy="380.2"/>
<circle class="t" cx="91.9" cy="367.6"/>
<circle class="t" cx="106.0" cy="353.8"/>
<circle class="t" cx="112.4" cy="385.5"/>
<circle class="t" cx="120.4" cy="379.6"/>
<circle class="p" cx="147.1" cy="361.9"/>
<circle class="t" cx="116.1" cy="319.2"/>
<circle class="g" cx="114.0" cy="402.8"/>
<circle class="t" cx="113.9" cy="384.2"/>
<circle class="g" cx="136.9" cy="400.7"/>
<circle class="t" cx="87.7" cy="374.5"/>
<circle class="t" cx="98.5" cy="368.1"/>
<circle class="t" cx="110.3" cy="340.9"/>
<circle class="t" cx="114.4" cy="362.1"/>
<circle class="g" cx="140.3" cy="377.0"/>
<circle class="t" cx="111.3" cy="354.6"/>
<circle class="t" cx="117.4" cy="314.3"/>
<circle class="t" cx="124.6" cy="384.0"/>
<circle class="t" cx="106.6" cy="341.4"/>
<circle class="t" cx="111.5" cy="372.4"/>
<circle class="p" cx="130.4" cy="383.9"/>
<circle class="t" cx="109.6" cy="375.9"/>
<circle class="g" cx="143.5" cy="405.6"/>
<circle class="g" cx="116.7" cy="372.0"/>
<circle class="g" cx="119.4" cy="397.5"/>
<circle class="t" cx="94.2" cy="352.9"/>
<circle class="t" cx="113.1" cy="303.8"/>
<circle class="t" cx="116.1" cy="352.5"/>
<circle class="t" cx="96.2" cy="334.7"/>
<circle class="t" cx="117.3" cy="366.1"/>
<circle class="t" cx="121.6" cy="317.4"/>
<circle class="g" cx="142.1" cy="394.6"/>
<circle class="g" cx="119.5" cy="386.4"/>
<circle class="g" cx="157.1" cy="389.0"/>
<circle class="t" cx="104.8" cy="360.5"/>
<circle class="t" cx="113.4" cy="354.1"/>
<circle class="p" cx="147.1" cy="372.3"/>
<circle class="g" cx="135.2" cy="394.8"/>
<circle class="t" cx="83.3" cy="365.2"/>
<circle class="t" cx="105.7" cy="363.7"/>
<circle class="t" cx="134.0" cy="313.4"/>
<circle class="p" cx="141.7" cy="362.5"/>
<circle class="t" cx="119.2" cy="339.9"/>
<circle class="g" cx="140.2" cy="397.9"/>
<circle class="t" cx="117.2" cy="404.7"/>
<circle class="t" cx="94.3" cy="305.3"/>
<circle class="t" cx="104.8" cy="344.3"/>
<circle class="t" cx="111.7" cy="307.6"/>
<circle class="t" cx="91.0" cy="342.2"/>
<circle class="g" cx="136.5" cy="396.5"/>
<circle class="g" cx="109.1" cy="367.0"/>
<circle class="t" cx="99.5" cy="327.7"/>
<circle class="t" cx="99.4" cy="356.3"/>
<circle class="t" cx="108.1" cy="361.5"/>
<circle class="t" cx="116.1" cy="345.9"/>
<circle class="t" cx="102.2" cy="346.2"/>
<circle class="t" cx="83.3" cy="340.9"/>
<circle class="t" cx="80.1" cy="361.3"/>
<circle class="t" cx="101.3" cy="356.2"/>
<circle class="p" cx="149.2" cy="351.5"/>
<circle class="p" cx="172.3" cy="368.1"/>
<circle class="p" cx="143.0" cy="400.1"/>
<circle class="p" cx="174.0" cy="379.4"/>
<circle class="t" cx="131.4" cy="348.2"/>
<circle class="t" cx="102.3" cy="335.3"/>
<circle class="g" cx="136.5" cy="408.1"/>
<circle class="t" cx="130.1" cy="343.1"/>
<circle class="t" cx="93.5" cy="362.4"/>
<circle class="p" cx="164.9" cy="372.0"/>
<circle class="p" cx="147.8" cy="380.0"/>
<circle class="t" cx="119.0" cy="343.3"/>
<circle class="g" cx="148.7" cy="388.4"/>
<circle class="t" cx="115.5" cy="364.0"/>
<circle class="t" cx="116.5" cy="351.7"/>
<circle class="t" cx="85.6" cy="388.6"/>
<circle class="t" cx="104.9" cy="350.8"/>
<circle class="t" cx="114.7" cy="358.1"/>
<circle class="g" cx="148.0" cy="380.5"/>
<circle class="t" cx="124.5" cy="320.6"/>
<circle class="g" cx="91.8" cy="381.6"/>
<circle class="p" cx="157.0" cy="379.0"/>
<circle class="g" cx="154.6" cy="413.9"/>
<circle class="t" cx="101.3" cy="342.0"/>
<circle class="t" cx="105.6" cy="355.3"/>
<circle class="t" cx="146.3" cy="358.3"/>
<circle class="g" cx="104.8" cy="414.3"/>
<circle class="t" cx="93.4" cy="375.2"/>
<circle class="p" cx="141.8" cy="377.0"/>
<circle class="t" cx="111.4" cy="324.9"/>
<circle class="t" cx="110.7" cy="369.4"/>
<circle class="p" cx="153.7" cy="359.6"/>
<circle class="g" cx="107.8" cy="363.3"/>
<circle class="t" cx="111.2" cy="335.9"/>
<circle class="p" cx="179.4" cy="367.7"/>
<circle class="t" cx="108.5" cy="341.4"/>
<circle class="g" cx="145.7" cy="370.3"/>
<circle class="t" cx="100.6" cy="346.1"/>
<circle class="t" cx="117.7" cy="331.1"/>
<circle class="t" cx="114.6" cy="350.1"/>
<circle class="g" cx="127.8" cy="401.9"/>
<circle class="t" cx="106.8" cy="349.5"/>
<circle class="t" cx="92.4" cy="378.8"/>
<circle class="t" cx="126.4" cy="316.6"/>
<circle class="g" cx="117.6" cy="371.1"/>
<circle class="t" cx="109.4" cy="361.1"/>
<circle class="t" cx="90.0" cy="374.5"/>
<circle class="t" cx="123.0" cy="350.6"/>
<circle class="t" cx="118.8" cy="351.9"/>
<circle class="t" cx="96.2" cy="360.5"/>
<circle class="t" cx="149.8" cy="362.6"/>
<circle class="t" cx="95.6" cy="364.5"/>
<circle class="t" cx="117.7" cy="340.2"/>
<circle class="t" cx="91.8" cy="364.6"/>
<circle class="t" cx="104.9" cy="410.1"/>
<circle class="t" cx="87.0" cy="370.2"/>
<circle class="t" cx="124.6" cy="345.4"/>
<circle class="p" cx="163.0" cy="369.4"/>
<circle class="t" cx="110.2" cy="342.6"/>
<circle class="t" cx="124.7" cy="395.5"/>
<circle class="g" cx="132.9" cy="413.8"/>
<circle class="t" cx="115.0" cy="361.9"/>
<circle class="p" cx="164.7" cy="367.5"/>
<circle class="g" cx="153.1" cy="389.4"/>
<circle class="g" cx="148.4" cy="393.5"/>
<circle class="t" cx="102.7" cy="362.3"/>
<circle class="t" cx="112.1" cy="356.6"/>
<circle class="t" cx="130.3" cy="353.9"/>
<circle class="g" cx="148.1" cy="395.3"/>
<circle class="t" cx="98.4" cy="347.4"/>
<circle class="t" cx="78.8" cy="405.1"/>
<circle class="t" cx="95.3" cy="378.9"/>
<circle class="g" cx="134.9" cy="400.5"/>
<circle class="p" cx="151.5" cy="363.8"/>
<circle class="t" cx="100.6" cy="347.2"/>
<circle class="t" cx="113.9" cy="379.9"/>
<circle class="g" cx="121.6" cy="385.3"/>
<circle class="g" cx="139.7" cy="397.0"/>
<circle class="t" cx="105.7" cy="361.0"/>
<circle class="t" cx="127.2" cy="337.5"/>
<circle class="g" cx="147.8" cy="395.7"/>
<circle class="t" cx="112.4" cy="388.1"/>
<circle class="t" cx="90.4" cy="369.2"/>
<circle class="g" cx="130.9" cy="378.7"/>
<circle class="g" cx="109.7" cy="377.4"/>
<circle class="p" cx="149.4" cy="383.0"/>
<circle class="g" cx="156.2" cy="369.2"/>
<circle class="t" cx="78.9" cy="371.9"/>
<circle class="t" cx="116.3" cy="371.6"/>
<circle class="g" cx="127.0" cy="384.1"/>
<circle class="g" cx="115.3" cy="374.2"/>
<circle class="g" cx="173.6" cy="401.9"/>
<circle class="g" cx="129.4" cy="390.2"/>
<circle class="t" cx="122.2" cy="348.6"/>
<circle class="g" cx="173.6" cy="376.1"/>
<circle class="t" cx="87.7" cy="327.9"/>
<circle class="t" cx="128.5" cy="314.7"/>
<circle class="g" cx="140.6" cy="381.0"/>
<circle class="t" cx="101.8" cy="366.5"/>
<circle class="p" cx="171.7" cy="381.8"/>
<circle class="t" cx="102.3" cy="409.5"/>
<circle class="t" cx="116.5" cy="332.3"/>
<circle class="t" cx="104.0" cy="329.6"/>
<circle class="p" cx="145.1" cy="361.1"/>
<circle class="t" cx="130.0" cy="342.8"/>
<circle class="t" cx="112.3" cy="357.3"/>
<circle class="g" cx="153.2" cy="370.0"/>
<circle class="t" cx="98.4" cy="397.5"/>
<circle class="g" cx="155.0" cy="390.0"/>
<circle class="g" cx="129.6" cy="382.9"/>
<circle class="g" cx="171.7" cy="375.7"/>
<circle class="t" cx="109.5" cy="360.3"/>
<circle class="t" cx="102.2" cy="396.1"/>
<circle class="p" cx="153.5" cy="388.8"/>
<circle class="t" cx="110.2" cy="315.2"/>
<circle class="p" cx="158.3" cy="385.1"/>
<circle class="g" cx="143.1" cy="386.6"/>
<circle class="t" cx="104.0" cy="336.4"/>
<circle class="p" cx="174.6" cy="386.2"/>
<circle class="t" cx="114.4" cy="346.5"/>
<circle class="t" cx="88.0" cy="326.8"/>
<circle class="t" cx="153.4" cy="335.6"/>
<circle class="t" cx="100.5" cy="325.9"/>
<circle class="t" cx="107.6" cy="364.7"/>
<circle class="g" cx="147.4" cy="409.2"/>
<circle class="p" cx="174.3" cy="381.5"/>
<circle class="t" cx="102.9" cy="327.2"/>
<circle class="t" cx="99.6" cy="356.3"/>
<circle class="p" cx="153.4" cy="391.6"/>
<circle class="t" cx="115.7" cy="390.5"/>
<circle class="t" cx="98.6" cy="318.7"/>
<circle class="t" cx="99.7" cy="347.3"/>
<circle class="g" cx="106.9" cy="380.7"/>
<circle class="g" cx="168.1" cy="372.0"/>
<circle class="g" cx="120.0" cy="363.6"/>
<circle class="g" cx="131.5" cy="380.9"/>
<circle class="t" cx="122.1" cy="327.6"/>
<circle class="t" cx="104.1" cy="367.1"/>
<circle class="t" cx="115.3" cy="399.0"/>
<circle class="g" cx="131.8" cy="376.5"/>
<circle class="g" cx="168.4" cy="379.8"/>
<circle class="t" cx="77.4" cy="385.6"/>
<circle class="t" cx="101.6" cy="321.3"/>
<circle class="g" cx="125.8" cy="394.0"/>
<circle class="g" cx="140.6" cy="318.9"/>
<circle class="g" cx="118.9" cy="405.9"/>
<circle class="g" cx="146.8" cy="384.0"/>
<circle class="t" cx="123.8" cy="336.2"/>
<circle class="t" cx="117.4" cy="352.5"/>
<circle class="t" cx="118.3" cy="346.2"/>
<circle class="t" cx="115.3" cy="365.4"/>
<circle class="t" cx="111.0" cy="362.2"/>
<circle class="t" cx="130.9" cy="366.3"/>
<circle class="t" cx="116.0" cy="361.2"/>
<circle class="p" cx="146.1" cy="387.3"/>
<circle class="t" cx="96.9" cy="322.9"/>
<circle class="p" cx="154.9" cy="371.5"/>
<circle class="g" cx="159.0" cy="387.9"/>
<circle class="t" cx="83.9" cy="357.1"/>
<circle class="t" cx="113.2" cy="366.7"/>
<circle class="p" cx="151.3" cy="375.5"/>
<circle class="t" cx="109.9" cy="345.9"/>
<circle class="g" cx="114.0" cy="403.2"/>
<circle class="g" cx="135.6" cy="387.4"/>
<circle class="t" cx="103.4" cy="363.2"/>
<circle class="t" cx="105.9" cy="336.2"/>
<circle class="t" cx="118.5" cy="367.0"/>
<circle class="t" cx="125.3" cy="385.8"/>
<circle class="t" cx="97.5" cy="329.3"/>
<circle class="p" cx="179.8" cy="361.4"/>
<circle class="p" cx="166.9" cy="404.4"/>
<circle class="t" cx="119.8" cy="344.0"/>
<circle class="t" cx="100.5" cy="361.4"/>
<circle class="t" cx="105.4" cy="359.1"/>
<circle class="t" cx="95.1" cy="399.0"/>
<circle class="g" cx="100.8" cy="374.7"/>
<circle class="t" cx="115.4" cy="334.9"/>
<circle class="t" cx="116.3" cy="366.3"/>
<circle class="t" cx="107.0" cy="347.2"/>
<circle class="t" cx="142.1" cy="355.5"/>
<circle class="g" cx="148.6" cy="379.6"/>
<circle class="g" cx="134.7" cy="382.7"/>
<circle class="g" cx="123.6" cy="375.9"/>
<circle class="t" cx="111.0" cy="348.4"/>
<circle class="g" cx="122.1" cy="392.2"/>
<circle class="t" cx="111.7" cy="354.2"/>
<circle class="t" cx="128.3" cy="327.7"/>
<circle class="t" cx="95.5" cy="350.1"/>
<circle class="t" cx="114.7" cy="389.6"/>
<circle class="t" cx="87.4" cy="350.3"/>
<circle class="p" cx="154.2" cy="383.0"/>
<circle class="g" cx="110.1" cy="389.9"/>
<circle class="t" cx="84.0" cy="349.0"/>
<circle class="g" cx="142.0" cy="384.2"/>
<circle class="g" cx="140.0" cy="391.2"/>
<circle class="t" cx="106.1" cy="353.0"/>
<circle class="g" cx="153.3" cy="378.8"/>
<circle class="t" cx="96.1" cy="351.9"/>
<circle class="g" cx="121.3" cy="392.2"/>
<circle class="g" cx="121.1" cy="336.5"/>
<circle class="g" cx="146.9" cy="378.0"/>
<circle class="p" cx="145.7" cy="343.2"/>
<circle class="g" cx="124.9" cy="385.9"/>
<circle class="t" cx="112.0" cy="313.6"/>
<circle class="t" cx="99.7" cy="402.8"/>
<circle class="t" cx="112.7" cy="375.2"/>
<circle class="g" cx="144.2" cy="406.3"/>
<circle class="g" cx="142.0" cy="377.5"/>
<circle class="g" cx="120.2" cy="397.2"/>
<circle class="g" cx="119.4" cy="388.7"/>
<circle class="g" cx="119.4" cy="366.0"/>
<circle class="t" cx="80.5" cy="352.0"/>
<circle class="p" cx="159.9" cy="394.5"/>
<circle class="g" cx="172.5" cy="393.9"/>
<circle class="t" cx="120.0" cy="329.9"/>
<circle class="g" cx="130.4" cy="383.8"/>
<circle class="t" cx="121.5" cy="369.6"/>
<circle class="g" cx="152.5" cy="377.7"/>
<circle class="t" cx="104.5" cy="356.5"/>
<circle class="g" cx="151.5" cy="394.5"/>
<circle class="t" cx="105.3" cy="392.4"/>
<circle class="t" cx="123.8" cy="342.7"/>
<circle class="t" cx="103.2" cy="310.5"/>
<circle class="g" cx="127.6" cy="394.2"/>
<circle class="g" cx="102.9" cy="386.2"/>
<circle class="t" cx="87.5" cy="355.8"/>
<circle class="g" cx="158.4" cy="379.6"/>
<circle class="p" cx="163.8" cy="393.4"/>
<circle class="g" cx="131.4" cy="389.8"/>
<circle class="t" cx="117.3" cy="342.9"/>
<circle class="t" cx="94.6" cy="378.3"/>
<circle class="g" cx="142.0" cy="360.4"/>
<circle class="t" cx="115.4" cy="392.5"/>
<circle class="t" cx="101.0" cy="334.0"/>
<circle class="g" cx="161.3" cy="382.9"/>
<circle class="g" cx="139.6" cy="402.9"/>
<circle class="p" cx="139.0" cy="382.6"/>
<circle class="t" cx="101.5" cy="382.4"/>
<circle class="p" cx="163.4" cy="355.1"/>
<circle class="p" cx="154.2" cy="339.3"/>
<circle class="t" cx="106.7" cy="356.1"/>
<circle class="t" cx="105.5" cy="366.7"/>
<circle class="t" cx="101.0" cy="327.7"/>
<circle class="p" cx="167.7" cy="392.6"/>
<circle class="g" cx="102.1" cy="325.2"/>
<circle class="t" cx="103.2" cy="399.8"/>
<circle class="t" cx="110.4" cy="369.2"/>
<circle class="t" cx="104.9" cy="363.2"/>
<circle class="t" cx="104.1" cy="380.0"/>
<circle class="t" cx="96.6" cy="373.5"/>
<circle class="t" cx="119.3" cy="358.9"/>
<circle class="t" cx="98.8" cy="384.7"/>
<circle class="t" cx="116.7" cy="371.8"/>
<circle class="g" cx="149.1" cy="390.2"/>
<circle class="g" cx="116.8" cy="389.9"/>
<circle class="p" cx="169.0" cy="375.4"/>
<circle class="t" cx="116.1" cy="341.4"/>
<circle class="p" cx="163.6" cy="400.1"/>
<circle class="t" cx="105.3" cy="385.7"/>
<circle class="t" cx="99.6" cy="396.4"/>
<circle class="t" cx="87.8" cy="367.1"/>
<circle class="t" cx="118.8" cy="347.0"/>
<circle class="t" cx="102.4" cy="328.0"/>
<circle class="t" cx="111.8" cy="380.3"/>
<circle class="t" cx="105.0" cy="313.1"/>
<circle class="t" cx="99.3" cy="371.5"/>
<circle class="t" cx="128.6" cy="351.4"/>
<circle class="g" cx="108.2" cy="400.4"/>
<circle class="p" cx="150.0" cy="379.5"/>
<circle class="g" cx="144.4" cy="411.4"/>
<circle class="g" cx="155.4" cy="379.0"/>
<circle class="p" cx="143.6" cy="367.9"/>
<circle class="t" cx="121.7" cy="381.0"/>
<circle class="g" cx="144.5" cy="414.4"/>
<circle class="t" cx="116.5" cy="362.0"/>
<circle class="g" cx="170.7" cy="402.1"/>
<circle class="t" cx="108.7" cy="344.4"/>
<circle class="t" cx="92.3" cy="377.9"/>
<circle class="t" cx="112.8" cy="358.6"/>
<circle class="g" cx="123.4" cy="382.0"/>
<circle class="t" cx="126.3" cy="337.1"/>
<circle class="g" cx="139.8" cy="402.0"/>
<circle class="t" cx="98.2" cy="346.2"/>
<circle class="t" cx="96.3" cy="354.4"/>
<circle class="t" cx="103.6" cy="404.5"/>
<circle class="g" cx="125.9" cy="388.5"/>
<circle class="t" cx="92.1" cy="335.9"/>
<circle class="t" cx="113.1" cy="321.4"/>
<circle class="t" cx="101.2" cy="348.3"/>
<circle class="t" cx="94.9" cy="362.2"/>
<circle class="t" cx="109.1" cy="325.5"/>
<circle class="t" cx="106.9" cy="337.3"/>
<circle class="t" cx="102.3" cy="362.4"/>
<circle class="t" cx="108.0" cy="365.9"/>
<circle class="t" cx="113.8" cy="351.2"/>
<circle class="t" cx="125.5" cy="329.9"/>
<circle class="g" cx="126.6" cy="376.7"/>
<circle class="g" cx="154.6" cy="405.9"/>
<circle class="t" cx="100.6" cy="362.8"/>
<circle class="t" cx="97.0" cy="331.6"/>
<circle class="t" cx="113.4" cy="368.7"/>
<circle class="g" cx="135.8" cy="399.3"/>
<circle class="p" cx="157.2" cy="381.1"/>
<circle class="t" cx="99.9" cy="373.4"/>
<circle class="t" cx="95.4" cy="353.5"/>
<circle class="t" cx="96.0" cy="362.3"/>
<circle class="g" cx="143.2" cy="359.1"/>
<circle class="t" cx="111.9" cy="332.8"/>
<circle class="t" cx="112.5" cy="348.4"/>
<circle class="g" cx="141.5" cy="380.7"/>
<circle class="t" cx="97.2" cy="389.2"/>
<circle class="g" cx="113.1" cy="385.0"/>
<circle class="t" cx="125.4" cy="329.0"/>
<circle class="t" cx="103.4" cy="328.6"/>
<circle class="g" cx="151.2" cy="393.6"/>
<circle class="g" cx="110.2" cy="363.8"/>
<circle class="t" cx="112.0" cy="327.4"/>
<circle class="p" cx="175.9" cy="359.5"/>
<circle class="t" cx="101.9" cy="342.8"/>
<circle class="g" cx="129.7" cy="407.3"/>
<circle class="t" cx="103.2" cy="361.1"/>
<circle class="t" cx="105.1" cy="381.0"/>
<circle class="t" cx="98.3" cy="360.8"/>
<circle class="p" cx="168.0" cy="370.7"/>
<circle class="t" cx="108.4" cy="341.6"/>
<circle class="t" cx="105.1" cy="399.3"/>
<circle class="g" cx="132.5" cy="393.2"/>
<circle class="t" cx="124.8" cy="314.6"/>
<circle class="t" cx="109.1" cy="396.6"/>
<circle class="t" cx="107.5" cy="350.0"/>
<circle class="g" cx="149.6" cy="369.7"/>
<circle class="t" cx="94.5" cy="345.1"/>
<circle class="g" cx="101.8" cy="414.1"/>
<circle class="g" cx="125.2" cy="390.7"/>
<circle class="g" cx="142.0" cy="392.8"/>
<circle class="t" cx="107.1" cy="303.9"/>
<circle class="t" cx="111.9" cy="323.2"/>
<circle class="p" cx="163.0" cy="373.5"/>
<circle class="t" cx="106.7" cy="364.3"/>
<circle class="t" cx="119.5" cy="326.3"/>
<circle class="p" cx="149.1" cy="363.7"/>
<circle class="t" cx="112.0" cy="368.8"/>
<circle class="g" cx="118.2" cy="409.8"/>
<circle class="g" cx="152.0" cy="402.5"/>
<circle class="t" cx="113.0" cy="326.0"/>
<circle class="t" cx="128.2" cy="382.1"/>
<circle class="t" cx="102.1" cy="348.6"/>
<circle class="g" cx="130.9" cy="377.2"/>
<circle class="t" cx="119.4" cy="324.0"/>
<circle class="p" cx="159.1" cy="363.6"/>
<circle class="t" cx="107.7" cy="345.5"/>
<circle class="t" cx="100.9" cy="391.1"/>
<circle class="t" cx="92.4" cy="321.1"/>
<circle class="t" cx="88.3" cy="369.9"/>
<circle class="p" cx="176.1" cy="381.2"/>
<circle class="t" cx="110.5" cy="358.4"/>
<circle class="g" cx="138.6" cy="382.2"/>
<circle class="t" cx="92.2" cy="364.4"/>
<circle class="t" cx="122.1" cy="340.1"/>
<circle class="g" cx="146.3" cy="395.8"/>
<circle class="t" cx="106.6" cy="318.6"/>
<circle class="t" cx="96.9" cy="371.3"/>
<circle class="g" cx="151.1" cy="377.8"/>
<circle class="g" cx="143.1" cy="375.0"/>
<circle class="t" cx="117.7" cy="315.7"/>
<circle class="t" cx="100.3" cy="328.3"/>
<circle class="p" cx="178.7" cy="411.5"/>
<circle class="t" cx="113.6" cy="374.6"/>
<circle class="g" cx="137.4" cy="375.3"/>
<circle class="t" cx="117.1" cy="405.1"/>
<circle class="t" cx="99.9" cy="355.5"/>
<circle class="g" cx="174.0" cy="361.1"/>
<circle class="t" cx="93.9" cy="358.0"/>
<circle class="t" cx="79.3" cy="387.9"/>
<circle class="t" cx="129.1" cy="358.9"/>
<circle class="g" cx="104.9" cy="379.6"/>
<circle class="t" cx="85.8" cy="382.9"/>
<circle class="t" cx="100.2" cy="360.5"/>
<circle class="t" cx="132.0" cy="352.9"/>
<circle class="t" cx="113.4" cy="309.3"/>
<circle class="t" cx="97.8" cy="395.9"/>
<circle class="p" cx="159.6" cy="383.0"/>
<circle class="t" cx="102.0" cy="362.1"/>
<circle class="t" cx="112.2" cy="341.2"/>
<circle class="t" cx="80.9" cy="382.1"/>
<circle class="t" cx="110.8" cy="315.7"/>
<circle class="g" cx="140.5" cy="404.0"/>
<circle class="g" cx="145.4" cy="379.4"/>
<circle class="t" cx="113.9" cy="334.9"/>
<circle class="g" cx="108.2" cy="356.7"/>
<circle class="t" cx="104.2" cy="341.4"/>
<circle class="t" cx="104.7" cy="308.2"/>
<circle class="t" cx="126.3" cy="363.0"/>
<circle class="t" cx="127.8" cy="319.6"/>
<circle class="p" cx="150.2" cy="380.1"/>
<circle class="t" cx="125.4" cy="325.6"/>
<circle class="t" cx="122.5" cy="354.0"/>
<circle class="t" cx="107.0" cy="375.2"/>
<circle class="t" cx="89.2" cy="383.1"/>
<circle class="g" cx="112.4" cy="395.7"/>
<circle class="t" cx="109.9" cy="334.8"/>
<circle class="g" cx="137.8" cy="406.5"/>
<circle class="t" cx="101.8" cy="383.0"/>
<circle class="t" cx="103.0" cy="356.8"/>
<circle class="g" cx="122.4" cy="377.2"/>
<circle class="g" cx="124.4" cy="367.0"/>
<circle class="t" cx="84.1" cy="324.2"/>
<circle class="t" cx="119.2" cy="399.4"/>
<circle class="t" cx="122.2" cy="349.2"/>
<circle class="p" cx="150.6" cy="369.7"/>
<circle class="t" cx="105.4" cy="348.3"/>
<circle class="g" cx="136.5" cy="395.2"/>
<circle class="t" cx="103.4" cy="369.7"/>
<circle class="g" cx="108.0" cy="392.5"/>
<circle class="p" cx="157.6" cy="351.1"/>
<circle class="t" cx="120.6" cy="318.2"/>
<circle class="t" cx="77.9" cy="391.3"/>
<circle class="t" cx="71.9" cy="364.2"/>
<circle class="t" cx="111.3" cy="360.7"/>
<circle class="g" cx="117.5" cy="407.4"/>
<circle class="t" cx="126.4" cy="356.9"/>
<circle class="t" cx="116.9" cy="364.1"/>
<circle class="t" cx="117.4" cy="376.0"/>
<circle class="t" cx="112.6" cy="337.1"/>
<circle class="t" cx="98.5" cy="362.6"/>
<circle class="t" cx="80.9" cy="357.5"/>
<circle class="p" cx="150.3" cy="363.0"/>
<circle class="t" cx="112.6" cy="397.0"/>
<circle class="t" cx="100.9" cy="376.0"/>
<circle class="t" cx="98.4" cy="327.4"/>
<circle class="g" cx="135.9" cy="385.4"/>
<circle class="p" cx="144.6" cy="372.2"/>
<circle class="p" cx="157.4" cy="382.1"/>
<circle class="p" cx="151.7" cy="375.3"/>
<circle class="t" cx="88.9" cy="409.6"/>
<circle class="g" cx="165.0" cy="374.2"/>
<circle class="t" cx="108.0" cy="348.8"/>
<circle class="g" cx="127.0" cy="388.9"/>
<circle class="t" cx="101.0" cy="366.9"/>
<circle class="g" cx="148.5" cy="378.8"/>
<circle class="g" cx="138.0" cy="397.6"/>
<circle class="p" cx="157.7" cy="362.9"/>
<circle class="p" cx="153.4" cy="389.3"/>
<circle class="g" cx="98.6" cy="386.2"/>
<circle class="g" cx="142.0" cy="387.3"/>
<circle class="g" cx="131.0" cy="401.3"/>
<circle class="g" cx="145.5" cy="380.2"/>
<circle class="t" cx="119.8" cy="322.7"/>
<circle class="t" cx="108.8" cy="368.2"/>
<circle class="t" cx="133.5" cy="409.3"/>
<circle class="t" cx="113.7" cy="361.7"/>
<circle class="p" cx="150.9" cy="355.7"/>
<circle class="p" cx="164.2" cy="377.7"/>
<circle class="t" cx="111.3" cy="354.8"/>
<circle class="t" cx="125.3" cy="314.0"/>
<circle class="g" cx="136.8" cy="381.9"/>
<circle class="t" cx="112.1" cy="391.0"/>
<circle class="t" cx="118.4" cy="355.0"/>
<circle class="t" cx="103.4" cy="341.2"/>
<circle class="t" cx="115.3" cy="338.4"/>
<circle class="g" cx="113.8" cy="410.1"/>
<circle class="g" cx="155.2" cy="402.5"/>
<circle class="t" cx="92.3" cy="367.0"/>
<circle class="t" cx="146.2" cy="334.8"/>
<circle class="g" cx="124.9" cy="382.8"/>
<circle class="t" cx="118.5" cy="354.4"/>
<circle class="t" cx="90.3" cy="384.3"/>
<circle class="g" cx="152.7" cy="376.2"/>
<circle class="t" cx="100.8" cy="405.3"/>
<circle class="t" cx="111.5" cy="334.4"/>
<circle class="t" cx="105.1" cy="353.9"/>
<circle class="t" cx="103.1" cy="380.2"/>
<circle class="t" cx="99.9" cy="343.5"/>
<circle class="t" cx="123.7" cy="325.6"/>
<circle class="t" cx="84.8" cy="339.5"/>
<circle class="t" cx="97.4" cy="337.4"/>
<circle class="g" cx="135.6" cy="370.9"/>
<circle class="t" cx="119.4" cy="369.7"/>
<circle class="t" cx="126.9" cy="374.6"/>
<circle class="t" cx="108.5" cy="381.4"/>
<circle class="t" cx="101.5" cy="343.9"/>
<circle class="t" cx="103.4" cy="319.8"/>
<circle class="t" cx="112.5" cy="341.7"/>
<circle class="t" cx="102.4" cy="353.1"/>
<circle class="t" cx="117.5" cy="328.5"/>
<circle class="p" cx="172.9" cy="360.8"/>
<circle class="t" cx="109.2" cy="384.2"/>
<circle class="g" cx="136.7" cy="330.4"/>
<circle class="p" cx="161.3" cy="360.1"/>
<circle class="t" cx="132.6" cy="362.5"/>
<circle class="g" cx="135.4" cy="377.6"/>
<circle class="t" cx="92.7" cy="351.4"/>
<circle class="t" cx="123.9" cy="355.6"/>
<circle class="g" cx="114.7" cy="331.3"/>
<circle class="t" cx="104.3" cy="384.2"/>
<circle class="t" cx="114.2" cy="341.3"/>
<circle class="t" cx="119.2" cy="348.7"/>
<circle class="t" cx="102.6" cy="324.6"/>
<circle class="t" cx="123.5" cy="351.1"/>
<circle class="p" cx="159.5" cy="358.0"/>
<circle class="t" cx="97.9" cy="366.8"/>
<circle class="t" cx="121.8" cy="358.1"/>
<circle class="t" cx="118.5" cy="309.8"/>
<circle class="p" cx="153.3" cy="366.6"/>
<circle class="p" cx="173.6" cy="376.2"/>
<circle class="g" cx="157.2" cy="381.9"/>
<circle class="g" cx="128.1" cy="382.0"/>
<circle class="t" cx="132.4" cy="341.1"/>
<circle class="t" cx="117.8" cy="359.9"/>
<circle class="t" cx="103.0" cy="328.2"/>
<circle class="t" cx="129.1" cy="372.1"/>
<circle class="t" cx="87.8" cy="345.6"/>
<circle class="t" cx="117.0" cy="361.4"/>
<circle class="t" cx="114.4" cy="386.9"/>
<circle class="t" cx="99.2" cy="343.5"/>
<circle class="p" cx="160.6" cy="380.9"/>
<circle class="p" cx="160.6" cy="363.1"/>
<circle class="t" cx="101.8" cy="347.6"/>
<circle class="t" cx="116.8" cy="368.3"/>
<circle class="t" cx="114.8" cy="336.6"/>
<circle class="g" cx="124.9" cy="395.5"/>
<circle class="g" cx="134.6" cy="376.1"/>
<circle class="t" cx="105.0" cy="337.8"/>
<circle class="t" cx="114.6" cy="324.7"/>
<circle class="t" cx="108.9" cy="332.0"/>
<circle class="t" cx="105.3" cy="349.4"/>
<circle class="t" cx="103.4" cy="383.9"/>
<circle class="t" cx="94.5" cy="355.0"/>
<circle class="p" cx="157.0" cy="364.2"/>
<circle class="t" cx="98.4" cy="367.8"/>
<circle class="g" cx="163.6" cy="383.7"/>
<circle class="t" cx="110.7" cy="310.9"/>
<circle class="t" cx="114.9" cy="333.5"/>
<circle class="t" cx="99.2" cy="354.3"/>
<circle class="p" cx="143.9" cy="377.3"/>
<circle class="g" cx="131.6" cy="399.3"/>
<circle class="t" cx="103.0" cy="335.0"/>
<circle class="t" cx="138.4" cy="361.6"/>
<circle class="t" cx="112.7" cy="353.6"/>
<circle class="t" cx="91.8" cy="312.5"/>
<circle class="t" cx="114.3" cy="328.6"/>
<circle class="g" cx="139.5" cy="410.1"/>
<circle class="p" cx="146.9" cy="336.3"/>
<circle class="t" cx="91.3" cy="367.3"/>
<circle class="g" cx="118.0" cy="350.2"/>
<circle class="t" cx="109.9" cy="380.1"/>
<circle class="g" cx="115.6" cy="370.6"/>
<circle class="t" cx="120.3" cy="338.4"/>
<circle class="t" cx="108.8" cy="397.4"/>
<circle class="g" cx="105.5" cy="402.9"/>
<circle class="t" cx="119.1" cy="334.5"/>
<circle class="t" cx="104.7" cy="330.1"/>
<circle class="p" cx="172.7" cy="389.0"/>
<circle class="t" cx="104.9" cy="382.3"/>
<circle class="t" cx="85.2" cy="362.1"/>
<circle class="g" cx="159.4" cy="386.3"/>
<circle class="t" cx="105.9" cy="409.1"/>
<circle class="g" cx="150.4" cy="401.8"/>
<circle class="t" cx="125.5" cy="391.9"/>
<circle class="t" cx="129.2" cy="330.5"/>
<circle class="t" cx="101.9" cy="328.2"/>
<circle class="g" cx="135.7" cy="388.2"/>
<circle class="t" cx="88.5" cy="378.6"/>
<circle class="t" cx="105.0" cy="348.6"/>
<circle class="t" cx="115.6" cy="365.7"/>
<circle class="t" cx="94.8" cy="363.1"/>
<circle class="g" cx="151.7" cy="394.3"/>
<circle class="t" cx="129.5" cy="338.8"/>
<circle class="g" cx="122.6" cy="341.3"/>
<circle class="t" cx="118.5" cy="337.7"/>
<circle class="t" cx="108.4" cy="307.2"/>
<circle class="p" cx="133.7" cy="385.5"/>
<circle class="p" cx="164.0" cy="353.4"/>
<circle class="p" cx="163.6" cy="375.4"/>
<circle class="t" cx="118.7" cy="352.6"/>
<circle class="p" cx="165.3" cy="343.9"/>
<circle class="t" cx="104.4" cy="333.2"/>
<circle class="g" cx="118.2" cy="374.1"/>
<circle class="t" cx="100.1" cy="334.9"/>
<circle class="g" cx="153.6" cy="377.9"/>
<circle class="p" cx="174.7" cy="378.5"/>
<circle class="g" cx="163.5" cy="389.7"/>
<circle class="p" cx="164.0" cy="369.0"/>
<circle class="t" cx="87.2" cy="339.2"/>
<circle class="t" cx="106.0" cy="345.2"/>
<circle class="t" cx="94.9" cy="366.3"/>
<circle class="t" cx="117.8" cy="336.8"/>
<circle class="g" cx="112.5" cy="413.8"/>
<circle class="g" cx="130.8" cy="378.0"/>
<circle class="t" cx="101.2" cy="385.6"/>
<circle class="g" cx="154.8" cy="388.2"/>
<circle class="t" cx="98.6" cy="385.0"/>
<circle class="t" cx="135.5" cy="364.9"/>
<circle class="t" cx="121.7" cy="323.3"/>
<circle class="g" cx="129.5" cy="367.4"/>
<circle class="t" cx="96.0" cy="366.8"/>
<circle class="p" cx="163.3" cy="368.3"/>
<circle class="p" cx="153.7" cy="377.7"/>
<circle class="g" cx="154.6" cy="399.0"/>
<circle class="p" cx="156.6" cy="364.7"/>
<circle class="t" cx="77.5" cy="377.7"/>
<circle class="g" cx="127.6" cy="384.8"/>
<circle class="t" cx="128.0" cy="357.2"/>
<circle class="p" cx="169.7" cy="392.3"/>
<circle class="g" cx="134.1" cy="377.5"/>
<circle class="g" cx="119.8" cy="387.8"/>
<circle class="t" cx="100.4" cy="307.8"/>
<circle class="t" cx="129.0" cy="313.8"/>
<circle class="t" cx="122.3" cy="351.4"/>
<circle class="t" cx="102.2" cy="326.7"/>
<circle class="t" cx="124.9" cy="333.5"/>
<circle class="t" cx="134.3" cy="316.6"/>
<circle class="t" cx="115.2" cy="312.5"/>
<circle class="t" cx="118.1" cy="334.5"/>
<circle class="t" cx="97.9" cy="381.7"/>
<circle class="p" cx="161.7" cy="374.2"/>
<circle class="t" cx="128.8" cy="343.1"/>
<circle class="t" cx="92.5" cy="341.9"/>
<circle class="p" cx="144.9" cy="355.9"/>
<circle class="t" cx="90.1" cy="310.2"/>
<circle class="g" cx="127.7" cy="395.4"/>
<circle class="t" cx="132.2" cy="365.0"/>
<circle class="g" cx="155.0" cy="401.8"/>
<circle class="t" cx="111.4" cy="384.7"/>
<circle class="t" cx="127.6" cy="344.0"/>
<circle class="t" cx="127.6" cy="346.6"/>
<circle class="p" cx="168.9" cy="369.0"/>
<circle class="t" cx="89.1" cy="377.6"/>
<circle class="p" cx="163.1" cy="398.1"/>
<circle class="g" cx="146.9" cy="377.4"/>
<circle class="t" cx="99.1" cy="342.3"/>
<circle class="g" cx="153.7" cy="375.0"/>
<circle class="t" cx="111.4" cy="344.2"/>
<circle class="g" cx="170.8" cy="390.8"/>
<circle class="t" cx="97.7" cy="374.9"/>
<circle class="t" cx="93.2" cy="389.0"/>
<circle class="t" cx="94.0" cy="343.9"/>
<circle class="t" cx="117.9" cy="351.4"/>
<circle class="g" cx="145.7" cy="383.0"/>
<circle class="t" cx="106.8" cy="305.6"/>
<circle class="g" cx="150.9" cy="393.9"/>
<circle class="t" cx="119.2" cy="329.0"/>
<circle class="t" cx="97.7" cy="367.2"/>
<circle class="p" cx="159.6" cy="387.8"/>
<circle class="t" cx="134.4" cy="357.4"/>
<circle class="t" cx="117.6" cy="361.4"/>
<circle class="t" cx="104.6" cy="364.0"/>
<circle class="t" cx="97.9" cy="383.8"/>
<circle class="g" cx="141.9" cy="403.4"/>
<circle class="g" cx="140.4" cy="374.5"/>
<circle class="g" cx="99.0" cy="342.1"/>
<circle class="t" cx="99.1" cy="373.1"/>
<circle class="g" cx="144.8" cy="353.6"/>
<circle class="t" cx="99.8" cy="392.9"/>
<circle class="t" cx="130.3" cy="314.7"/>
<circle class="t" cx="124.5" cy="378.8"/>
<circle class="t" cx="92.6" cy="337.2"/>
<circle class="t" cx="103.0" cy="349.8"/>
<circle class="t" cx="109.8" cy="349.7"/>
<circle class="t" cx="119.9" cy="357.3"/>
<circle class="g" cx="142.3" cy="387.6"/>
<circle class="p" cx="172.3" cy="382.5"/>
<circle class="p" cx="161.5" cy="370.0"/>
<circle class="p" cx="153.0" cy="366.2"/>
<circle class="t" cx="91.8" cy="312.5"/>
<circle class="t" cx="100.7" cy="375.8"/>
<circle class="t" cx="95.2" cy="347.6"/>
<circle class="t" cx="106.6" cy="359.8"/>
<circle class="t" cx="97.8" cy="367.6"/>
<circle class="g" cx="152.4" cy="389.3"/>
<circle class="t" cx="143.0" cy="346.2"/>
<circle class="p" cx="153.7" cy="388.8"/>
<circle class="t" cx="99.6" cy="371.3"/>
<circle class="t" cx="122.6" cy="364.5"/>
<circle class="g" cx="144.3" cy="404.5"/>
<circle class="p" cx="152.9" cy="362.0"/>
<circle class="t" cx="108.9" cy="341.2"/>
<circle class="g" cx="137.9" cy="384.0"/>
<circle class="g" cx="121.3" cy="389.0"/>
<circle class="t" cx="112.7" cy="302.7"/>
<circle class="t" cx="96.7" cy="359.5"/>
<circle class="t" cx="96.0" cy="354.7"/>
<circle class="g" cx="155.6" cy="392.0"/>
<circle class="t" cx="90.5" cy="346.7"/>
<circle class="p" cx="158.3" cy="371.2"/>
<circle class="g" cx="113.4" cy="399.4"/>
<circle class="t" cx="123.5" cy="358.8"/>
<circle class="t" cx="116.6" cy="308.1"/>
<circle class="t" cx="110.8" cy="337.8"/>
<circle class="p" cx="171.9" cy="394.7"/>
<circle class="t" cx="107.7" cy="367.1"/>
<circle class="t" cx="104.3" cy="348.0"/>
<circle class="t" cx="94.0" cy="332.2"/>
<circle class="g" cx="134.2" cy="382.2"/>
<circle class="p" cx="156.5" cy="384.7"/>
<circle class="g" cx="123.4" cy="366.3"/>
<circle class="g" cx="125.1" cy="389.8"/>
<circle class="t" cx="83.4" cy="360.0"/>
<circle class="t" cx="109.8" cy="349.3"/>
<circle class="g" cx="140.4" cy="373.0"/>
<circle class="t" cx="107.9" cy="357.4"/>
<circle class="t" cx="88.9" cy="338.7"/>
<circle class="t" cx="86.8" cy="320.4"/>
<circle class="t" cx="126.8" cy="323.7"/>
<circle class="g" cx="130.3" cy="380.0"/>
<circle class="t" cx="120.4" cy="346.1"/>
<circle class="t" cx="105.0" cy="335.1"/>
<circle class="t" cx="110.6" cy="345.5"/>
<circle class="g" cx="135.9" cy="398.8"/>
<circle class="g" cx="143.4" cy="389.2"/>
<circle class="g" cx="126.5" cy="376.4"/>
<circle class="t" cx="105.2" cy="321.9"/>
<circle class="t" cx="140.9" cy="323.8"/>
<circle class="g" cx="128.0" cy="393.7"/>
<circle class="g" cx="134.9" cy="368.9"/>
<circle class="g" cx="148.6" cy="391.3"/>
<circle class="t" cx="108.4" cy="383.7"/>
<circle class="t" cx="91.9" cy="341.7"/>
<circle class="t" cx="70.8" cy="355.6"/>
<circle class="t" cx="104.8" cy="389.7"/>
<circle class="g" cx="160.7" cy="365.6"/>
<circle class="t" cx="102.0" cy="351.6"/>
<circle class="t" cx="87.0" cy="326.7"/>
<circle class="p" cx="159.5" cy="386.0"/>
<circle class="t" cx="109.1" cy="359.0"/>
<circle class="g" cx="169.0" cy="392.1"/>
<circle class="t" cx="97.9" cy="385.8"/>
<circle class="p" cx="152.3" cy="375.4"/>
<circle class="t" cx="99.5" cy="346.3"/>
<circle class="t" cx="126.3" cy="346.4"/>
<circle class="t" cx="91.0" cy="350.3"/>
<circle class="p" cx="163.7" cy="384.7"/>
<circle class="t" cx="110.9" cy="322.0"/>
<circle class="t" cx="127.3" cy="334.9"/>
<circle class="t" cx="94.0" cy="355.6"/>
<circle class="g" cx="135.9" cy="394.4"/>
<circle class="t" cx="90.0" cy="343.2"/>
<circle class="t" cx="113.5" cy="387.3"/>
<circle class="g" cx="100.2" cy="385.6"/>
<circle class="g" cx="138.3" cy="406.4"/>
<circle class="p" cx="161.5" cy="380.6"/>
<circle class="t" cx="80.9" cy="320.7"/>
<circle class="t" cx="97.1" cy="350.0"/>
<circle class="t" cx="120.4" cy="328.9"/>
<circle class="t" cx="90.6" cy="336.7"/>
<circle class="t" cx="110.9" cy="376.8"/>
<circle class="t" cx="133.1" cy="364.0"/>
<circle class="p" cx="158.2" cy="377.2"/>
<circle class="p" cx="154.7" cy="398.2"/>
<circle class="p" cx="152.7" cy="391.8"/>
<circle class="g" cx="128.6" cy="401.6"/>
<circle class="t" cx="97.5" cy="316.0"/>
<circle class="t" cx="112.6" cy="303.1"/>
<circle class="t" cx="123.0" cy="322.2"/>
<circle class="t" cx="112.1" cy="368.8"/>
<circle class="p" cx="177.9" cy="389.2"/>
<circle class="g" cx="147.8" cy="396.1"/>
<circle class="t" cx="108.9" cy="350.7"/>
<circle class="g" cx="146.4" cy="386.4"/>
<circle class="t" cx="84.1" cy="334.9"/>
<circle class="t" cx="109.9" cy="347.1"/>
<circle class="t" cx="112.5" cy="333.5"/>
<circle class="t" cx="115.0" cy="360.8"/>
<circle class="t" cx="88.4" cy="391.0"/>
<circle class="t" cx="125.2" cy="327.6"/>
<circle class="t" cx="109.0" cy="351.0"/>
<circle class="t" cx="131.3" cy="341.3"/>
<circle class="g" cx="122.9" cy="390.6"/>
<circle class="t" cx="139.0" cy="366.6"/>
<circle class="g" cx="129.4" cy="386.8"/>
<circle class="t" cx="128.0" cy="340.0"/>
<circle class="t" cx="124.8" cy="338.7"/>
<circle class="t" cx="101.9" cy="311.9"/>
<circle class="p" cx="172.6" cy="366.2"/>
<circle class="t" cx="91.5" cy="352.1"/>
<circle class="g" cx="117.7" cy="384.3"/>
<circle class="t" cx="117.9" cy="348.0"/>
<circle class="p" cx="159.5" cy="368.0"/>
<circle class="p" cx="175.6" cy="380.5"/>
<circle class="t" cx="114.6" cy="375.7"/>
<circle class="g" cx="144.0" cy="378.7"/>
<circle class="g" cx="119.2" cy="363.6"/>
<circle class="t" cx="94.8" cy="335.5"/>
<circle class="t" cx="97.4" cy="361.0"/>
<circle class="g" cx="129.3" cy="404.7"/>
<circle class="t" cx="100.5" cy="388.2"/>
<circle class="g" cx="133.4" cy="364.4"/>
<circle class="t" cx="121.8" cy="348.1"/>
<circle class="g" cx="123.4" cy="388.7"/>
<circle class="t" cx="105.4" cy="323.6"/>
<circle class="t" cx="114.3" cy="377.0"/>
<circle class="g" cx="118.7" cy="396.5"/>
<circle class="p" cx="160.0" cy="386.1"/>
<circle class="t" cx="107.1" cy="357.2"/>
<circle class="t" cx="112.4" cy="382.1"/>
<circle class="g" cx="127.1" cy="365.7"/>
<circle class="g" cx="143.8" cy="396.5"/>
<circle class="t" cx="105.0" cy="369.5"/>
<circle class="g" cx="149.5" cy="392.0"/>
<circle class="g" cx="127.3" cy="398.2"/>
<circle class="t" cx="103.9" cy="367.7"/>
<circle class="g" cx="108.0" cy="406.2"/>
<circle class="t" cx="75.5" cy="351.2"/>
<circle class="t" cx="103.3" cy="343.3"/>
<circle class="g" cx="159.4" cy="340.8"/>
<circle class="p" cx="145.9" cy="389.9"/>
<circle class="g" cx="138.8" cy="372.3"/>
<circle class="g" cx="112.5" cy="362.4"/>
<circle class="t" cx="105.3" cy="362.4"/>
<circle class="g" cx="96.9" cy="405.9"/>
<circle class="g" cx="126.7" cy="392.1"/>
<circle class="g" cx="144.1" cy="385.1"/>
<circle class="g" cx="144.5" cy="401.7"/>
<circle class="t" cx="127.3" cy="315.6"/>
<circle class="t" cx="112.4" cy="372.7"/>
<circle class="g" cx="154.9" cy="390.1"/>
<circle class="g" cx="106.0" cy="370.8"/>
<circle class="t" cx="107.3" cy="351.0"/>
<circle class="t" cx="108.3" cy="387.2"/>
<circle class="t" cx="109.9" cy="325.9"/>
<circle class="g" cx="106.1" cy="371.8"/>
<circle class="g" cx="139.4" cy="372.9"/>
<circle class="p" cx="153.8" cy="382.6"/>
<circle class="g" cx="143.9" cy="362.7"/>
<circle class="t" cx="105.8" cy="325.2"/>
<circle class="g" cx="123.3" cy="387.6"/>
<circle class="t" cx="98.9" cy="320.9"/>
<circle class="t" cx="120.6" cy="355.5"/>
<circle class="g" cx="119.6" cy="381.2"/>
<circle class="p" cx="160.7" cy="381.3"/>
<circle class="p" cx="147.0" cy="354.9"/>
<circle class="t" cx="91.9" cy="342.2"/>
<circle class="t" cx="101.1" cy="367.1"/>
<circle class="t" cx="102.3" cy="333.1"/>
<circle class="t" cx="109.6" cy="384.2"/>
<circle class="t" cx="137.5" cy="320.9"/>
<circle class="t" cx="86.7" cy="342.8"/>
<circle class="g" cx="115.5" cy="402.4"/>
<circle class="g" cx="177.2" cy="378.4"/>
<circle class="p" cx="171.7" cy="376.7"/>
<circle class="g" cx="113.2" cy="338.2"/>
<circle class="t" cx="112.1" cy="383.9"/>
<circle class="t" cx="118.9" cy="353.3"/>
<circle class="t" cx="103.2" cy="350.3"/>
<circle class="t" cx="113.8" cy="339.6"/>
<circle class="p" cx="168.8" cy="397.3"/>
<circle class="t" cx="111.7" cy="325.0"/>
<circle class="g" cx="75.9" cy="400.5"/>
<circle class="t" cx="111.9" cy="332.1"/>
<circle class="t" cx="125.6" cy="346.3"/>
<circle class="t" cx="96.2" cy="345.1"/>
<circle class="g" cx="137.8" cy="391.7"/>
<circle class="g" cx="180.0" cy="385.7"/>
<circle class="t" cx="84.6" cy="342.1"/>
<circle class="p" cx="138.2" cy="374.5"/>
<circle class="g" cx="149.5" cy="388.0"/>
<circle class="t" cx="99.3" cy="352.4"/>
<circle class="g" cx="84.7" cy="337.8"/>
<circle class="g" cx="144.8" cy="380.7"/>
<circle class="t" cx="96.5" cy="360.2"/>
<circle class="g" cx="152.3" cy="365.4"/>
<circle class="p" cx="145.1" cy="381.0"/>
<circle class="g" cx="132.1" cy="376.2"/>
<circle class="t" cx="109.1" cy="354.5"/>
<circle class="p" cx="175.5" cy="364.5"/>
<circle class="t" cx="120.1" cy="329.1"/>
<circle class="g" cx="131.4" cy="394.0"/>
<circle class="g" cx="124.2" cy="363.0"/>
<circle class="t" cx="110.1" cy="380.5"/>
<circle class="g" cx="105.5" cy="400.6"/>
<circle class="t" cx="101.0" cy="396.6"/>
<circle class="p" cx="148.7" cy="367.7"/>
<circle class="p" cx="163.3" cy="394.2"/>
<circle class="t" cx="79.9" cy="359.8"/>
<circle class="t" cx="126.2" cy="324.2"/>
<circle class="t" cx="92.2" cy="363.8"/>
<circle class="g" cx="136.6" cy="368.8"/>
<circle class="t" cx="90.6" cy="384.0"/>
<circle class="t" cx="121.3" cy="350.3"/>
<circle class="t" cx="89.5" cy="362.0"/>
<circle class="g" cx="139.3" cy="386.0"/>
<circle class="g" cx="127.3" cy="391.6"/>
<circle class="g" cx="157.9" cy="380.8"/>
<circle class="g" cx="103.1" cy="395.4"/>
<circle class="p" cx="157.7" cy="367.2"/>
<circle class="p" cx="159.9" cy="394.4"/>
<circle class="g" cx="126.3" cy="373.4"/>
<circle class="g" cx="129.1" cy="400.3"/>
</g>
<line x1="88.40" y1="301.40" x2="88.40" y2="416.60" stroke="#333" stroke-width="0.95" stroke-dasharray="3.3,2.5"/>
<line x1="67.50" y1="398.60" x2="182.60" y2="398.60" stroke="#333" stroke-width="0.95" stroke-dasharray="3.3,2.5"/>
<line x1="67.50" y1="301.40" x2="67.50" y2="417.20" stroke="#111" stroke-width="1.30" />
<line x1="66.90" y1="416.60" x2="183.60" y2="416.60" stroke="#111" stroke-width="1.30" />
<line x1="63.10" y1="332.80" x2="67.50" y2="332.80" stroke="#111" stroke-width="1.20" />
<text x="58.20" y="336.40" font-size="10.00" text-anchor="end" font-weight="normal" fill="#222">0.50</text>
<line x1="63.10" y1="365.70" x2="67.50" y2="365.70" stroke="#111" stroke-width="1.20" />
<text x="58.20" y="369.30" font-size="10.00" text-anchor="end" font-weight="normal" fill="#222">0.25</text>
<line x1="63.10" y1="398.60" x2="67.50" y2="398.60" stroke="#111" stroke-width="1.20" />
<text x="58.20" y="402.20" font-size="10.00" text-anchor="end" font-weight="normal" fill="#222">0.00</text>
<line x1="88.40" y1="416.60" x2="88.40" y2="421.20" stroke="#111" stroke-width="1.20" />
<text x="88.40" y="433.90" font-size="10.00" text-anchor="middle" font-weight="normal" fill="#222">0.0</text>
<line x1="120.90" y1="416.60" x2="120.90" y2="421.20" stroke="#111" stroke-width="1.20" />
<text x="120.90" y="433.90" font-size="10.00" text-anchor="middle" font-weight="normal" fill="#222">0.2</text>
<line x1="153.40" y1="416.60" x2="153.40" y2="421.20" stroke="#111" stroke-width="1.20" />
<text x="153.40" y="433.90" font-size="10.00" text-anchor="middle" font-weight="normal" fill="#222">0.4</text>
<text x="125.30" y="294.00" font-size="13.00" text-anchor="middle" font-weight="normal" >CTLA4</text>
<text x="151.50" y="316.80" font-size="10.20" text-anchor="start" font-weight="normal" >−0.316</text>
<text transform="translate(31.2,358.70) rotate(-90) scale(0.765,1)" font-size="12.5" text-anchor="middle" stroke="#111" stroke-width="0.4">F0 B score</text>
<text x="125.70" y="452.30" font-size="11.00" text-anchor="start" font-weight="normal" ></text>
<text transform="translate(125.7,452.4) scale(0.70,1)" font-size="12.5" text-anchor="middle" stroke="#111" stroke-width="0.3">TrB coexpression score</text>
<text x="67.50" y="472.30" font-size="9.60" text-anchor="start" font-weight="normal" >Cell Type</text>
<circle cx="71.1" cy="484.90" r="3.2" fill="#dfba90"/>
<text x="78.80" y="487.80" font-size="10.00" text-anchor="start" font-weight="normal" >CCR7+ FO B</text>
<circle cx="71.1" cy="500.20" r="3.2" fill="#4a6222" stroke="#33461a" stroke-width="0.5"/>
<text x="78.80" y="503.10" font-size="10.00" text-anchor="start" font-weight="normal" >CD38+ TrB</text>
<circle cx="140.6" cy="500.50" r="3.2" fill="#8b8cce"/>
<text x="148.40" y="503.10" font-size="10.00" text-anchor="start" font-weight="normal" >ITGAX+ aN</text>
<path d="M224.5,16.2 V24.4 Q224.5,26.9 222,26.9 H219.9" fill="none" stroke="#111" stroke-width="3.3"/>
<text x="391.50" y="22.80" font-size="14.50" text-anchor="middle" font-weight="normal" >Control</text>
<text x="391.90" y="239.30" font-size="14.00" text-anchor="middle" font-weight="normal" >CTLA4-deficient</text>
<path d="M295.05,79.00 C295.05,82.45 295.02,95.48 295.05,99.70 C295.08,103.92 294.96,102.50 295.20,104.30 C295.44,106.10 295.94,108.43 296.50,110.50 C297.06,112.57 297.85,114.63 298.55,116.70 C299.25,118.77 299.96,120.83 300.70,122.90 C301.44,124.97 302.28,127.03 303.00,129.10 C303.72,131.17 304.48,133.23 305.00,135.30 C305.52,137.37 306.03,139.68 306.10,141.50 C306.17,143.32 305.85,144.65 305.40,146.20 C304.95,147.75 304.18,149.00 303.40,150.80 C302.62,152.60 301.62,154.93 300.70,157.00 C299.78,159.07 298.67,161.38 297.90,163.20 C297.13,165.02 296.58,166.35 296.10,167.90 C295.62,169.45 295.23,169.78 295.05,172.50 C294.88,175.22 295.05,182.25 295.05,184.20 L294.15,184.20 C294.15,182.25 294.33,175.22 294.15,172.50 C293.98,169.78 293.58,169.45 293.10,167.90 C292.62,166.35 292.07,165.02 291.30,163.20 C290.53,161.38 289.42,159.07 288.50,157.00 C287.58,154.93 286.58,152.60 285.80,150.80 C285.02,149.00 284.25,147.75 283.80,146.20 C283.35,144.65 283.03,143.32 283.10,141.50 C283.17,139.68 283.68,137.37 284.20,135.30 C284.72,133.23 285.48,131.17 286.20,129.10 C286.92,127.03 287.76,124.97 288.50,122.90 C289.24,120.83 289.95,118.77 290.65,116.70 C291.35,114.63 292.14,112.57 292.70,110.50 C293.26,108.43 293.76,106.10 294.00,104.30 C294.24,102.50 294.12,103.92 294.15,99.70 C294.18,95.48 294.15,82.45 294.15,79.00 Z" fill="#e2be94" stroke="#111" stroke-width="1.4" stroke-linejoin="round"/>
<path d="M322.05,84.40 C322.05,86.95 321.98,96.12 322.05,99.70 C322.12,103.28 322.13,104.10 322.45,105.90 C322.78,107.70 323.41,108.95 324.00,110.50 C324.59,112.05 325.27,113.65 326.00,115.20 C326.73,116.75 327.57,118.00 328.40,119.80 C329.23,121.60 330.32,123.93 331.00,126.00 C331.68,128.07 332.15,130.13 332.50,132.20 C332.85,134.27 333.10,136.33 333.10,138.40 C333.10,140.47 332.92,142.53 332.50,144.60 C332.08,146.67 331.37,148.73 330.60,150.80 C329.83,152.87 328.90,154.93 327.90,157.00 C326.90,159.07 325.47,161.38 324.60,163.20 C323.73,165.02 323.13,166.35 322.70,167.90 C322.28,169.45 322.16,170.88 322.05,172.50 C321.94,174.12 322.05,176.75 322.05,177.60 L321.15,177.60 C321.15,176.75 321.26,174.12 321.15,172.50 C321.04,170.88 320.93,169.45 320.50,167.90 C320.07,166.35 319.47,165.02 318.60,163.20 C317.73,161.38 316.30,159.07 315.30,157.00 C314.30,154.93 313.37,152.87 312.60,150.80 C311.83,148.73 311.12,146.67 310.70,144.60 C310.28,142.53 310.10,140.47 310.10,138.40 C310.10,136.33 310.35,134.27 310.70,132.20 C311.05,130.13 311.52,128.07 312.20,126.00 C312.88,123.93 313.97,121.60 314.80,119.80 C315.63,118.00 316.47,116.75 317.20,115.20 C317.93,113.65 318.61,112.05 319.20,110.50 C319.79,108.95 320.43,107.70 320.75,105.90 C321.07,104.10 321.08,103.28 321.15,99.70 C321.22,96.12 321.15,86.95 321.15,84.40 Z" fill="#5b7229" stroke="#111" stroke-width="1.4" stroke-linejoin="round"/>
<path d="M349.55,89.40 C349.54,91.12 349.39,96.95 349.50,99.70 C349.61,102.45 349.83,104.10 350.20,105.90 C350.57,107.70 351.05,108.95 351.70,110.50 C352.35,112.05 353.28,113.65 354.10,115.20 C354.92,116.75 355.85,118.00 356.60,119.80 C357.35,121.60 358.08,123.93 358.60,126.00 C359.12,128.07 359.47,130.13 359.70,132.20 C359.93,134.27 359.95,136.33 359.95,138.40 C359.95,140.47 359.99,142.53 359.70,144.60 C359.41,146.67 358.97,148.73 358.20,150.80 C357.43,152.87 356.13,155.18 355.10,157.00 C354.07,158.82 352.87,160.15 352.00,161.70 C351.13,163.25 350.42,164.77 349.90,166.30 C349.38,167.83 349.07,170.02 348.90,170.90 C348.72,171.78 348.86,171.48 348.85,171.60 L347.95,171.60 C347.94,171.48 348.07,171.78 347.90,170.90 C347.72,170.02 347.42,167.83 346.90,166.30 C346.38,164.77 345.67,163.25 344.80,161.70 C343.93,160.15 342.73,158.82 341.70,157.00 C340.67,155.18 339.37,152.87 338.60,150.80 C337.83,148.73 337.39,146.67 337.10,144.60 C336.81,142.53 336.85,140.47 336.85,138.40 C336.85,136.33 336.87,134.27 337.10,132.20 C337.32,130.13 337.68,128.07 338.20,126.00 C338.72,123.93 339.45,121.60 340.20,119.80 C340.95,118.00 341.88,116.75 342.70,115.20 C343.52,113.65 344.45,112.05 345.10,110.50 C345.75,108.95 346.23,107.70 346.60,105.90 C346.97,104.10 347.19,102.45 347.30,99.70 C347.41,96.95 347.26,91.12 347.25,89.40 Z" fill="#8886c4" stroke="#111" stroke-width="1.4" stroke-linejoin="round"/>
<line x1="278.50" y1="74.00" x2="278.50" y2="189.60" stroke="#111" stroke-width="1.30" />
<line x1="277.90" y1="189.00" x2="366.00" y2="189.00" stroke="#111" stroke-width="1.30" />
<line x1="274.50" y1="100.70" x2="278.50" y2="100.70" stroke="#111" stroke-width="1.20" />
<text x="269.50" y="103.70" font-size="9.80" text-anchor="end" font-weight="normal" fill="#222">0.1</text>
<line x1="274.50" y1="131.20" x2="278.50" y2="131.20" stroke="#111" stroke-width="1.20" />
<text x="269.50" y="134.20" font-size="9.80" text-anchor="end" font-weight="normal" fill="#222">0.0</text>
<line x1="274.50" y1="162.70" x2="278.50" y2="162.70" stroke="#111" stroke-width="1.20" />
<text x="269.50" y="165.70" font-size="9.80" text-anchor="end" font-weight="normal" fill="#222">−0.1</text>
<line x1="294.60" y1="189.00" x2="294.60" y2="193.00" stroke="#111" stroke-width="1.20" />
<circle cx="294.60" cy="201.10" r="2.6" fill="#d9bd9c"/>
<line x1="321.60" y1="189.00" x2="321.60" y2="193.00" stroke="#111" stroke-width="1.20" />
<circle cx="321.60" cy="201.10" r="2.6" fill="#4b5e23"/>
<line x1="348.40" y1="189.00" x2="348.40" y2="193.00" stroke="#111" stroke-width="1.20" />
<circle cx="348.40" cy="201.10" r="2.6" fill="#8c90c9"/>
<text x="322.00" y="46.60" font-size="12.40" text-anchor="middle" font-weight="normal" >OxPhos</text>
<path d="M295.10,64.90 L295.10,62.30 L351.10,62.30 L351.10,64.90" fill="none" stroke="#111" stroke-width="1.25"/>
<text x="323.10" y="62.10" font-size="8.60" text-anchor="middle" font-weight="normal" >***</text>
<path d="M295.10,76.10 L295.10,73.50 L322.30,73.50 L322.30,76.10" fill="none" stroke="#111" stroke-width="1.25"/>
<text x="308.70" y="73.30" font-size="8.60" text-anchor="middle" font-weight="normal" >**</text>
<text transform="translate(242.30,132.00) rotate(-90) scale(0.72,1)" font-size="12.5" text-anchor="middle" stroke="#111" stroke-width="0.4">Module score</text>
<path d="M439.15,104.70 C439.15,106.50 438.96,112.40 439.15,115.50 C439.34,118.60 439.84,121.23 440.30,123.30 C440.76,125.37 441.25,126.35 441.90,127.90 C442.55,129.45 443.38,130.78 444.20,132.60 C445.02,134.42 445.95,136.73 446.80,138.80 C447.65,140.87 448.73,143.20 449.30,145.00 C449.87,146.80 450.17,148.05 450.20,149.60 C450.23,151.15 450.12,152.48 449.50,154.30 C448.88,156.12 447.57,158.43 446.50,160.50 C445.43,162.57 444.08,164.90 443.10,166.70 C442.12,168.50 441.22,170.02 440.60,171.30 C439.98,172.58 439.64,173.28 439.40,174.40 C439.16,175.52 439.19,176.30 439.15,178.00 C439.11,179.70 439.15,183.50 439.15,184.60 L438.25,184.60 C438.25,183.50 438.29,179.70 438.25,178.00 C438.21,176.30 438.24,175.52 438.00,174.40 C437.76,173.28 437.42,172.58 436.80,171.30 C436.18,170.02 435.28,168.50 434.30,166.70 C433.32,164.90 431.97,162.57 430.90,160.50 C429.83,158.43 428.52,156.12 427.90,154.30 C427.28,152.48 427.17,151.15 427.20,149.60 C427.23,148.05 427.53,146.80 428.10,145.00 C428.67,143.20 429.75,140.87 430.60,138.80 C431.45,136.73 432.38,134.42 433.20,132.60 C434.02,130.78 434.85,129.45 435.50,127.90 C436.15,126.35 436.64,125.37 437.10,123.30 C437.56,121.23 438.06,118.60 438.25,115.50 C438.44,112.40 438.25,106.50 438.25,104.70 Z" fill="#e2be94" stroke="#111" stroke-width="1.4" stroke-linejoin="round"/>
<path d="M466.15,110.10 C466.22,110.75 466.31,112.58 466.55,114.00 C466.79,115.42 467.16,116.80 467.60,118.60 C468.04,120.40 468.60,122.73 469.20,124.80 C469.80,126.87 470.48,128.93 471.20,131.00 C471.92,133.07 472.77,135.13 473.50,137.20 C474.23,139.27 474.98,141.33 475.60,143.40 C476.22,145.47 477.00,147.78 477.20,149.60 C477.40,151.42 477.32,152.48 476.80,154.30 C476.28,156.12 475.22,158.43 474.10,160.50 C472.98,162.57 471.23,164.90 470.10,166.70 C468.97,168.50 467.96,169.63 467.30,171.30 C466.64,172.97 466.34,175.80 466.15,176.70 L465.25,176.70 C465.06,175.80 464.76,172.97 464.10,171.30 C463.44,169.63 462.43,168.50 461.30,166.70 C460.17,164.90 458.42,162.57 457.30,160.50 C456.18,158.43 455.12,156.12 454.60,154.30 C454.08,152.48 454.00,151.42 454.20,149.60 C454.40,147.78 455.18,145.47 455.80,143.40 C456.42,141.33 457.17,139.27 457.90,137.20 C458.63,135.13 459.48,133.07 460.20,131.00 C460.92,128.93 461.60,126.87 462.20,124.80 C462.80,122.73 463.36,120.40 463.80,118.60 C464.24,116.80 464.61,115.42 464.85,114.00 C465.09,112.58 465.18,110.75 465.25,110.10 Z" fill="#5b7229" stroke="#111" stroke-width="1.4" stroke-linejoin="round"/>
<path d="M493.05,79.50 C493.06,82.47 493.03,92.22 493.10,97.30 C493.18,102.38 493.35,106.75 493.50,110.00 C493.65,113.25 493.68,114.47 494.00,116.80 C494.32,119.13 494.90,122.07 495.40,124.00 C495.90,125.93 496.53,126.93 497.00,128.40 C497.47,129.87 497.82,131.33 498.20,132.80 C498.58,134.27 498.82,135.75 499.30,137.20 C499.78,138.65 500.48,140.05 501.10,141.50 C501.72,142.95 502.47,144.45 503.00,145.90 C503.53,147.35 504.27,148.75 504.30,150.20 C504.33,151.65 503.87,153.13 503.20,154.60 C502.53,156.07 501.27,157.67 500.30,159.00 C499.33,160.33 498.20,161.60 497.40,162.60 C496.60,163.60 495.82,164.60 495.50,165.00 L489.70,165.00 C489.38,164.60 488.60,163.60 487.80,162.60 C487.00,161.60 485.87,160.33 484.90,159.00 C483.93,157.67 482.67,156.07 482.00,154.60 C481.33,153.13 480.87,151.65 480.90,150.20 C480.93,148.75 481.67,147.35 482.20,145.90 C482.73,144.45 483.48,142.95 484.10,141.50 C484.72,140.05 485.42,138.65 485.90,137.20 C486.38,135.75 486.62,134.27 487.00,132.80 C487.38,131.33 487.73,129.87 488.20,128.40 C488.67,126.93 489.30,125.93 489.80,124.00 C490.30,122.07 490.88,119.13 491.20,116.80 C491.52,114.47 491.55,113.25 491.70,110.00 C491.85,106.75 492.03,102.38 492.10,97.30 C492.18,92.22 492.14,82.47 492.15,79.50 Z" fill="#8886c4" stroke="#111" stroke-width="1.4" stroke-linejoin="round"/>
<line x1="422.30" y1="74.00" x2="422.30" y2="189.40" stroke="#111" stroke-width="1.30" />
<line x1="421.70" y1="188.80" x2="509.60" y2="188.80" stroke="#111" stroke-width="1.30" />
<line x1="418.30" y1="99.70" x2="422.30" y2="99.70" stroke="#111" stroke-width="1.20" />
<text x="413.30" y="102.70" font-size="9.80" text-anchor="end" font-weight="normal" fill="#222">0.2</text>
<line x1="418.30" y1="127.90" x2="422.30" y2="127.90" stroke="#111" stroke-width="1.20" />
<text x="413.30" y="130.90" font-size="9.80" text-anchor="end" font-weight="normal" fill="#222">0.1</text>
<line x1="418.30" y1="156.40" x2="422.30" y2="156.40" stroke="#111" stroke-width="1.20" />
<text x="413.30" y="159.40" font-size="9.80" text-anchor="end" font-weight="normal" fill="#222">0.0</text>
<line x1="418.30" y1="184.60" x2="422.30" y2="184.60" stroke="#111" stroke-width="1.20" />
<text x="413.30" y="187.60" font-size="9.80" text-anchor="end" font-weight="normal" fill="#222">−0.1</text>
<line x1="438.70" y1="188.80" x2="438.70" y2="192.80" stroke="#111" stroke-width="1.20" />
<circle cx="438.70" cy="201.10" r="2.6" fill="#d9bd9c"/>
<line x1="465.70" y1="188.80" x2="465.70" y2="192.80" stroke="#111" stroke-width="1.20" />
<circle cx="465.70" cy="201.10" r="2.6" fill="#4b5e23"/>
<line x1="492.60" y1="188.80" x2="492.60" y2="192.80" stroke="#111" stroke-width="1.20" />
<circle cx="492.60" cy="201.10" r="2.6" fill="#8c90c9"/>
<text x="465.00" y="47.00" font-size="12.40" text-anchor="middle" font-weight="normal" >mTORC1</text>
<path d="M437.50,63.90 L437.50,61.30 L493.75,61.30 L493.75,63.90" fill="none" stroke="#111" stroke-width="1.25"/>
<text x="465.62" y="61.10" font-size="8.60" text-anchor="middle" font-weight="normal" >***</text>
<path d="M437.50,75.60 L437.50,73.00 L465.50,73.00 L465.50,75.60" fill="none" stroke="#111" stroke-width="1.25"/>
<text x="451.50" y="72.80" font-size="8.60" text-anchor="middle" font-weight="normal" >**</text>
<path d="M466.00,75.60 L466.00,73.00 L493.75,73.00 L493.75,75.60" fill="none" stroke="#111" stroke-width="1.25"/>
<text x="479.88" y="72.80" font-size="8.60" text-anchor="middle" font-weight="normal" >***</text>
<text transform="translate(386.80,131.90) rotate(-90) scale(0.72,1)" font-size="12.5" text-anchor="middle" stroke="#111" stroke-width="0.4">Module score</text>
<path d="M295.05,327.20 C295.06,330.25 294.99,341.67 295.10,345.50 C295.21,349.33 295.35,348.65 295.70,350.20 C296.05,351.75 296.60,353.25 297.20,354.80 C297.80,356.35 298.60,357.95 299.30,359.50 C300.00,361.05 300.68,362.55 301.40,364.10 C302.12,365.65 302.98,367.25 303.60,368.80 C304.22,370.35 304.68,371.85 305.10,373.40 C305.52,374.95 306.20,376.55 306.10,378.10 C306.00,379.65 305.20,381.15 304.50,382.70 C303.80,384.25 302.85,385.85 301.90,387.40 C300.95,388.95 299.72,390.45 298.80,392.00 C297.88,393.55 297.00,395.15 296.40,396.70 C295.80,398.25 295.43,399.33 295.20,401.30 C294.98,403.27 295.08,407.30 295.05,408.50 L294.15,408.50 C294.12,407.30 294.23,403.27 294.00,401.30 C293.77,399.33 293.40,398.25 292.80,396.70 C292.20,395.15 291.32,393.55 290.40,392.00 C289.48,390.45 288.25,388.95 287.30,387.40 C286.35,385.85 285.40,384.25 284.70,382.70 C284.00,381.15 283.20,379.65 283.10,378.10 C283.00,376.55 283.68,374.95 284.10,373.40 C284.52,371.85 284.98,370.35 285.60,368.80 C286.22,367.25 287.08,365.65 287.80,364.10 C288.52,362.55 289.20,361.05 289.90,359.50 C290.60,357.95 291.40,356.35 292.00,354.80 C292.60,353.25 293.15,351.75 293.50,350.20 C293.85,348.65 293.99,349.33 294.10,345.50 C294.21,341.67 294.14,330.25 294.15,327.20 Z" fill="#e2be94" stroke="#111" stroke-width="1.4" stroke-linejoin="round"/>
<path d="M322.05,306.70 C322.08,312.23 322.09,333.27 322.20,339.90 C322.31,346.53 322.40,344.58 322.70,346.50 C323.00,348.42 323.38,349.75 324.00,351.40 C324.62,353.05 325.55,354.75 326.40,356.40 C327.25,358.05 328.27,359.67 329.10,361.30 C329.93,362.93 330.80,364.55 331.40,366.20 C332.00,367.85 332.47,369.27 332.70,371.20 C332.93,373.13 332.98,375.88 332.80,377.80 C332.62,379.72 332.25,381.05 331.60,382.70 C330.95,384.35 329.82,386.05 328.90,387.70 C327.98,389.35 327.02,390.97 326.10,392.60 C325.18,394.23 324.05,396.13 323.40,397.50 C322.75,398.87 322.43,398.48 322.20,400.80 C321.98,403.12 322.08,409.63 322.05,411.40 L321.15,411.40 C321.12,409.63 321.23,403.12 321.00,400.80 C320.77,398.48 320.45,398.87 319.80,397.50 C319.15,396.13 318.02,394.23 317.10,392.60 C316.18,390.97 315.22,389.35 314.30,387.70 C313.38,386.05 312.25,384.35 311.60,382.70 C310.95,381.05 310.58,379.72 310.40,377.80 C310.22,375.88 310.27,373.13 310.50,371.20 C310.73,369.27 311.20,367.85 311.80,366.20 C312.40,364.55 313.27,362.93 314.10,361.30 C314.93,359.67 315.95,358.05 316.80,356.40 C317.65,354.75 318.58,353.05 319.20,351.40 C319.82,349.75 320.20,348.42 320.50,346.50 C320.80,344.58 320.89,346.53 321.00,339.90 C321.11,333.27 321.12,312.23 321.15,306.70 Z" fill="#5b7229" stroke="#111" stroke-width="1.4" stroke-linejoin="round"/>
<path d="M348.85,333.50 C348.86,335.08 348.81,340.92 348.90,343.00 C348.99,345.08 349.12,345.00 349.40,346.00 C349.68,347.00 350.17,347.98 350.60,349.00 C351.03,350.02 351.32,350.55 352.00,352.10 C352.68,353.65 353.87,356.35 354.70,358.30 C355.53,360.25 356.28,362.27 357.00,363.80 C357.72,365.33 358.55,366.23 359.00,367.50 C359.45,368.77 359.67,370.15 359.70,371.40 C359.73,372.65 359.65,373.50 359.20,375.00 C358.75,376.50 358.10,378.02 357.00,380.40 C355.90,382.78 353.82,386.70 352.60,389.30 C351.38,391.90 350.30,394.38 349.70,396.00 C349.10,397.62 349.14,397.70 349.00,399.00 C348.86,400.30 348.88,403.00 348.85,403.80 L347.95,403.80 C347.92,403.00 347.94,400.30 347.80,399.00 C347.66,397.70 347.70,397.62 347.10,396.00 C346.50,394.38 345.42,391.90 344.20,389.30 C342.98,386.70 340.90,382.78 339.80,380.40 C338.70,378.02 338.05,376.50 337.60,375.00 C337.15,373.50 337.07,372.65 337.10,371.40 C337.13,370.15 337.35,368.77 337.80,367.50 C338.25,366.23 339.08,365.33 339.80,363.80 C340.52,362.27 341.27,360.25 342.10,358.30 C342.93,356.35 344.12,353.65 344.80,352.10 C345.48,350.55 345.77,350.02 346.20,349.00 C346.63,347.98 347.12,347.00 347.40,346.00 C347.68,345.00 347.81,345.08 347.90,343.00 C347.99,340.92 347.94,335.08 347.95,333.50 Z" fill="#8886c4" stroke="#111" stroke-width="1.4" stroke-linejoin="round"/>
<line x1="278.50" y1="301.40" x2="278.50" y2="416.90" stroke="#111" stroke-width="1.30" />
<line x1="277.90" y1="416.30" x2="365.00" y2="416.30" stroke="#111" stroke-width="1.30" />
<line x1="274.50" y1="319.00" x2="278.50" y2="319.00" stroke="#111" stroke-width="1.20" />
<text x="269.50" y="322.00" font-size="9.80" text-anchor="end" font-weight="normal" fill="#222">0.2</text>
<line x1="274.50" y1="343.70" x2="278.50" y2="343.70" stroke="#111" stroke-width="1.20" />
<text x="269.50" y="346.70" font-size="9.80" text-anchor="end" font-weight="normal" fill="#222">0.1</text>
<line x1="274.50" y1="368.60" x2="278.50" y2="368.60" stroke="#111" stroke-width="1.20" />
<text x="269.50" y="371.60" font-size="9.80" text-anchor="end" font-weight="normal" fill="#222">0.0</text>
<line x1="274.50" y1="393.30" x2="278.50" y2="393.30" stroke="#111" stroke-width="1.20" />
<text x="269.50" y="396.30" font-size="9.80" text-anchor="end" font-weight="normal" fill="#222">−0.1</text>
<line x1="294.60" y1="416.30" x2="294.60" y2="420.30" stroke="#111" stroke-width="1.20" />
<circle cx="294.60" cy="428.40" r="2.6" fill="#d9bd9c"/>
<line x1="321.60" y1="416.30" x2="321.60" y2="420.30" stroke="#111" stroke-width="1.20" />
<circle cx="321.60" cy="428.40" r="2.6" fill="#4b5e23"/>
<line x1="348.40" y1="416.30" x2="348.40" y2="420.30" stroke="#111" stroke-width="1.20" />
<circle cx="348.40" cy="428.40" r="2.6" fill="#8c90c9"/>
<text x="322.00" y="263.80" font-size="12.40" text-anchor="middle" font-weight="normal" >OxPhos</text>
<path d="M295.20,282.20 L295.20,279.60 L351.30,279.60 L351.30,282.20" fill="none" stroke="#111" stroke-width="1.25"/>
<text x="323.25" y="279.40" font-size="8.60" text-anchor="middle" font-weight="normal" >***</text>
<path d="M295.20,293.50 L295.20,290.90 L322.40,290.90 L322.40,293.50" fill="none" stroke="#111" stroke-width="1.25"/>
<text x="308.80" y="290.70" font-size="8.60" text-anchor="middle" font-weight="normal" >**</text>
<text transform="translate(242.30,359.35) rotate(-90) scale(0.72,1)" font-size="12.5" text-anchor="middle" stroke="#111" stroke-width="0.4">Module score</text>
<path d="M439.15,324.60 C439.21,325.67 439.14,328.70 439.50,331.00 C439.86,333.30 440.55,335.93 441.30,338.40 C442.05,340.87 443.10,343.35 444.00,345.80 C444.90,348.25 445.87,350.65 446.70,353.10 C447.53,355.55 448.42,358.03 449.00,360.50 C449.58,362.97 450.12,365.45 450.20,367.90 C450.28,370.35 450.08,372.75 449.50,375.20 C448.92,377.65 447.70,380.13 446.70,382.60 C445.70,385.07 444.48,387.55 443.50,390.00 C442.52,392.45 441.47,395.47 440.80,397.30 C440.13,399.13 439.77,399.88 439.50,401.00 C439.23,402.12 439.21,402.30 439.15,404.00 C439.09,405.70 439.15,410.00 439.15,411.20 L438.25,411.20 C438.25,410.00 438.31,405.70 438.25,404.00 C438.19,402.30 438.17,402.12 437.90,401.00 C437.62,399.88 437.27,399.13 436.60,397.30 C435.93,395.47 434.88,392.45 433.90,390.00 C432.92,387.55 431.70,385.07 430.70,382.60 C429.70,380.13 428.48,377.65 427.90,375.20 C427.32,372.75 427.12,370.35 427.20,367.90 C427.28,365.45 427.82,362.97 428.40,360.50 C428.98,358.03 429.87,355.55 430.70,353.10 C431.53,350.65 432.50,348.25 433.40,345.80 C434.30,343.35 435.35,340.87 436.10,338.40 C436.85,335.93 437.54,333.30 437.90,331.00 C438.26,328.70 438.19,325.67 438.25,324.60 Z" fill="#e2be94" stroke="#111" stroke-width="1.4" stroke-linejoin="round"/>
<path d="M466.15,324.60 C466.21,325.67 466.19,328.70 466.50,331.00 C466.81,333.30 467.43,335.93 468.00,338.40 C468.57,340.87 469.25,343.35 469.90,345.80 C470.55,348.25 471.10,350.65 471.90,353.10 C472.70,355.55 473.82,358.03 474.70,360.50 C475.58,362.97 476.87,365.75 477.20,367.90 C477.53,370.05 477.20,371.57 476.70,373.40 C476.20,375.23 475.23,376.75 474.20,378.90 C473.17,381.05 471.62,383.83 470.50,386.30 C469.38,388.77 468.22,391.87 467.50,393.70 C466.78,395.53 466.43,395.53 466.20,397.30 C465.97,399.07 466.16,403.13 466.15,404.30 L465.25,404.30 C465.24,403.13 465.43,399.07 465.20,397.30 C464.97,395.53 464.62,395.53 463.90,393.70 C463.18,391.87 462.02,388.77 460.90,386.30 C459.78,383.83 458.23,381.05 457.20,378.90 C456.17,376.75 455.20,375.23 454.70,373.40 C454.20,371.57 453.87,370.05 454.20,367.90 C454.53,365.75 455.82,362.97 456.70,360.50 C457.58,358.03 458.70,355.55 459.50,353.10 C460.30,350.65 460.85,348.25 461.50,345.80 C462.15,343.35 462.83,340.87 463.40,338.40 C463.97,335.93 464.59,333.30 464.90,331.00 C465.21,328.70 465.19,325.67 465.25,324.60 Z" fill="#5b7229" stroke="#111" stroke-width="1.4" stroke-linejoin="round"/>
<path d="M493.05,306.80 C493.09,308.15 493.01,312.48 493.30,314.90 C493.59,317.32 494.10,318.82 494.80,321.30 C495.50,323.78 496.57,326.97 497.50,329.80 C498.43,332.63 499.43,335.47 500.40,338.30 C501.37,341.13 502.67,344.67 503.30,346.80 C503.93,348.93 504.15,349.33 504.20,351.10 C504.25,352.87 503.83,354.92 503.60,357.40 C503.37,359.88 503.30,363.15 502.80,366.00 C502.30,368.85 501.48,371.67 500.60,374.50 C499.72,377.33 498.47,380.52 497.50,383.00 C496.53,385.48 495.50,387.63 494.80,389.40 C494.10,391.17 493.59,392.33 493.30,393.60 C493.01,394.87 493.09,395.05 493.05,397.00 C493.01,398.95 493.05,403.92 493.05,405.30 L492.15,405.30 C492.15,403.92 492.19,398.95 492.15,397.00 C492.11,395.05 492.19,394.87 491.90,393.60 C491.61,392.33 491.10,391.17 490.40,389.40 C489.70,387.63 488.67,385.48 487.70,383.00 C486.73,380.52 485.48,377.33 484.60,374.50 C483.72,371.67 482.90,368.85 482.40,366.00 C481.90,363.15 481.83,359.88 481.60,357.40 C481.37,354.92 480.95,352.87 481.00,351.10 C481.05,349.33 481.27,348.93 481.90,346.80 C482.53,344.67 483.83,341.13 484.80,338.30 C485.77,335.47 486.77,332.63 487.70,329.80 C488.63,326.97 489.70,323.78 490.40,321.30 C491.10,318.82 491.61,317.32 491.90,314.90 C492.19,312.48 492.11,308.15 492.15,306.80 Z" fill="#8886c4" stroke="#111" stroke-width="1.4" stroke-linejoin="round"/>
<line x1="422.30" y1="301.30" x2="422.30" y2="416.90" stroke="#111" stroke-width="1.30" />
<line x1="421.70" y1="416.30" x2="509.90" y2="416.30" stroke="#111" stroke-width="1.30" />
<line x1="418.30" y1="318.50" x2="422.30" y2="318.50" stroke="#111" stroke-width="1.20" />
<text x="413.30" y="321.50" font-size="9.80" text-anchor="end" font-weight="normal" fill="#222">0.2</text>
<line x1="418.30" y1="348.70" x2="422.30" y2="348.70" stroke="#111" stroke-width="1.20" />
<text x="413.30" y="351.70" font-size="9.80" text-anchor="end" font-weight="normal" fill="#222">0.1</text>
<line x1="418.30" y1="378.90" x2="422.30" y2="378.90" stroke="#111" stroke-width="1.20" />
<text x="413.30" y="381.90" font-size="9.80" text-anchor="end" font-weight="normal" fill="#222">0.0</text>
<line x1="418.30" y1="409.20" x2="422.30" y2="409.20" stroke="#111" stroke-width="1.20" />
<text x="413.30" y="412.20" font-size="9.80" text-anchor="end" font-weight="normal" fill="#222">−0.1</text>
<line x1="438.70" y1="416.30" x2="438.70" y2="420.30" stroke="#111" stroke-width="1.20" />
<circle cx="438.70" cy="428.60" r="2.6" fill="#d9bd9c"/>
<line x1="465.70" y1="416.30" x2="465.70" y2="420.30" stroke="#111" stroke-width="1.20" />
<circle cx="465.70" cy="428.60" r="2.6" fill="#4b5e23"/>
<line x1="492.60" y1="416.30" x2="492.60" y2="420.30" stroke="#111" stroke-width="1.20" />
<circle cx="492.60" cy="428.60" r="2.6" fill="#8c90c9"/>
<text x="465.20" y="267.50" font-size="12.40" text-anchor="middle" font-weight="normal" >mTORC1</text>
<path d="M437.50,285.60 L437.50,283.00 L493.75,283.00 L493.75,285.60" fill="none" stroke="#111" stroke-width="1.25"/>
<text x="465.62" y="282.80" font-size="8.60" text-anchor="middle" font-weight="normal" >***</text>
<path d="M437.50,296.90 L437.50,294.30 L465.50,294.30 L465.50,296.90" fill="none" stroke="#111" stroke-width="1.25"/>
<text x="451.50" y="294.10" font-size="8.60" text-anchor="middle" font-weight="normal" >**</text>
<path d="M466.00,296.90 L466.00,294.30 L493.75,294.30 L493.75,296.90" fill="none" stroke="#111" stroke-width="1.25"/>
<text x="479.88" y="294.10" font-size="8.60" text-anchor="middle" font-weight="normal" >***</text>
<text transform="translate(386.80,359.30) rotate(-90) scale(0.72,1)" font-size="12.5" text-anchor="middle" stroke="#111" stroke-width="0.4">Module score</text>
<text transform="translate(296.10,440.00) rotate(-45)" font-size="15.2" text-anchor="end">CCR7+ FO</text>
<text transform="translate(323.10,440.00) rotate(-45)" font-size="15.2" text-anchor="end">CD38+ TrB</text>
<text transform="translate(349.90,440.00) rotate(-45)" font-size="15.2" text-anchor="end">ITGAX+ aN</text>
<text transform="translate(440.20,440.00) rotate(-45)" font-size="15.2" text-anchor="end">CCR7+ FO</text>
<text transform="translate(467.20,440.00) rotate(-45)" font-size="15.2" text-anchor="end">CD38+ TrB</text>
<text transform="translate(494.10,440.00) rotate(-45)" font-size="15.2" text-anchor="end">ITGAX+ aN</text>
<rect x="0.5" y="0.5" width="519" height="515" fill="none" stroke="#1a1a1a" stroke-width="1.1"/>
</svg></body></html>
